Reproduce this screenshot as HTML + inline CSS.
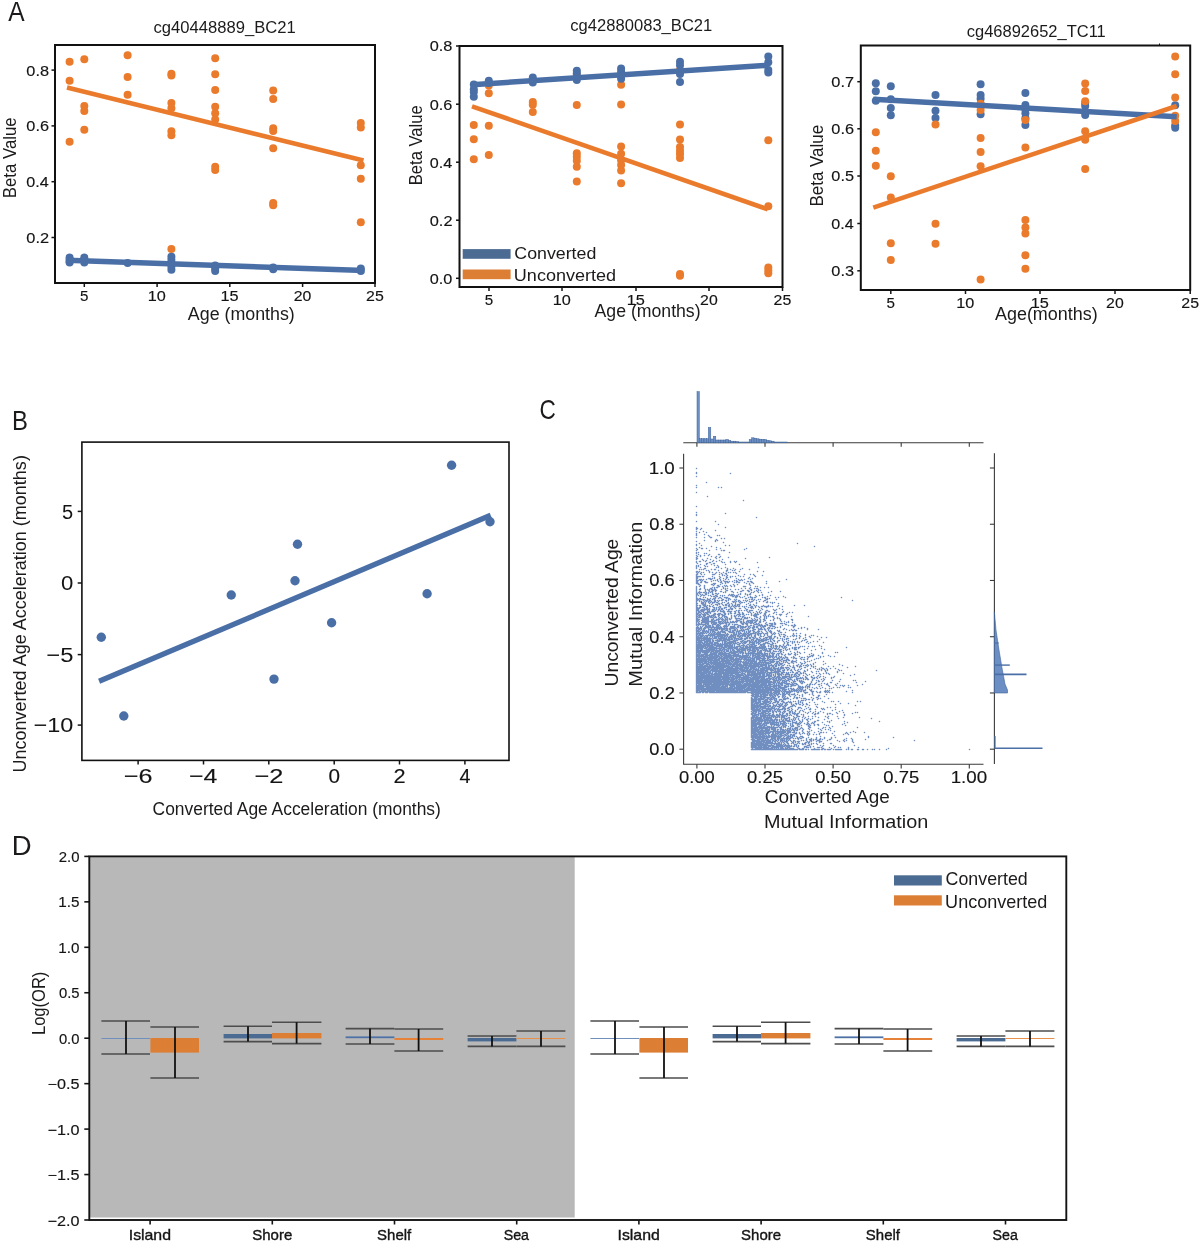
<!DOCTYPE html>
<html><head><meta charset="utf-8"><style>
html,body{margin:0;padding:0;background:#fff;}
svg{display:block;font-family:"Liberation Sans",sans-serif;will-change:transform;}
</style></head><body>
<svg width="1200" height="1243" viewBox="0 0 1200 1243">
<rect width="1200" height="1243" fill="#fff"/>
<text font-size="27.62" fill="#1c1a1a" transform="translate(8.2 21) scale(0.8874 1)">A</text>
<text font-size="28.34" fill="#1c1a1a" transform="translate(12.04 429.7) scale(0.8419 1)">B</text>
<text font-size="27.68" fill="#1c1a1a" transform="translate(539.55 418.53) scale(0.8157 1)">C</text>
<text font-size="28.2" fill="#1c1a1a" transform="translate(11.74 855.2) scale(0.9760 1)">D</text>
<circle cx="69.6" cy="61.7" r="4" fill="#eb7b2c" />
<circle cx="69.6" cy="80.7" r="4" fill="#eb7b2c" />
<circle cx="69.6" cy="141.7" r="4" fill="#eb7b2c" />
<circle cx="84.3" cy="59.3" r="4" fill="#eb7b2c" />
<circle cx="84.3" cy="106" r="4" fill="#eb7b2c" />
<circle cx="84.3" cy="111" r="4" fill="#eb7b2c" />
<circle cx="84.3" cy="129.7" r="4" fill="#eb7b2c" />
<circle cx="127.6" cy="55.3" r="4" fill="#eb7b2c" />
<circle cx="127.6" cy="77" r="4" fill="#eb7b2c" />
<circle cx="127.6" cy="94.7" r="4" fill="#eb7b2c" />
<circle cx="171.4" cy="73.7" r="4" fill="#eb7b2c" />
<circle cx="171.4" cy="75.5" r="4" fill="#eb7b2c" />
<circle cx="171.4" cy="103" r="4" fill="#eb7b2c" />
<circle cx="171.4" cy="108.3" r="4" fill="#eb7b2c" />
<circle cx="171.4" cy="131.3" r="4" fill="#eb7b2c" />
<circle cx="171.4" cy="135.3" r="4" fill="#eb7b2c" />
<circle cx="171.4" cy="248.9" r="4" fill="#eb7b2c" />
<circle cx="215.2" cy="58.3" r="4" fill="#eb7b2c" />
<circle cx="215.2" cy="74.3" r="4" fill="#eb7b2c" />
<circle cx="215.2" cy="90" r="4" fill="#eb7b2c" />
<circle cx="215.2" cy="106.7" r="4" fill="#eb7b2c" />
<circle cx="215.2" cy="113.3" r="4" fill="#eb7b2c" />
<circle cx="215.2" cy="119.5" r="4" fill="#eb7b2c" />
<circle cx="215.2" cy="166.7" r="4" fill="#eb7b2c" />
<circle cx="215.2" cy="170" r="4" fill="#eb7b2c" />
<circle cx="273.2" cy="90.4" r="4" fill="#eb7b2c" />
<circle cx="273.2" cy="98.9" r="4" fill="#eb7b2c" />
<circle cx="273.2" cy="128.2" r="4" fill="#eb7b2c" />
<circle cx="273.2" cy="130.9" r="4" fill="#eb7b2c" />
<circle cx="273.2" cy="148.3" r="4" fill="#eb7b2c" />
<circle cx="273.2" cy="203" r="4" fill="#eb7b2c" />
<circle cx="273.2" cy="205.3" r="4" fill="#eb7b2c" />
<circle cx="360.8" cy="123" r="4" fill="#eb7b2c" />
<circle cx="360.8" cy="127.4" r="4" fill="#eb7b2c" />
<circle cx="360.8" cy="165.3" r="4" fill="#eb7b2c" />
<circle cx="360.8" cy="178.7" r="4" fill="#eb7b2c" />
<circle cx="360.8" cy="222.3" r="4" fill="#eb7b2c" />
<line x1="67" y1="87.6" x2="363.5" y2="160.5" stroke="#eb7b2c" stroke-width="4.6" stroke-linecap="butt" />
<circle cx="69.6" cy="257.5" r="4" fill="#4a6fa6" />
<circle cx="69.6" cy="259.5" r="4" fill="#4a6fa6" />
<circle cx="69.6" cy="261.5" r="4" fill="#4a6fa6" />
<circle cx="69.6" cy="262.5" r="4" fill="#4a6fa6" />
<circle cx="84.3" cy="257.5" r="4" fill="#4a6fa6" />
<circle cx="84.3" cy="259.5" r="4" fill="#4a6fa6" />
<circle cx="84.3" cy="262.5" r="4" fill="#4a6fa6" />
<circle cx="127.6" cy="263" r="4" fill="#4a6fa6" />
<circle cx="171.4" cy="256.7" r="4" fill="#4a6fa6" />
<circle cx="171.4" cy="260" r="4" fill="#4a6fa6" />
<circle cx="171.4" cy="263.5" r="4" fill="#4a6fa6" />
<circle cx="171.4" cy="266.5" r="4" fill="#4a6fa6" />
<circle cx="171.4" cy="269.7" r="4" fill="#4a6fa6" />
<circle cx="215.2" cy="265.5" r="4" fill="#4a6fa6" />
<circle cx="215.2" cy="268.5" r="4" fill="#4a6fa6" />
<circle cx="215.2" cy="271" r="4" fill="#4a6fa6" />
<circle cx="273.2" cy="267.5" r="4" fill="#4a6fa6" />
<circle cx="273.2" cy="269.3" r="4" fill="#4a6fa6" />
<circle cx="360.8" cy="268.5" r="4" fill="#4a6fa6" />
<circle cx="360.8" cy="271" r="4" fill="#4a6fa6" />
<line x1="67" y1="260.3" x2="364.3" y2="270.5" stroke="#4a6fa6" stroke-width="5.5" stroke-linecap="butt" />
<rect x="55" y="45" width="320" height="238" fill="none" stroke="#111" stroke-width="2"/>
<line x1="51.5" y1="70.1" x2="55" y2="70.1" stroke="#141414" stroke-width="1.5" stroke-linecap="butt" />
<line x1="51.5" y1="125.9" x2="55" y2="125.9" stroke="#141414" stroke-width="1.5" stroke-linecap="butt" />
<line x1="51.5" y1="181.7" x2="55" y2="181.7" stroke="#141414" stroke-width="1.5" stroke-linecap="butt" />
<line x1="51.5" y1="237.5" x2="55" y2="237.5" stroke="#141414" stroke-width="1.5" stroke-linecap="butt" />
<line x1="84.3" y1="283" x2="84.3" y2="287" stroke="#141414" stroke-width="1.5" stroke-linecap="butt" />
<line x1="157.1" y1="283" x2="157.1" y2="287" stroke="#141414" stroke-width="1.5" stroke-linecap="butt" />
<line x1="229.8" y1="283" x2="229.8" y2="287" stroke="#141414" stroke-width="1.5" stroke-linecap="butt" />
<line x1="302.6" y1="283" x2="302.6" y2="287" stroke="#141414" stroke-width="1.5" stroke-linecap="butt" />
<line x1="375" y1="283" x2="375" y2="287" stroke="#141414" stroke-width="1.5" stroke-linecap="butt" />
<text font-size="15.47" fill="#141414" stroke="#141414" stroke-width="0.15" transform="translate(26.35 75.5) scale(1.0537 1)">0.8</text>
<text font-size="15.47" fill="#141414" stroke="#141414" stroke-width="0.15" transform="translate(26.35 131.3) scale(1.0541 1)">0.6</text>
<text font-size="15.47" fill="#141414" stroke="#141414" stroke-width="0.15" transform="translate(26.35 187.1) scale(1.0424 1)">0.4</text>
<text font-size="15.47" fill="#141414" stroke="#141414" stroke-width="0.15" transform="translate(26.34 242.9) scale(1.0593 1)">0.2</text>
<text font-size="15.05" fill="#141414" stroke="#141414" stroke-width="0.15" transform="translate(80.1 301.2) scale(1.0072 1)">5</text>
<text font-size="15.05" fill="#141414" stroke="#141414" stroke-width="0.15" transform="translate(147.75 301.2) scale(1.0809 1)">10</text>
<text font-size="15.05" fill="#141414" stroke="#141414" stroke-width="0.15" transform="translate(220.45 301.2) scale(1.0841 1)">15</text>
<text font-size="15.05" fill="#141414" stroke="#141414" stroke-width="0.15" transform="translate(293.69 301.2) scale(1.0536 1)">20</text>
<text font-size="15.05" fill="#141414" stroke="#141414" stroke-width="0.15" transform="translate(366.09 301.2) scale(1.0566 1)">25</text>
<text font-size="16.57" fill="#1c1a1a" transform="translate(153.49 33.4) scale(1.0037 1)">cg40448889_BC21</text>
<text font-size="18.02" fill="#1c1a1a" transform="translate(187.87 319.9) scale(0.9894 1)">Age (months)</text>
<text font-size="18.31" fill="#1c1a1a" transform="translate(16.2 198.28) rotate(-90) scale(0.9177 1)">Beta Value</text>
<circle cx="473.8" cy="125" r="4" fill="#eb7b2c" />
<circle cx="473.8" cy="139.2" r="4" fill="#eb7b2c" />
<circle cx="473.8" cy="159.2" r="4" fill="#eb7b2c" />
<circle cx="488.8" cy="85.5" r="4" fill="#eb7b2c" />
<circle cx="488.8" cy="93.3" r="4" fill="#eb7b2c" />
<circle cx="488.8" cy="125.8" r="4" fill="#eb7b2c" />
<circle cx="488.8" cy="155" r="4" fill="#eb7b2c" />
<circle cx="532.8" cy="102" r="4" fill="#eb7b2c" />
<circle cx="532.8" cy="104.7" r="4" fill="#eb7b2c" />
<circle cx="532.8" cy="112" r="4" fill="#eb7b2c" />
<circle cx="576.8" cy="75" r="4" fill="#eb7b2c" />
<circle cx="576.8" cy="105" r="4" fill="#eb7b2c" />
<circle cx="576.8" cy="153.3" r="4" fill="#eb7b2c" />
<circle cx="576.8" cy="156.7" r="4" fill="#eb7b2c" />
<circle cx="576.8" cy="160.8" r="4" fill="#eb7b2c" />
<circle cx="576.8" cy="166.7" r="4" fill="#eb7b2c" />
<circle cx="576.8" cy="181.5" r="4" fill="#eb7b2c" />
<circle cx="621.1" cy="84.8" r="4" fill="#eb7b2c" />
<circle cx="621.1" cy="104.4" r="4" fill="#eb7b2c" />
<circle cx="621.1" cy="146.4" r="4" fill="#eb7b2c" />
<circle cx="621.1" cy="153.7" r="4" fill="#eb7b2c" />
<circle cx="621.1" cy="160.3" r="4" fill="#eb7b2c" />
<circle cx="621.1" cy="165.1" r="4" fill="#eb7b2c" />
<circle cx="621.1" cy="170.6" r="4" fill="#eb7b2c" />
<circle cx="621.1" cy="183.3" r="4" fill="#eb7b2c" />
<circle cx="680" cy="70" r="4" fill="#eb7b2c" />
<circle cx="680" cy="124.4" r="4" fill="#eb7b2c" />
<circle cx="680" cy="139.4" r="4" fill="#eb7b2c" />
<circle cx="680" cy="146.9" r="4" fill="#eb7b2c" />
<circle cx="680" cy="150.8" r="4" fill="#eb7b2c" />
<circle cx="680" cy="154" r="4" fill="#eb7b2c" />
<circle cx="680" cy="158" r="4" fill="#eb7b2c" />
<circle cx="680" cy="274" r="4" fill="#eb7b2c" />
<circle cx="680" cy="275.7" r="4" fill="#eb7b2c" />
<circle cx="768.3" cy="140.2" r="4" fill="#eb7b2c" />
<circle cx="768.3" cy="206.2" r="4" fill="#eb7b2c" />
<circle cx="768.3" cy="267.5" r="4" fill="#eb7b2c" />
<circle cx="768.3" cy="270.4" r="4" fill="#eb7b2c" />
<circle cx="768.3" cy="273.3" r="4" fill="#eb7b2c" />
<circle cx="473.8" cy="84.5" r="4" fill="#4a6fa6" />
<circle cx="473.8" cy="89.2" r="4" fill="#4a6fa6" />
<circle cx="473.8" cy="92" r="4" fill="#4a6fa6" />
<circle cx="473.8" cy="96.7" r="4" fill="#4a6fa6" />
<circle cx="488.8" cy="80.8" r="4" fill="#4a6fa6" />
<circle cx="488.8" cy="83" r="4" fill="#4a6fa6" />
<circle cx="532.8" cy="77.5" r="4" fill="#4a6fa6" />
<circle cx="532.8" cy="80" r="4" fill="#4a6fa6" />
<circle cx="532.8" cy="82.5" r="4" fill="#4a6fa6" />
<circle cx="576.8" cy="70.8" r="4" fill="#4a6fa6" />
<circle cx="576.8" cy="73.3" r="4" fill="#4a6fa6" />
<circle cx="576.8" cy="80" r="4" fill="#4a6fa6" />
<circle cx="621.1" cy="68.5" r="4" fill="#4a6fa6" />
<circle cx="621.1" cy="71.7" r="4" fill="#4a6fa6" />
<circle cx="621.1" cy="75.6" r="4" fill="#4a6fa6" />
<circle cx="621.1" cy="78.8" r="4" fill="#4a6fa6" />
<circle cx="680" cy="61.7" r="4" fill="#4a6fa6" />
<circle cx="680" cy="65.3" r="4" fill="#4a6fa6" />
<circle cx="680" cy="74" r="4" fill="#4a6fa6" />
<circle cx="680" cy="82" r="4" fill="#4a6fa6" />
<circle cx="768.3" cy="56.6" r="4" fill="#4a6fa6" />
<circle cx="768.3" cy="62.2" r="4" fill="#4a6fa6" />
<circle cx="768.3" cy="70.1" r="4" fill="#4a6fa6" />
<circle cx="768.3" cy="72.5" r="4" fill="#4a6fa6" />
<line x1="472" y1="106.3" x2="767.8" y2="209.3" stroke="#eb7b2c" stroke-width="4.6" stroke-linecap="butt" />
<line x1="472" y1="84.7" x2="767.8" y2="65.3" stroke="#4a6fa6" stroke-width="5.5" stroke-linecap="butt" />
<rect x="459.5" y="46" width="323" height="241" fill="none" stroke="#111" stroke-width="2"/>
<line x1="456" y1="46" x2="459.5" y2="46" stroke="#141414" stroke-width="1.5" stroke-linecap="butt" />
<line x1="456" y1="104.2" x2="459.5" y2="104.2" stroke="#141414" stroke-width="1.5" stroke-linecap="butt" />
<line x1="456" y1="162.2" x2="459.5" y2="162.2" stroke="#141414" stroke-width="1.5" stroke-linecap="butt" />
<line x1="456" y1="220.2" x2="459.5" y2="220.2" stroke="#141414" stroke-width="1.5" stroke-linecap="butt" />
<line x1="456" y1="278.3" x2="459.5" y2="278.3" stroke="#141414" stroke-width="1.5" stroke-linecap="butt" />
<line x1="489" y1="287" x2="489" y2="291" stroke="#141414" stroke-width="1.5" stroke-linecap="butt" />
<line x1="562" y1="287" x2="562" y2="291" stroke="#141414" stroke-width="1.5" stroke-linecap="butt" />
<line x1="636" y1="287" x2="636" y2="291" stroke="#141414" stroke-width="1.5" stroke-linecap="butt" />
<line x1="709" y1="287" x2="709" y2="291" stroke="#141414" stroke-width="1.5" stroke-linecap="butt" />
<line x1="782.5" y1="287" x2="782.5" y2="291" stroke="#141414" stroke-width="1.5" stroke-linecap="butt" />
<text font-size="15.47" fill="#141414" stroke="#141414" stroke-width="0.15" transform="translate(429.75 51.4) scale(1.0537 1)">0.8</text>
<text font-size="15.47" fill="#141414" stroke="#141414" stroke-width="0.15" transform="translate(429.75 109.6) scale(1.0541 1)">0.6</text>
<text font-size="15.47" fill="#141414" stroke="#141414" stroke-width="0.15" transform="translate(429.75 167.6) scale(1.0424 1)">0.4</text>
<text font-size="15.47" fill="#141414" stroke="#141414" stroke-width="0.15" transform="translate(429.74 225.6) scale(1.0593 1)">0.2</text>
<text font-size="15.47" fill="#141414" stroke="#141414" stroke-width="0.15" transform="translate(429.75 283.7) scale(1.0502 1)">0.0</text>
<text font-size="15.05" fill="#141414" stroke="#141414" stroke-width="0.15" transform="translate(484.8 305) scale(1.0072 1)">5</text>
<text font-size="15.05" fill="#141414" stroke="#141414" stroke-width="0.15" transform="translate(552.65 305) scale(1.0809 1)">10</text>
<text font-size="15.05" fill="#141414" stroke="#141414" stroke-width="0.15" transform="translate(626.65 305) scale(1.0841 1)">15</text>
<text font-size="15.05" fill="#141414" stroke="#141414" stroke-width="0.15" transform="translate(700.09 305) scale(1.0536 1)">20</text>
<text font-size="15.05" fill="#141414" stroke="#141414" stroke-width="0.15" transform="translate(773.59 305) scale(1.0566 1)">25</text>
<text font-size="16.42" fill="#1c1a1a" transform="translate(570.29 31.2) scale(1.0105 1)">cg42880083_BC21</text>
<text font-size="17.73" fill="#1c1a1a" transform="translate(594.57 317.1) scale(0.9971 1)">Age (months)</text>
<text font-size="18.31" fill="#1c1a1a" transform="translate(421.5 185.26) rotate(-90) scale(0.9073 1)">Beta Value</text>
<rect x="462.7" y="249.1" width="47.9" height="9.7" fill="#4c6b92" />
<rect x="462.7" y="269.5" width="47.9" height="9.7" fill="#dc7e34" />
<text font-size="17.01" fill="#1c1a1a" transform="translate(514.3 258.8) scale(1.0457 1)">Converted</text>
<text font-size="17.01" fill="#1c1a1a" transform="translate(513.81 281.2) scale(1.0615 1)">Unconverted</text>
<circle cx="875.8" cy="83.3" r="4" fill="#4a6fa6" />
<circle cx="875.8" cy="91.2" r="4" fill="#4a6fa6" />
<circle cx="875.8" cy="100.8" r="4" fill="#4a6fa6" />
<circle cx="890.8" cy="86.3" r="4" fill="#4a6fa6" />
<circle cx="890.8" cy="99.2" r="4" fill="#4a6fa6" />
<circle cx="890.8" cy="108" r="4" fill="#4a6fa6" />
<circle cx="890.8" cy="115.3" r="4" fill="#4a6fa6" />
<circle cx="935.5" cy="95" r="4" fill="#4a6fa6" />
<circle cx="935.5" cy="110.8" r="4" fill="#4a6fa6" />
<circle cx="935.5" cy="118" r="4" fill="#4a6fa6" />
<circle cx="980.6" cy="84.2" r="4" fill="#4a6fa6" />
<circle cx="980.6" cy="95" r="4" fill="#4a6fa6" />
<circle cx="980.6" cy="98.7" r="4" fill="#4a6fa6" />
<circle cx="980.6" cy="104.2" r="4" fill="#4a6fa6" />
<circle cx="980.6" cy="114.2" r="4" fill="#4a6fa6" />
<circle cx="1025.4" cy="93" r="4" fill="#4a6fa6" />
<circle cx="1025.4" cy="105" r="4" fill="#4a6fa6" />
<circle cx="1025.4" cy="109.2" r="4" fill="#4a6fa6" />
<circle cx="1025.4" cy="113.3" r="4" fill="#4a6fa6" />
<circle cx="1025.4" cy="118.3" r="4" fill="#4a6fa6" />
<circle cx="1025.4" cy="125" r="4" fill="#4a6fa6" />
<circle cx="1085.2" cy="103" r="4" fill="#4a6fa6" />
<circle cx="1085.2" cy="106" r="4" fill="#4a6fa6" />
<circle cx="1085.2" cy="112" r="4" fill="#4a6fa6" />
<circle cx="1085.2" cy="115" r="4" fill="#4a6fa6" />
<circle cx="1175.2" cy="105.2" r="4" fill="#4a6fa6" />
<circle cx="1175.2" cy="125.5" r="4" fill="#4a6fa6" />
<circle cx="1175.2" cy="127.7" r="4" fill="#4a6fa6" />
<circle cx="875.8" cy="132.2" r="4" fill="#eb7b2c" />
<circle cx="875.8" cy="150.8" r="4" fill="#eb7b2c" />
<circle cx="875.8" cy="165.8" r="4" fill="#eb7b2c" />
<circle cx="890.8" cy="176.3" r="4" fill="#eb7b2c" />
<circle cx="890.8" cy="197.5" r="4" fill="#eb7b2c" />
<circle cx="890.8" cy="243.3" r="4" fill="#eb7b2c" />
<circle cx="890.8" cy="260" r="4" fill="#eb7b2c" />
<circle cx="935.5" cy="124.5" r="4" fill="#eb7b2c" />
<circle cx="935.5" cy="223.7" r="4" fill="#eb7b2c" />
<circle cx="935.5" cy="243.8" r="4" fill="#eb7b2c" />
<circle cx="980.6" cy="103.8" r="4" fill="#eb7b2c" />
<circle cx="980.6" cy="110" r="4" fill="#eb7b2c" />
<circle cx="980.6" cy="138" r="4" fill="#eb7b2c" />
<circle cx="980.6" cy="152" r="4" fill="#eb7b2c" />
<circle cx="980.6" cy="166.2" r="4" fill="#eb7b2c" />
<circle cx="980.6" cy="279.5" r="4" fill="#eb7b2c" />
<circle cx="1025.4" cy="120" r="4" fill="#eb7b2c" />
<circle cx="1025.4" cy="147.5" r="4" fill="#eb7b2c" />
<circle cx="1025.4" cy="220" r="4" fill="#eb7b2c" />
<circle cx="1025.4" cy="227.5" r="4" fill="#eb7b2c" />
<circle cx="1025.4" cy="233.5" r="4" fill="#eb7b2c" />
<circle cx="1025.4" cy="255.3" r="4" fill="#eb7b2c" />
<circle cx="1025.4" cy="268.7" r="4" fill="#eb7b2c" />
<circle cx="1085.2" cy="83.5" r="4" fill="#eb7b2c" />
<circle cx="1085.2" cy="91" r="4" fill="#eb7b2c" />
<circle cx="1085.2" cy="101.2" r="4" fill="#eb7b2c" />
<circle cx="1085.2" cy="131.2" r="4" fill="#eb7b2c" />
<circle cx="1085.2" cy="139.7" r="4" fill="#eb7b2c" />
<circle cx="1085.2" cy="169" r="4" fill="#eb7b2c" />
<circle cx="1175.2" cy="56.5" r="4" fill="#eb7b2c" />
<circle cx="1175.2" cy="74.2" r="4" fill="#eb7b2c" />
<circle cx="1175.2" cy="97.4" r="4" fill="#eb7b2c" />
<circle cx="1175.2" cy="115.7" r="4" fill="#eb7b2c" />
<circle cx="1175.2" cy="121" r="4" fill="#eb7b2c" />
<line x1="873.3" y1="99.2" x2="1176.7" y2="116.8" stroke="#4a6fa6" stroke-width="5.5" stroke-linecap="butt" />
<line x1="873.3" y1="207.6" x2="1176.7" y2="106" stroke="#eb7b2c" stroke-width="4.6" stroke-linecap="butt" />
<rect x="860.8" y="45.5" width="329.4" height="244.5" fill="none" stroke="#111" stroke-width="2"/>
<line x1="857.3" y1="81.7" x2="860.8" y2="81.7" stroke="#141414" stroke-width="1.5" stroke-linecap="butt" />
<line x1="857.3" y1="128.8" x2="860.8" y2="128.8" stroke="#141414" stroke-width="1.5" stroke-linecap="butt" />
<line x1="857.3" y1="176" x2="860.8" y2="176" stroke="#141414" stroke-width="1.5" stroke-linecap="butt" />
<line x1="857.3" y1="223.5" x2="860.8" y2="223.5" stroke="#141414" stroke-width="1.5" stroke-linecap="butt" />
<line x1="857.3" y1="270.8" x2="860.8" y2="270.8" stroke="#141414" stroke-width="1.5" stroke-linecap="butt" />
<line x1="890.8" y1="290" x2="890.8" y2="294" stroke="#141414" stroke-width="1.5" stroke-linecap="butt" />
<line x1="965.5" y1="290" x2="965.5" y2="294" stroke="#141414" stroke-width="1.5" stroke-linecap="butt" />
<line x1="1040" y1="290" x2="1040" y2="294" stroke="#141414" stroke-width="1.5" stroke-linecap="butt" />
<line x1="1115" y1="290" x2="1115" y2="294" stroke="#141414" stroke-width="1.5" stroke-linecap="butt" />
<line x1="1190.2" y1="290" x2="1190.2" y2="294" stroke="#141414" stroke-width="1.5" stroke-linecap="butt" />
<line x1="1159.5" y1="43.5" x2="1159.5" y2="45.5" stroke="#141414" stroke-width="1" stroke-linecap="butt" />
<text font-size="15.47" fill="#141414" stroke="#141414" stroke-width="0.15" transform="translate(831.34 87.1) scale(1.0593 1)">0.7</text>
<text font-size="15.47" fill="#141414" stroke="#141414" stroke-width="0.15" transform="translate(831.35 134.2) scale(1.0541 1)">0.6</text>
<text font-size="15.47" fill="#141414" stroke="#141414" stroke-width="0.15" transform="translate(831.35 181.4) scale(1.0525 1)">0.5</text>
<text font-size="15.47" fill="#141414" stroke="#141414" stroke-width="0.15" transform="translate(831.35 228.9) scale(1.0424 1)">0.4</text>
<text font-size="15.47" fill="#141414" stroke="#141414" stroke-width="0.15" transform="translate(831.35 276.2) scale(1.0541 1)">0.3</text>
<text font-size="15.05" fill="#141414" stroke="#141414" stroke-width="0.15" transform="translate(886.6 308.3) scale(1.0072 1)">5</text>
<text font-size="15.05" fill="#141414" stroke="#141414" stroke-width="0.15" transform="translate(956.15 308.3) scale(1.0809 1)">10</text>
<text font-size="15.05" fill="#141414" stroke="#141414" stroke-width="0.15" transform="translate(1030.65 308.3) scale(1.0841 1)">15</text>
<text font-size="15.05" fill="#141414" stroke="#141414" stroke-width="0.15" transform="translate(1106.09 308.3) scale(1.0536 1)">20</text>
<text font-size="15.05" fill="#141414" stroke="#141414" stroke-width="0.15" transform="translate(1181.29 308.3) scale(1.0566 1)">25</text>
<text font-size="16.57" fill="#1c1a1a" transform="translate(966.8 37.4) scale(0.9954 1)">cg46892652_TC11</text>
<text font-size="17.73" fill="#1c1a1a" transform="translate(994.96 319.5) scale(1.0132 1)">Age(months)</text>
<text font-size="18.31" fill="#1c1a1a" transform="translate(823.2 206.49) rotate(-90) scale(0.9257 1)">Beta Value</text>
<circle cx="101.3" cy="637.3" r="4.7" fill="#4a6fa6" />
<circle cx="123.8" cy="716" r="4.7" fill="#4a6fa6" />
<circle cx="231.25" cy="595" r="4.7" fill="#4a6fa6" />
<circle cx="274" cy="679.1" r="4.7" fill="#4a6fa6" />
<circle cx="295" cy="580.8" r="4.7" fill="#4a6fa6" />
<circle cx="297.5" cy="544.2" r="4.7" fill="#4a6fa6" />
<circle cx="331.6" cy="622.8" r="4.7" fill="#4a6fa6" />
<circle cx="427.1" cy="593.75" r="4.7" fill="#4a6fa6" />
<circle cx="451.6" cy="465.3" r="4.7" fill="#4a6fa6" />
<circle cx="490" cy="521.7" r="4.7" fill="#4a6fa6" />
<line x1="99.1" y1="681.3" x2="490.7" y2="515.3" stroke="#4a6fa6" stroke-width="5.3" stroke-linecap="butt" />
<rect x="81.9" y="442.1" width="427.1" height="318.3" fill="none" stroke="#111" stroke-width="1.6"/>
<line x1="77.7" y1="511.4" x2="81.9" y2="511.4" stroke="#141414" stroke-width="1.5" stroke-linecap="butt" />
<line x1="77.7" y1="583" x2="81.9" y2="583" stroke="#141414" stroke-width="1.5" stroke-linecap="butt" />
<line x1="77.7" y1="654.6" x2="81.9" y2="654.6" stroke="#141414" stroke-width="1.5" stroke-linecap="butt" />
<line x1="77.7" y1="725.1" x2="81.9" y2="725.1" stroke="#141414" stroke-width="1.5" stroke-linecap="butt" />
<line x1="138.1" y1="760.4" x2="138.1" y2="764.5" stroke="#141414" stroke-width="1.5" stroke-linecap="butt" />
<line x1="203.5" y1="760.4" x2="203.5" y2="764.5" stroke="#141414" stroke-width="1.5" stroke-linecap="butt" />
<line x1="268.8" y1="760.4" x2="268.8" y2="764.5" stroke="#141414" stroke-width="1.5" stroke-linecap="butt" />
<line x1="334.2" y1="760.4" x2="334.2" y2="764.5" stroke="#141414" stroke-width="1.5" stroke-linecap="butt" />
<line x1="399.5" y1="760.4" x2="399.5" y2="764.5" stroke="#141414" stroke-width="1.5" stroke-linecap="butt" />
<line x1="464.9" y1="760.4" x2="464.9" y2="764.5" stroke="#141414" stroke-width="1.5" stroke-linecap="butt" />
<text font-size="20.79" fill="#141414" transform="translate(62.1 518.6) scale(0.9640 1)">5</text>
<text font-size="20.79" fill="#141414" transform="translate(60.93 590.2) scale(1.0668 1)">0</text>
<text font-size="20.79" fill="#141414" transform="translate(46.22 661.8) scale(1.1468 1)">−5</text>
<text font-size="20.79" fill="#141414" transform="translate(33.44 732.3) scale(1.1310 1)">−10</text>
<text font-size="20.77" fill="#141414" stroke="#141414" stroke-width="0.15" transform="translate(123.69 783.4) scale(1.2116 1)">−6</text>
<text font-size="20.77" fill="#141414" stroke="#141414" stroke-width="0.15" transform="translate(189.1 783.4) scale(1.1949 1)">−4</text>
<text font-size="20.77" fill="#141414" stroke="#141414" stroke-width="0.15" transform="translate(254.38 783.4) scale(1.2190 1)">−2</text>
<text font-size="20.77" fill="#141414" stroke="#141414" stroke-width="0.15" transform="translate(328.43 783.4) scale(0.9990 1)">0</text>
<text font-size="20.77" fill="#141414" stroke="#141414" stroke-width="0.15" transform="translate(393.45 783.4) scale(1.0482 1)">2</text>
<text font-size="20.77" fill="#141414" stroke="#141414" stroke-width="0.15" transform="translate(459.49 783.4) scale(0.9477 1)">4</text>
<text font-size="18.31" fill="#1c1a1a" transform="translate(152.62 814.9) scale(0.9505 1)">Converted Age Acceleration (months)</text>
<text font-size="18.31" fill="#1c1a1a" transform="translate(26.2 772.49) rotate(-90) scale(0.9842 1)">Unconverted Age Acceleration (months)</text>
<path d="M696.5 468.5h0m0 4h0m0 1h0m0 0h0m34 0h0m-34 3h0m10 6h0m-10 3h0m0 2h0m22 0h0m3 0h0m-25 5h0m0 0h0m11 4h0m36 4h0m-47 6h0m0 0h0m0 6h0m29 1h0m-29 1h0m0 1h0m60 2h0m-60 4h0m19 0h0m3 3h0m-22 3h0m29 0h0m-29 1h0m0 0h0m1 0h0m4 0h0m-5 1h0m4 0h0m15 1h0m-19 1h0m7 0h0m-4 1h0m7 0h0m-10 1h0m0 1h0m8 0h0m-8 1h0m12 0h0m9 0h0m2 0h0m-10 1h0m-13 1h0m8 0h0m6 0h0m1 0h0m10 1h0m3 0h0m-8 1h0m-12 1h0m11 0h0m2 0h0m-21 1h0m19 0h0m8 1h0m-24 1h0m98 0h0m-101 1h0m0 1h0m0 0h0m5 0h0m0 0h0m24 0h0m4 0h0m-18 1h0m103 0h0m-115 1h0m17 0h0m-20 1h0m0 0h0m5 0h0m1 0h0m4 0h0m14 0h0m0 0h0m26 0h0m-49 1h0m19 0h0m28 0h0m-48 1h0m0 0h0m13 0h0m12 0h0m2 0h0m1 0h0m-28 2h0m2 0h0m31 0h0m-33 1h0m0 0h0m0 0h0m8 0h0m2 0h0m-8 1h0m11 0h0m9 0h0m1 0h0m-23 1h0m4 0h0m4 0h0m4 0h0m-11 1h0m3 0h0m11 0h0m5 0h0m4 0h0m-24 1h0m19 0h0m4 0h0m9 0h0m41 0h0m-73 1h0m1 0h0m10 0h0m9 0h0m29 0h0m-49 1h0m0 0h0m0 0h0m6 0h0m0 0h0m8 0h0m0 0h0m12 0h0m-19 1h0m3 0h0m7 0h0m6 0h0m-23 1h0m3 0h0m1 0h0m5 0h0m7 0h0m4 0h0m5 0h0m9 0h0m4 0h0m2 0h0m-40 1h0m13 0h0m1 0h0m12 0h0m2 0h0m6 0h0m5 0h0m22 0h0m-60 1h0m9 0h0m1 0h0m6 0h0m1 0h0m-14 1h0m6 0h0m5 0h0m14 0h0m14 0h0m-43 1h0m0 0h0m2 0h0m6 0h0m0 0h0m10 0h0m3 0h0m-21 1h0m2 0h0m7 0h0m2 0h0m11 0h0m-22 1h0m4 0h0m16 0h0m2 0h0m7 0h0m33 0h0m-62 1h0m0 0h0m8 0h0m1 0h0m16 0h0m6 0h0m6 0h0m9 0h0m-43 1h0m2 0h0m0 0h0m2 0h0m8 0h0m3 0h0m1 0h0m0 0h0m12 0h0m3 0h0m5 0h0m5 0h0m9 0h0m-43 1h0m2 0h0m10 0h0m8 0h0m1 0h0m5 0h0m2 0h0m-38 1h0m0 0h0m1 0h0m2 0h0m0 0h0m0 0h0m10 0h0m17 0h0m13 0h0m18 0h0m6 0h0m-67 1h0m0 0h0m0 0h0m2 0h0m0 0h0m3 0h0m2 0h0m6 0h0m3 0h0m0 0h0m4 0h0m3 0h0m4 0h0m5 0h0m2 0h0m3 0h0m2 0h0m-38 1h0m3 0h0m15 0h0m0 0h0m6 0h0m4 0h0m1 0h0m10 0h0m-40 1h0m0 0h0m0 0h0m0 0h0m1 0h0m4 0h0m3 0h0m8 0h0m1 0h0m1 0h0m5 0h0m3 0h0m4 0h0m18 0h0m6 0h0m3 0h0m-57 1h0m26 0h0m2 0h0m3 0h0m11 0h0m16 0h0m8 0h0m-66 1h0m1 0h0m1 0h0m1 0h0m1 0h0m2 0h0m1 0h0m9 0h0m7 0h0m0 0h0m7 0h0m4 0h0m2 0h0m3 0h0m5 0h0m3 0h0m12 0h0m-59 1h0m0 0h0m1 0h0m17 0h0m6 0h0m6 0h0m1 0h0m3 0h0m19 0h0m-53 1h0m0 0h0m0 0h0m1 0h0m11 0h0m0 0h0m1 0h0m0 0h0m1 0h0m2 0h0m2 0h0m5 0h0m4 0h0m3 0h0m10 0h0m12 0h0m4 0h0m-56 1h0m0 0h0m0 0h0m0 0h0m0 0h0m3 0h0m0 0h0m1 0h0m1 0h0m2 0h0m0 0h0m3 0h0m4 0h0m1 0h0m6 0h0m3 0h0m5 0h0m0 0h0m3 0h0m10 0h0m3 0h0m3 0h0m6 0h0m0 0h0m36 0h0m-90 1h0m0 0h0m1 0h0m0 0h0m1 0h0m2 0h0m2 0h0m11 0h0m0 0h0m2 0h0m2 0h0m3 0h0m3 0h0m11 0h0m2 0h0m3 0h0m1 0h0m2 0h0m-46 1h0m0 0h0m1 0h0m0 0h0m4 0h0m3 0h0m1 0h0m6 0h0m7 0h0m3 0h0m3 0h0m1 0h0m1 0h0m1 0h0m2 0h0m3 0h0m4 0h0m0 0h0m1 0h0m10 0h0m1 0h0m0 0h0m2 0h0m1 0h0m0 0h0m15 0h0m13 0h0m-83 1h0m1 0h0m3 0h0m1 0h0m4 0h0m1 0h0m1 0h0m0 0h0m13 0h0m1 0h0m4 0h0m2 0h0m1 0h0m6 0h0m2 0h0m2 0h0m0 0h0m1 0h0m5 0h0m7 0h0m1 0h0m-56 1h0m0 0h0m1 0h0m1 0h0m0 0h0m15 0h0m1 0h0m1 0h0m7 0h0m3 0h0m21 0h0m3 0h0m4 0h0m13 0h0m-68 1h0m0 0h0m1 0h0m12 0h0m1 0h0m2 0h0m6 0h0m13 0h0m4 0h0m12 0h0m-49 1h0m4 0h0m9 0h0m4 0h0m1 0h0m6 0h0m0 0h0m2 0h0m4 0h0m4 0h0m0 0h0m16 0h0m-54 1h0m3 0h0m5 0h0m14 0h0m0 0h0m1 0h0m3 0h0m3 0h0m0 0h0m2 0h0m4 0h0m3 0h0m9 0h0m1 0h0m0 0h0m1 0h0m10 0h0m2 0h0m-61 1h0m0 0h0m0 0h0m0 0h0m0 0h0m8 0h0m8 0h0m2 0h0m2 0h0m1 0h0m0 0h0m6 0h0m27 0h0m10 0h0m4 0h0m4 0h0m-72 1h0m0 0h0m0 0h0m0 0h0m0 0h0m4 0h0m4 0h0m6 0h0m1 0h0m3 0h0m9 0h0m2 0h0m2 0h0m14 0h0m4 0h0m4 0h0m5 0h0m2 0h0m1 0h0m-61 1h0m0 0h0m3 0h0m1 0h0m5 0h0m2 0h0m0 0h0m2 0h0m2 0h0m1 0h0m0 0h0m2 0h0m1 0h0m0 0h0m6 0h0m4 0h0m5 0h0m0 0h0m5 0h0m3 0h0m12 0h0m1 0h0m7 0h0m-62 1h0m0 0h0m0 0h0m9 0h0m3 0h0m1 0h0m3 0h0m1 0h0m2 0h0m1 0h0m10 0h0m1 0h0m15 0h0m0 0h0m1 0h0m4 0h0m1 0h0m3 0h0m5 0h0m2 0h0m2 0h0m-64 1h0m3 0h0m6 0h0m4 0h0m2 0h0m0 0h0m1 0h0m3 0h0m5 0h0m1 0h0m0 0h0m4 0h0m6 0h0m1 0h0m8 0h0m1 0h0m7 0h0m1 0h0m5 0h0m3 0h0m14 0h0m9 0h0m-84 1h0m0 0h0m0 0h0m0 0h0m2 0h0m1 0h0m1 0h0m1 0h0m0 0h0m2 0h0m1 0h0m2 0h0m2 0h0m0 0h0m2 0h0m2 0h0m11 0h0m2 0h0m8 0h0m4 0h0m14 0h0m2 0h0m5 0h0m3 0h0m7 0h0m-72 1h0m0 0h0m0 0h0m0 0h0m0 0h0m0 0h0m1 0h0m2 0h0m6 0h0m1 0h0m0 0h0m2 0h0m4 0h0m3 0h0m1 0h0m2 0h0m22 0h0m5 0h0m5 0h0m-54 1h0m0 0h0m0 0h0m0 0h0m0 0h0m0 0h0m0 0h0m1 0h0m3 0h0m2 0h0m3 0h0m1 0h0m6 0h0m1 0h0m4 0h0m12 0h0m2 0h0m1 0h0m1 0h0m5 0h0m2 0h0m5 0h0m2 0h0m2 0h0m1 0h0m0 0h0m12 0h0m-66 1h0m0 0h0m0 0h0m2 0h0m3 0h0m2 0h0m0 0h0m1 0h0m4 0h0m2 0h0m5 0h0m1 0h0m4 0h0m2 0h0m0 0h0m2 0h0m4 0h0m2 0h0m1 0h0m1 0h0m2 0h0m2 0h0m1 0h0m10 0h0m8 0h0m4 0h0m3 0h0m8 0h0m-74 1h0m0 0h0m4 0h0m11 0h0m2 0h0m1 0h0m2 0h0m0 0h0m1 0h0m5 0h0m0 0h0m0 0h0m10 0h0m0 0h0m1 0h0m2 0h0m1 0h0m1 0h0m0 0h0m2 0h0m5 0h0m6 0h0m6 0h0m11 0h0m16 0h0m-87 1h0m0 0h0m0 0h0m7 0h0m2 0h0m0 0h0m10 0h0m4 0h0m0 0h0m0 0h0m1 0h0m4 0h0m1 0h0m1 0h0m1 0h0m8 0h0m1 0h0m4 0h0m2 0h0m0 0h0m6 0h0m0 0h0m2 0h0m1 0h0m1 0h0m2 0h0m0 0h0m0 0h0m1 0h0m7 0h0m2 0h0m1 0h0m10 0h0m3 0h0m7 0h0m56 0h0m-145 1h0m0 0h0m1 0h0m2 0h0m1 0h0m0 0h0m7 0h0m3 0h0m3 0h0m1 0h0m1 0h0m3 0h0m3 0h0m5 0h0m2 0h0m1 0h0m0 0h0m16 0h0m1 0h0m6 0h0m13 0h0m2 0h0m2 0h0m-73 1h0m0 0h0m0 0h0m1 0h0m1 0h0m2 0h0m1 0h0m0 0h0m1 0h0m0 0h0m0 0h0m1 0h0m1 0h0m3 0h0m1 0h0m1 0h0m3 0h0m0 0h0m2 0h0m8 0h0m1 0h0m5 0h0m2 0h0m0 0h0m0 0h0m4 0h0m2 0h0m13 0h0m2 0h0m1 0h0m2 0h0m0 0h0m4 0h0m2 0h0m6 0h0m1 0h0m9 0h0m-80 1h0m0 0h0m0 0h0m1 0h0m2 0h0m4 0h0m0 0h0m2 0h0m1 0h0m1 0h0m0 0h0m2 0h0m1 0h0m0 0h0m4 0h0m1 0h0m2 0h0m2 0h0m2 0h0m1 0h0m3 0h0m1 0h0m2 0h0m7 0h0m3 0h0m0 0h0m1 0h0m4 0h0m2 0h0m2 0h0m6 0h0m3 0h0m0 0h0m8 0h0m1 0h0m87 0h0m-156 1h0m0 0h0m0 0h0m3 0h0m2 0h0m3 0h0m2 0h0m2 0h0m0 0h0m0 0h0m1 0h0m2 0h0m3 0h0m1 0h0m3 0h0m8 0h0m6 0h0m1 0h0m1 0h0m0 0h0m2 0h0m2 0h0m2 0h0m6 0h0m0 0h0m3 0h0m2 0h0m1 0h0m7 0h0m4 0h0m4 0h0m-71 1h0m0 0h0m5 0h0m1 0h0m1 0h0m2 0h0m3 0h0m2 0h0m2 0h0m0 0h0m1 0h0m1 0h0m2 0h0m1 0h0m0 0h0m5 0h0m2 0h0m0 0h0m4 0h0m0 0h0m5 0h0m2 0h0m4 0h0m2 0h0m1 0h0m2 0h0m6 0h0m6 0h0m10 0h0m1 0h0m3 0h0m2 0h0m2 0h0m-78 1h0m0 0h0m0 0h0m0 0h0m0 0h0m0 0h0m0 0h0m1 0h0m0 0h0m0 0h0m4 0h0m1 0h0m1 0h0m2 0h0m4 0h0m3 0h0m6 0h0m1 0h0m2 0h0m6 0h0m1 0h0m3 0h0m4 0h0m5 0h0m0 0h0m8 0h0m8 0h0m16 0h0m6 0h0m-82 1h0m0 0h0m0 0h0m6 0h0m0 0h0m1 0h0m0 0h0m1 0h0m1 0h0m6 0h0m4 0h0m1 0h0m0 0h0m1 0h0m2 0h0m3 0h0m0 0h0m3 0h0m1 0h0m3 0h0m3 0h0m3 0h0m2 0h0m1 0h0m1 0h0m7 0h0m0 0h0m4 0h0m3 0h0m-57 1h0m0 0h0m0 0h0m0 0h0m1 0h0m2 0h0m1 0h0m3 0h0m1 0h0m0 0h0m1 0h0m2 0h0m2 0h0m4 0h0m4 0h0m0 0h0m6 0h0m2 0h0m1 0h0m0 0h0m2 0h0m1 0h0m3 0h0m2 0h0m1 0h0m2 0h0m0 0h0m2 0h0m10 0h0m1 0h0m4 0h0m2 0h0m7 0h0m5 0h0m10 0h0m16 0h0m10 0h0m-108 1h0m0 0h0m0 0h0m0 0h0m0 0h0m4 0h0m0 0h0m4 0h0m1 0h0m1 0h0m3 0h0m1 0h0m0 0h0m2 0h0m7 0h0m1 0h0m8 0h0m0 0h0m1 0h0m2 0h0m2 0h0m2 0h0m1 0h0m0 0h0m0 0h0m2 0h0m1 0h0m3 0h0m0 0h0m2 0h0m2 0h0m5 0h0m1 0h0m0 0h0m3 0h0m3 0h0m0 0h0m3 0h0m1 0h0m2 0h0m1 0h0m1 0h0m1 0h0m1 0h0m2 0h0m2 0h0m5 0h0m5 0h0m-86 1h0m0 0h0m0 0h0m0 0h0m1 0h0m2 0h0m0 0h0m1 0h0m2 0h0m0 0h0m0 0h0m1 0h0m3 0h0m1 0h0m6 0h0m0 0h0m1 0h0m2 0h0m2 0h0m2 0h0m0 0h0m4 0h0m1 0h0m1 0h0m4 0h0m0 0h0m4 0h0m10 0h0m4 0h0m2 0h0m1 0h0m1 0h0m3 0h0m4 0h0m7 0h0m-70 1h0m0 0h0m0 0h0m1 0h0m1 0h0m1 0h0m5 0h0m2 0h0m1 0h0m2 0h0m0 0h0m5 0h0m0 0h0m2 0h0m0 0h0m3 0h0m2 0h0m1 0h0m0 0h0m2 0h0m0 0h0m6 0h0m1 0h0m1 0h0m3 0h0m4 0h0m1 0h0m0 0h0m5 0h0m6 0h0m2 0h0m8 0h0m18 0h0m-83 1h0m0 0h0m1 0h0m1 0h0m3 0h0m1 0h0m1 0h0m0 0h0m1 0h0m1 0h0m0 0h0m1 0h0m1 0h0m1 0h0m0 0h0m1 0h0m3 0h0m1 0h0m1 0h0m0 0h0m2 0h0m2 0h0m1 0h0m2 0h0m1 0h0m0 0h0m4 0h0m0 0h0m2 0h0m0 0h0m1 0h0m0 0h0m2 0h0m1 0h0m14 0h0m0 0h0m1 0h0m11 0h0m0 0h0m0 0h0m4 0h0m11 0h0m3 0h0m6 0h0m-86 1h0m1 0h0m0 0h0m1 0h0m2 0h0m1 0h0m1 0h0m1 0h0m1 0h0m3 0h0m0 0h0m2 0h0m0 0h0m3 0h0m0 0h0m0 0h0m1 0h0m2 0h0m3 0h0m0 0h0m0 0h0m2 0h0m0 0h0m3 0h0m0 0h0m0 0h0m5 0h0m8 0h0m0 0h0m2 0h0m1 0h0m2 0h0m3 0h0m2 0h0m3 0h0m0 0h0m1 0h0m1 0h0m1 0h0m8 0h0m6 0h0m1 0h0m7 0h0m1 0h0m-79 1h0m0 0h0m0 0h0m0 0h0m0 0h0m2 0h0m1 0h0m0 0h0m2 0h0m1 0h0m1 0h0m0 0h0m4 0h0m1 0h0m0 0h0m1 0h0m2 0h0m0 0h0m0 0h0m1 0h0m0 0h0m1 0h0m1 0h0m0 0h0m3 0h0m3 0h0m1 0h0m1 0h0m1 0h0m1 0h0m3 0h0m1 0h0m1 0h0m1 0h0m1 0h0m3 0h0m0 0h0m0 0h0m1 0h0m3 0h0m9 0h0m2 0h0m7 0h0m3 0h0m0 0h0m6 0h0m3 0h0m1 0h0m0 0h0m14 0h0m-87 1h0m0 0h0m0 0h0m2 0h0m0 0h0m1 0h0m1 0h0m3 0h0m2 0h0m1 0h0m1 0h0m1 0h0m1 0h0m1 0h0m0 0h0m13 0h0m1 0h0m0 0h0m6 0h0m5 0h0m3 0h0m1 0h0m3 0h0m6 0h0m2 0h0m3 0h0m0 0h0m0 0h0m4 0h0m2 0h0m2 0h0m4 0h0m1 0h0m0 0h0m0 0h0m8 0h0m2 0h0m6 0h0m7 0h0m3 0h0m-96 1h0m0 0h0m1 0h0m1 0h0m0 0h0m0 0h0m0 0h0m3 0h0m3 0h0m2 0h0m0 0h0m1 0h0m3 0h0m4 0h0m1 0h0m3 0h0m1 0h0m1 0h0m0 0h0m0 0h0m4 0h0m1 0h0m0 0h0m3 0h0m2 0h0m0 0h0m1 0h0m3 0h0m0 0h0m0 0h0m1 0h0m4 0h0m3 0h0m1 0h0m8 0h0m0 0h0m4 0h0m2 0h0m3 0h0m4 0h0m1 0h0m8 0h0m14 0h0m-91 1h0m0 0h0m1 0h0m2 0h0m1 0h0m0 0h0m2 0h0m1 0h0m1 0h0m0 0h0m1 0h0m2 0h0m1 0h0m5 0h0m1 0h0m1 0h0m0 0h0m2 0h0m0 0h0m1 0h0m1 0h0m2 0h0m1 0h0m2 0h0m1 0h0m3 0h0m9 0h0m1 0h0m1 0h0m0 0h0m1 0h0m2 0h0m1 0h0m3 0h0m0 0h0m2 0h0m3 0h0m0 0h0m3 0h0m1 0h0m1 0h0m0 0h0m1 0h0m1 0h0m6 0h0m0 0h0m1 0h0m4 0h0m7 0h0m3 0h0m1 0h0m1 0h0m5 0h0m-90 1h0m0 0h0m0 0h0m0 0h0m0 0h0m0 0h0m2 0h0m0 0h0m1 0h0m1 0h0m0 0h0m3 0h0m1 0h0m1 0h0m0 0h0m4 0h0m0 0h0m2 0h0m1 0h0m0 0h0m0 0h0m0 0h0m1 0h0m0 0h0m1 0h0m4 0h0m0 0h0m1 0h0m3 0h0m0 0h0m1 0h0m0 0h0m0 0h0m0 0h0m0 0h0m1 0h0m0 0h0m7 0h0m3 0h0m2 0h0m3 0h0m5 0h0m0 0h0m7 0h0m2 0h0m1 0h0m1 0h0m0 0h0m1 0h0m7 0h0m2 0h0m3 0h0m12 0h0m-84 1h0m0 0h0m0 0h0m0 0h0m0 0h0m1 0h0m0 0h0m2 0h0m2 0h0m2 0h0m1 0h0m0 0h0m3 0h0m1 0h0m1 0h0m1 0h0m1 0h0m0 0h0m2 0h0m0 0h0m2 0h0m3 0h0m4 0h0m2 0h0m1 0h0m0 0h0m1 0h0m5 0h0m0 0h0m0 0h0m0 0h0m3 0h0m1 0h0m3 0h0m0 0h0m0 0h0m2 0h0m2 0h0m0 0h0m1 0h0m0 0h0m11 0h0m0 0h0m1 0h0m1 0h0m4 0h0m4 0h0m2 0h0m2 0h0m0 0h0m2 0h0m2 0h0m1 0h0m13 0h0m5 0h0m17 0h0m-112 1h0m0 0h0m0 0h0m0 0h0m0 0h0m2 0h0m1 0h0m1 0h0m2 0h0m0 0h0m0 0h0m2 0h0m1 0h0m1 0h0m1 0h0m0 0h0m1 0h0m0 0h0m0 0h0m2 0h0m1 0h0m1 0h0m2 0h0m1 0h0m1 0h0m3 0h0m2 0h0m0 0h0m3 0h0m2 0h0m1 0h0m0 0h0m0 0h0m0 0h0m4 0h0m4 0h0m7 0h0m2 0h0m1 0h0m2 0h0m2 0h0m7 0h0m1 0h0m0 0h0m0 0h0m3 0h0m0 0h0m4 0h0m2 0h0m7 0h0m4 0h0m-81 1h0m0 0h0m0 0h0m0 0h0m0 0h0m0 0h0m1 0h0m0 0h0m5 0h0m1 0h0m1 0h0m1 0h0m1 0h0m1 0h0m1 0h0m0 0h0m0 0h0m5 0h0m5 0h0m2 0h0m2 0h0m3 0h0m2 0h0m2 0h0m0 0h0m2 0h0m4 0h0m1 0h0m1 0h0m1 0h0m0 0h0m1 0h0m2 0h0m0 0h0m3 0h0m1 0h0m1 0h0m1 0h0m4 0h0m3 0h0m0 0h0m5 0h0m0 0h0m5 0h0m2 0h0m8 0h0m3 0h0m2 0h0m-83 1h0m0 0h0m0 0h0m0 0h0m1 0h0m1 0h0m0 0h0m1 0h0m0 0h0m3 0h0m1 0h0m0 0h0m1 0h0m0 0h0m1 0h0m1 0h0m0 0h0m1 0h0m0 0h0m1 0h0m3 0h0m0 0h0m0 0h0m0 0h0m1 0h0m1 0h0m0 0h0m0 0h0m0 0h0m3 0h0m0 0h0m1 0h0m0 0h0m0 0h0m1 0h0m1 0h0m2 0h0m0 0h0m1 0h0m1 0h0m2 0h0m1 0h0m0 0h0m1 0h0m2 0h0m1 0h0m6 0h0m4 0h0m1 0h0m2 0h0m9 0h0m3 0h0m2 0h0m3 0h0m3 0h0m1 0h0m9 0h0m7 0h0m0 0h0m11 0h0m1 0h0m-96 1h0m0 0h0m1 0h0m0 0h0m1 0h0m3 0h0m1 0h0m0 0h0m0 0h0m1 0h0m1 0h0m0 0h0m1 0h0m0 0h0m1 0h0m1 0h0m0 0h0m1 0h0m0 0h0m0 0h0m3 0h0m1 0h0m2 0h0m1 0h0m1 0h0m0 0h0m0 0h0m2 0h0m4 0h0m0 0h0m2 0h0m1 0h0m2 0h0m9 0h0m1 0h0m1 0h0m1 0h0m0 0h0m4 0h0m4 0h0m1 0h0m1 0h0m1 0h0m1 0h0m0 0h0m1 0h0m1 0h0m1 0h0m2 0h0m0 0h0m0 0h0m1 0h0m3 0h0m4 0h0m1 0h0m0 0h0m5 0h0m3 0h0m7 0h0m12 0h0m-96 1h0m0 0h0m0 0h0m1 0h0m2 0h0m0 0h0m0 0h0m3 0h0m1 0h0m1 0h0m1 0h0m1 0h0m0 0h0m1 0h0m1 0h0m1 0h0m1 0h0m1 0h0m0 0h0m1 0h0m1 0h0m1 0h0m4 0h0m1 0h0m1 0h0m1 0h0m0 0h0m2 0h0m0 0h0m0 0h0m2 0h0m2 0h0m0 0h0m3 0h0m2 0h0m0 0h0m1 0h0m2 0h0m1 0h0m1 0h0m3 0h0m0 0h0m0 0h0m1 0h0m2 0h0m3 0h0m0 0h0m1 0h0m1 0h0m2 0h0m1 0h0m1 0h0m3 0h0m0 0h0m1 0h0m3 0h0m1 0h0m3 0h0m18 0h0m0 0h0m3 0h0m4 0h0m-92 1h0m0 0h0m0 0h0m0 0h0m0 0h0m0 0h0m2 0h0m0 0h0m0 0h0m3 0h0m0 0h0m1 0h0m1 0h0m0 0h0m1 0h0m0 0h0m1 0h0m0 0h0m0 0h0m1 0h0m0 0h0m1 0h0m0 0h0m1 0h0m0 0h0m0 0h0m3 0h0m1 0h0m1 0h0m1 0h0m0 0h0m1 0h0m1 0h0m2 0h0m1 0h0m1 0h0m0 0h0m2 0h0m2 0h0m1 0h0m0 0h0m1 0h0m1 0h0m0 0h0m1 0h0m2 0h0m1 0h0m0 0h0m1 0h0m0 0h0m1 0h0m1 0h0m2 0h0m0 0h0m4 0h0m1 0h0m2 0h0m1 0h0m2 0h0m2 0h0m1 0h0m1 0h0m1 0h0m0 0h0m1 0h0m2 0h0m0 0h0m1 0h0m0 0h0m4 0h0m1 0h0m0 0h0m6 0h0m8 0h0m12 0h0m2 0h0m4 0h0m-96 1h0m0 0h0m2 0h0m1 0h0m2 0h0m4 0h0m1 0h0m0 0h0m1 0h0m1 0h0m0 0h0m3 0h0m2 0h0m0 0h0m1 0h0m1 0h0m0 0h0m0 0h0m1 0h0m3 0h0m0 0h0m1 0h0m0 0h0m1 0h0m0 0h0m0 0h0m1 0h0m0 0h0m1 0h0m2 0h0m1 0h0m3 0h0m12 0h0m1 0h0m1 0h0m2 0h0m1 0h0m1 0h0m3 0h0m1 0h0m0 0h0m2 0h0m0 0h0m3 0h0m2 0h0m7 0h0m4 0h0m1 0h0m1 0h0m0 0h0m0 0h0m1 0h0m2 0h0m1 0h0m5 0h0m1 0h0m1 0h0m2 0h0m-88 1h0m0 0h0m0 0h0m0 0h0m1 0h0m0 0h0m1 0h0m0 0h0m1 0h0m1 0h0m1 0h0m0 0h0m1 0h0m1 0h0m1 0h0m0 0h0m1 0h0m2 0h0m0 0h0m1 0h0m4 0h0m0 0h0m0 0h0m1 0h0m1 0h0m1 0h0m0 0h0m0 0h0m2 0h0m0 0h0m1 0h0m2 0h0m6 0h0m0 0h0m0 0h0m0 0h0m2 0h0m0 0h0m1 0h0m3 0h0m0 0h0m2 0h0m1 0h0m1 0h0m1 0h0m5 0h0m0 0h0m0 0h0m1 0h0m0 0h0m3 0h0m1 0h0m0 0h0m7 0h0m1 0h0m0 0h0m1 0h0m1 0h0m2 0h0m0 0h0m2 0h0m5 0h0m1 0h0m0 0h0m0 0h0m0 0h0m4 0h0m0 0h0m1 0h0m2 0h0m1 0h0m10 0h0m1 0h0m0 0h0m8 0h0m-98 1h0m0 0h0m0 0h0m0 0h0m2 0h0m5 0h0m2 0h0m1 0h0m0 0h0m2 0h0m1 0h0m0 0h0m1 0h0m2 0h0m4 0h0m1 0h0m1 0h0m1 0h0m0 0h0m5 0h0m1 0h0m1 0h0m2 0h0m6 0h0m4 0h0m1 0h0m1 0h0m7 0h0m3 0h0m1 0h0m2 0h0m5 0h0m1 0h0m1 0h0m1 0h0m1 0h0m2 0h0m1 0h0m2 0h0m2 0h0m1 0h0m1 0h0m1 0h0m10 0h0m6 0h0m3 0h0m1 0h0m0 0h0m2 0h0m1 0h0m-98 1h0m3 0h0m2 0h0m0 0h0m3 0h0m1 0h0m0 0h0m0 0h0m1 0h0m0 0h0m1 0h0m0 0h0m1 0h0m1 0h0m2 0h0m0 0h0m0 0h0m1 0h0m3 0h0m0 0h0m1 0h0m0 0h0m1 0h0m2 0h0m3 0h0m0 0h0m1 0h0m0 0h0m0 0h0m1 0h0m0 0h0m1 0h0m1 0h0m0 0h0m3 0h0m1 0h0m1 0h0m1 0h0m1 0h0m0 0h0m3 0h0m1 0h0m0 0h0m2 0h0m1 0h0m1 0h0m0 0h0m0 0h0m1 0h0m2 0h0m1 0h0m2 0h0m0 0h0m1 0h0m4 0h0m0 0h0m0 0h0m1 0h0m2 0h0m0 0h0m1 0h0m3 0h0m2 0h0m1 0h0m1 0h0m0 0h0m1 0h0m5 0h0m2 0h0m0 0h0m1 0h0m1 0h0m6 0h0m13 0h0m1 0h0m-98 1h0m0 0h0m0 0h0m0 0h0m0 0h0m1 0h0m0 0h0m1 0h0m0 0h0m2 0h0m1 0h0m0 0h0m3 0h0m1 0h0m0 0h0m1 0h0m1 0h0m1 0h0m0 0h0m1 0h0m1 0h0m0 0h0m1 0h0m1 0h0m1 0h0m1 0h0m1 0h0m1 0h0m1 0h0m1 0h0m0 0h0m1 0h0m0 0h0m1 0h0m1 0h0m0 0h0m3 0h0m2 0h0m0 0h0m0 0h0m4 0h0m0 0h0m1 0h0m1 0h0m1 0h0m1 0h0m1 0h0m2 0h0m1 0h0m0 0h0m0 0h0m2 0h0m1 0h0m1 0h0m1 0h0m1 0h0m0 0h0m1 0h0m3 0h0m2 0h0m2 0h0m1 0h0m0 0h0m1 0h0m2 0h0m1 0h0m0 0h0m4 0h0m2 0h0m5 0h0m1 0h0m6 0h0m2 0h0m3 0h0m13 0h0m8 0h0m3 0h0m-108 1h0m0 0h0m0 0h0m0 0h0m1 0h0m0 0h0m0 0h0m1 0h0m1 0h0m1 0h0m0 0h0m1 0h0m2 0h0m1 0h0m1 0h0m3 0h0m3 0h0m3 0h0m2 0h0m0 0h0m1 0h0m1 0h0m0 0h0m1 0h0m0 0h0m1 0h0m0 0h0m0 0h0m1 0h0m0 0h0m0 0h0m1 0h0m1 0h0m0 0h0m1 0h0m1 0h0m0 0h0m1 0h0m1 0h0m0 0h0m2 0h0m0 0h0m1 0h0m1 0h0m0 0h0m1 0h0m0 0h0m1 0h0m1 0h0m0 0h0m2 0h0m0 0h0m0 0h0m4 0h0m0 0h0m0 0h0m2 0h0m5 0h0m0 0h0m0 0h0m2 0h0m3 0h0m1 0h0m5 0h0m0 0h0m2 0h0m1 0h0m0 0h0m3 0h0m0 0h0m3 0h0m0 0h0m0 0h0m2 0h0m2 0h0m0 0h0m1 0h0m2 0h0m0 0h0m10 0h0m14 0h0m3 0h0m6 0h0m-111 1h0m0 0h0m2 0h0m0 0h0m1 0h0m0 0h0m2 0h0m0 0h0m2 0h0m1 0h0m0 0h0m4 0h0m0 0h0m0 0h0m1 0h0m1 0h0m0 0h0m1 0h0m0 0h0m1 0h0m1 0h0m0 0h0m1 0h0m0 0h0m1 0h0m0 0h0m1 0h0m0 0h0m1 0h0m2 0h0m2 0h0m1 0h0m1 0h0m1 0h0m2 0h0m1 0h0m2 0h0m1 0h0m4 0h0m0 0h0m1 0h0m2 0h0m0 0h0m4 0h0m0 0h0m2 0h0m2 0h0m0 0h0m1 0h0m0 0h0m1 0h0m1 0h0m5 0h0m1 0h0m1 0h0m0 0h0m3 0h0m1 0h0m1 0h0m1 0h0m1 0h0m2 0h0m1 0h0m3 0h0m15 0h0m3 0h0m5 0h0m3 0h0m13 0h0m0 0h0m11 0h0m-122 1h0m0 0h0m0 0h0m0 0h0m0 0h0m0 0h0m1 0h0m1 0h0m2 0h0m0 0h0m0 0h0m2 0h0m1 0h0m0 0h0m1 0h0m0 0h0m2 0h0m2 0h0m2 0h0m1 0h0m0 0h0m1 0h0m1 0h0m2 0h0m1 0h0m1 0h0m0 0h0m4 0h0m0 0h0m1 0h0m3 0h0m1 0h0m1 0h0m3 0h0m0 0h0m2 0h0m0 0h0m1 0h0m1 0h0m0 0h0m0 0h0m1 0h0m2 0h0m2 0h0m1 0h0m1 0h0m1 0h0m1 0h0m1 0h0m0 0h0m4 0h0m2 0h0m2 0h0m0 0h0m1 0h0m0 0h0m5 0h0m7 0h0m3 0h0m2 0h0m0 0h0m7 0h0m2 0h0m10 0h0m3 0h0m0 0h0m1 0h0m2 0h0m0 0h0m1 0h0m-100 1h0m0 0h0m0 0h0m0 0h0m0 0h0m1 0h0m1 0h0m0 0h0m1 0h0m3 0h0m1 0h0m1 0h0m1 0h0m1 0h0m0 0h0m1 0h0m1 0h0m0 0h0m2 0h0m2 0h0m1 0h0m0 0h0m1 0h0m0 0h0m4 0h0m0 0h0m2 0h0m1 0h0m1 0h0m0 0h0m1 0h0m0 0h0m1 0h0m4 0h0m1 0h0m0 0h0m1 0h0m0 0h0m2 0h0m0 0h0m1 0h0m0 0h0m3 0h0m1 0h0m0 0h0m1 0h0m1 0h0m0 0h0m3 0h0m2 0h0m2 0h0m2 0h0m1 0h0m0 0h0m1 0h0m3 0h0m1 0h0m3 0h0m0 0h0m1 0h0m1 0h0m0 0h0m0 0h0m2 0h0m0 0h0m0 0h0m5 0h0m3 0h0m0 0h0m1 0h0m1 0h0m7 0h0m1 0h0m-83 1h0m0 0h0m0 0h0m0 0h0m0 0h0m2 0h0m0 0h0m0 0h0m2 0h0m1 0h0m0 0h0m1 0h0m0 0h0m0 0h0m1 0h0m2 0h0m0 0h0m0 0h0m2 0h0m1 0h0m2 0h0m2 0h0m2 0h0m1 0h0m2 0h0m1 0h0m0 0h0m1 0h0m0 0h0m1 0h0m0 0h0m2 0h0m1 0h0m0 0h0m1 0h0m0 0h0m1 0h0m0 0h0m0 0h0m0 0h0m4 0h0m0 0h0m1 0h0m1 0h0m1 0h0m0 0h0m1 0h0m0 0h0m1 0h0m2 0h0m2 0h0m0 0h0m2 0h0m0 0h0m4 0h0m2 0h0m2 0h0m1 0h0m0 0h0m4 0h0m2 0h0m1 0h0m2 0h0m4 0h0m5 0h0m3 0h0m1 0h0m3 0h0m6 0h0m0 0h0m1 0h0m4 0h0m0 0h0m-89 1h0m0 0h0m0 0h0m0 0h0m1 0h0m0 0h0m1 0h0m1 0h0m0 0h0m0 0h0m0 0h0m1 0h0m1 0h0m0 0h0m0 0h0m0 0h0m1 0h0m1 0h0m1 0h0m0 0h0m2 0h0m3 0h0m2 0h0m2 0h0m0 0h0m1 0h0m2 0h0m0 0h0m0 0h0m1 0h0m1 0h0m0 0h0m1 0h0m1 0h0m5 0h0m0 0h0m2 0h0m6 0h0m0 0h0m1 0h0m2 0h0m2 0h0m0 0h0m0 0h0m0 0h0m0 0h0m1 0h0m1 0h0m1 0h0m2 0h0m1 0h0m1 0h0m0 0h0m2 0h0m0 0h0m1 0h0m0 0h0m2 0h0m1 0h0m1 0h0m1 0h0m1 0h0m1 0h0m2 0h0m1 0h0m1 0h0m0 0h0m0 0h0m1 0h0m1 0h0m2 0h0m2 0h0m0 0h0m1 0h0m1 0h0m4 0h0m2 0h0m0 0h0m2 0h0m3 0h0m15 0h0m3 0h0m4 0h0m-104 1h0m0 0h0m0 0h0m0 0h0m0 0h0m1 0h0m0 0h0m0 0h0m2 0h0m1 0h0m0 0h0m0 0h0m2 0h0m6 0h0m2 0h0m0 0h0m1 0h0m0 0h0m1 0h0m1 0h0m0 0h0m1 0h0m1 0h0m0 0h0m1 0h0m1 0h0m0 0h0m1 0h0m0 0h0m0 0h0m1 0h0m1 0h0m1 0h0m0 0h0m1 0h0m0 0h0m1 0h0m0 0h0m1 0h0m0 0h0m2 0h0m1 0h0m0 0h0m0 0h0m1 0h0m3 0h0m0 0h0m2 0h0m1 0h0m0 0h0m1 0h0m1 0h0m2 0h0m0 0h0m1 0h0m3 0h0m0 0h0m1 0h0m1 0h0m0 0h0m0 0h0m1 0h0m1 0h0m2 0h0m1 0h0m0 0h0m1 0h0m0 0h0m0 0h0m1 0h0m4 0h0m0 0h0m2 0h0m1 0h0m0 0h0m0 0h0m2 0h0m0 0h0m4 0h0m3 0h0m5 0h0m2 0h0m5 0h0m2 0h0m2 0h0m1 0h0m9 0h0m12 0h0m0 0h0m-109 1h0m0 0h0m0 0h0m0 0h0m0 0h0m2 0h0m0 0h0m1 0h0m0 0h0m1 0h0m1 0h0m0 0h0m0 0h0m1 0h0m1 0h0m2 0h0m1 0h0m1 0h0m1 0h0m1 0h0m1 0h0m1 0h0m0 0h0m0 0h0m1 0h0m1 0h0m0 0h0m1 0h0m3 0h0m0 0h0m1 0h0m0 0h0m0 0h0m1 0h0m1 0h0m1 0h0m1 0h0m0 0h0m0 0h0m1 0h0m0 0h0m0 0h0m1 0h0m1 0h0m0 0h0m1 0h0m1 0h0m0 0h0m3 0h0m0 0h0m1 0h0m0 0h0m0 0h0m1 0h0m0 0h0m0 0h0m1 0h0m1 0h0m1 0h0m0 0h0m2 0h0m1 0h0m2 0h0m0 0h0m0 0h0m1 0h0m0 0h0m1 0h0m0 0h0m1 0h0m1 0h0m1 0h0m0 0h0m2 0h0m0 0h0m0 0h0m1 0h0m1 0h0m2 0h0m0 0h0m0 0h0m3 0h0m0 0h0m1 0h0m3 0h0m0 0h0m2 0h0m0 0h0m0 0h0m4 0h0m3 0h0m0 0h0m4 0h0m8 0h0m6 0h0m7 0h0m2 0h0m2 0h0m3 0h0m6 0h0m6 0h0m0 0h0m2 0h0m-117 1h0m1 0h0m1 0h0m0 0h0m0 0h0m2 0h0m0 0h0m0 0h0m1 0h0m1 0h0m0 0h0m2 0h0m2 0h0m1 0h0m0 0h0m3 0h0m0 0h0m2 0h0m0 0h0m2 0h0m0 0h0m1 0h0m0 0h0m1 0h0m1 0h0m0 0h0m1 0h0m1 0h0m1 0h0m1 0h0m0 0h0m1 0h0m2 0h0m1 0h0m2 0h0m2 0h0m0 0h0m1 0h0m1 0h0m0 0h0m1 0h0m1 0h0m0 0h0m2 0h0m0 0h0m2 0h0m1 0h0m1 0h0m1 0h0m2 0h0m0 0h0m2 0h0m1 0h0m2 0h0m1 0h0m3 0h0m3 0h0m1 0h0m5 0h0m1 0h0m2 0h0m5 0h0m1 0h0m1 0h0m0 0h0m1 0h0m3 0h0m0 0h0m0 0h0m1 0h0m5 0h0m3 0h0m1 0h0m3 0h0m3 0h0m3 0h0m3 0h0m4 0h0m9 0h0m8 0h0m-121 1h0m0 0h0m0 0h0m0 0h0m0 0h0m1 0h0m1 0h0m0 0h0m0 0h0m1 0h0m1 0h0m0 0h0m1 0h0m0 0h0m0 0h0m0 0h0m2 0h0m0 0h0m1 0h0m0 0h0m0 0h0m1 0h0m1 0h0m0 0h0m1 0h0m2 0h0m3 0h0m0 0h0m2 0h0m0 0h0m0 0h0m1 0h0m1 0h0m0 0h0m2 0h0m2 0h0m1 0h0m1 0h0m0 0h0m0 0h0m1 0h0m1 0h0m2 0h0m2 0h0m0 0h0m1 0h0m1 0h0m1 0h0m2 0h0m1 0h0m1 0h0m0 0h0m4 0h0m2 0h0m5 0h0m1 0h0m0 0h0m0 0h0m2 0h0m1 0h0m2 0h0m1 0h0m0 0h0m2 0h0m4 0h0m6 0h0m1 0h0m1 0h0m0 0h0m2 0h0m0 0h0m1 0h0m1 0h0m0 0h0m3 0h0m3 0h0m7 0h0m15 0h0m6 0h0m5 0h0m11 0h0m5 0h0m-130 1h0m0 0h0m1 0h0m0 0h0m0 0h0m0 0h0m1 0h0m0 0h0m1 0h0m1 0h0m0 0h0m1 0h0m0 0h0m0 0h0m0 0h0m1 0h0m0 0h0m0 0h0m1 0h0m1 0h0m1 0h0m0 0h0m0 0h0m1 0h0m0 0h0m1 0h0m1 0h0m0 0h0m0 0h0m0 0h0m1 0h0m0 0h0m0 0h0m1 0h0m0 0h0m0 0h0m1 0h0m2 0h0m1 0h0m0 0h0m1 0h0m0 0h0m1 0h0m2 0h0m0 0h0m1 0h0m1 0h0m1 0h0m0 0h0m1 0h0m1 0h0m1 0h0m1 0h0m1 0h0m2 0h0m1 0h0m2 0h0m1 0h0m2 0h0m1 0h0m1 0h0m1 0h0m1 0h0m2 0h0m0 0h0m0 0h0m1 0h0m0 0h0m1 0h0m2 0h0m1 0h0m1 0h0m1 0h0m0 0h0m2 0h0m0 0h0m0 0h0m1 0h0m3 0h0m1 0h0m0 0h0m0 0h0m2 0h0m0 0h0m1 0h0m3 0h0m0 0h0m0 0h0m3 0h0m1 0h0m2 0h0m3 0h0m0 0h0m1 0h0m1 0h0m0 0h0m2 0h0m0 0h0m4 0h0m3 0h0m2 0h0m4 0h0m1 0h0m1 0h0m8 0h0m3 0h0m4 0h0m-107 1h0m0 0h0m0 0h0m0 0h0m0 0h0m0 0h0m0 0h0m1 0h0m0 0h0m0 0h0m0 0h0m0 0h0m1 0h0m0 0h0m1 0h0m0 0h0m0 0h0m2 0h0m2 0h0m0 0h0m1 0h0m0 0h0m1 0h0m0 0h0m1 0h0m0 0h0m1 0h0m1 0h0m1 0h0m0 0h0m0 0h0m1 0h0m2 0h0m5 0h0m2 0h0m1 0h0m1 0h0m2 0h0m1 0h0m1 0h0m0 0h0m0 0h0m1 0h0m0 0h0m1 0h0m1 0h0m1 0h0m1 0h0m1 0h0m1 0h0m2 0h0m0 0h0m2 0h0m2 0h0m1 0h0m0 0h0m0 0h0m1 0h0m1 0h0m3 0h0m1 0h0m0 0h0m0 0h0m0 0h0m6 0h0m0 0h0m1 0h0m1 0h0m3 0h0m1 0h0m1 0h0m0 0h0m1 0h0m0 0h0m2 0h0m1 0h0m1 0h0m2 0h0m0 0h0m0 0h0m0 0h0m1 0h0m0 0h0m1 0h0m0 0h0m1 0h0m2 0h0m2 0h0m0 0h0m10 0h0m0 0h0m2 0h0m2 0h0m7 0h0m2 0h0m10 0h0m1 0h0m13 0h0m-123 1h0m0 0h0m0 0h0m0 0h0m0 0h0m1 0h0m0 0h0m1 0h0m0 0h0m0 0h0m0 0h0m1 0h0m0 0h0m1 0h0m0 0h0m1 0h0m0 0h0m1 0h0m0 0h0m1 0h0m0 0h0m1 0h0m2 0h0m0 0h0m1 0h0m0 0h0m1 0h0m1 0h0m0 0h0m0 0h0m1 0h0m2 0h0m0 0h0m1 0h0m2 0h0m0 0h0m0 0h0m1 0h0m0 0h0m1 0h0m0 0h0m1 0h0m0 0h0m1 0h0m0 0h0m1 0h0m0 0h0m1 0h0m0 0h0m0 0h0m0 0h0m1 0h0m1 0h0m0 0h0m1 0h0m0 0h0m0 0h0m0 0h0m1 0h0m0 0h0m2 0h0m1 0h0m1 0h0m4 0h0m0 0h0m0 0h0m0 0h0m1 0h0m1 0h0m0 0h0m1 0h0m1 0h0m0 0h0m5 0h0m0 0h0m1 0h0m0 0h0m0 0h0m4 0h0m1 0h0m1 0h0m0 0h0m2 0h0m2 0h0m2 0h0m1 0h0m2 0h0m1 0h0m1 0h0m0 0h0m1 0h0m0 0h0m1 0h0m0 0h0m1 0h0m1 0h0m1 0h0m0 0h0m1 0h0m4 0h0m3 0h0m0 0h0m0 0h0m1 0h0m4 0h0m1 0h0m3 0h0m0 0h0m0 0h0m6 0h0m14 0h0m2 0h0m-108 1h0m0 0h0m0 0h0m0 0h0m0 0h0m0 0h0m0 0h0m0 0h0m0 0h0m0 0h0m2 0h0m1 0h0m0 0h0m0 0h0m0 0h0m1 0h0m0 0h0m1 0h0m0 0h0m3 0h0m1 0h0m0 0h0m0 0h0m1 0h0m1 0h0m1 0h0m1 0h0m1 0h0m0 0h0m0 0h0m0 0h0m0 0h0m2 0h0m1 0h0m4 0h0m1 0h0m0 0h0m1 0h0m0 0h0m3 0h0m2 0h0m0 0h0m1 0h0m1 0h0m3 0h0m1 0h0m0 0h0m0 0h0m1 0h0m0 0h0m1 0h0m1 0h0m0 0h0m0 0h0m0 0h0m1 0h0m1 0h0m0 0h0m5 0h0m1 0h0m0 0h0m1 0h0m0 0h0m2 0h0m0 0h0m1 0h0m1 0h0m1 0h0m2 0h0m1 0h0m2 0h0m0 0h0m0 0h0m0 0h0m0 0h0m2 0h0m0 0h0m0 0h0m1 0h0m0 0h0m0 0h0m1 0h0m0 0h0m2 0h0m0 0h0m0 0h0m1 0h0m2 0h0m1 0h0m0 0h0m1 0h0m0 0h0m5 0h0m2 0h0m1 0h0m3 0h0m0 0h0m3 0h0m6 0h0m3 0h0m4 0h0m2 0h0m2 0h0m3 0h0m4 0h0m6 0h0m6 0h0m4 0h0m-121 1h0m0 0h0m0 0h0m0 0h0m0 0h0m0 0h0m0 0h0m0 0h0m0 0h0m0 0h0m0 0h0m1 0h0m1 0h0m1 0h0m0 0h0m1 0h0m1 0h0m0 0h0m0 0h0m0 0h0m1 0h0m0 0h0m2 0h0m0 0h0m1 0h0m1 0h0m0 0h0m0 0h0m1 0h0m0 0h0m0 0h0m2 0h0m0 0h0m1 0h0m0 0h0m0 0h0m1 0h0m0 0h0m1 0h0m2 0h0m0 0h0m0 0h0m0 0h0m1 0h0m0 0h0m0 0h0m0 0h0m1 0h0m1 0h0m0 0h0m0 0h0m5 0h0m0 0h0m2 0h0m1 0h0m0 0h0m0 0h0m2 0h0m1 0h0m0 0h0m0 0h0m1 0h0m1 0h0m0 0h0m1 0h0m0 0h0m1 0h0m0 0h0m0 0h0m1 0h0m2 0h0m2 0h0m1 0h0m3 0h0m2 0h0m1 0h0m0 0h0m0 0h0m1 0h0m1 0h0m3 0h0m0 0h0m1 0h0m1 0h0m1 0h0m0 0h0m1 0h0m1 0h0m0 0h0m2 0h0m0 0h0m1 0h0m0 0h0m1 0h0m2 0h0m0 0h0m5 0h0m0 0h0m0 0h0m1 0h0m1 0h0m5 0h0m5 0h0m7 0h0m3 0h0m1 0h0m4 0h0m2 0h0m3 0h0m2 0h0m7 0h0m4 0h0m13 0h0m-127 1h0m0 0h0m0 0h0m0 0h0m2 0h0m0 0h0m0 0h0m1 0h0m0 0h0m0 0h0m1 0h0m2 0h0m0 0h0m0 0h0m1 0h0m1 0h0m0 0h0m2 0h0m0 0h0m0 0h0m1 0h0m0 0h0m1 0h0m1 0h0m0 0h0m1 0h0m1 0h0m0 0h0m0 0h0m0 0h0m1 0h0m2 0h0m0 0h0m1 0h0m0 0h0m1 0h0m0 0h0m1 0h0m1 0h0m2 0h0m2 0h0m0 0h0m2 0h0m1 0h0m0 0h0m1 0h0m1 0h0m0 0h0m1 0h0m1 0h0m0 0h0m1 0h0m0 0h0m1 0h0m0 0h0m2 0h0m0 0h0m1 0h0m0 0h0m1 0h0m0 0h0m0 0h0m1 0h0m3 0h0m0 0h0m1 0h0m2 0h0m2 0h0m1 0h0m4 0h0m0 0h0m3 0h0m1 0h0m1 0h0m0 0h0m2 0h0m2 0h0m1 0h0m4 0h0m0 0h0m1 0h0m1 0h0m2 0h0m1 0h0m1 0h0m3 0h0m0 0h0m0 0h0m1 0h0m2 0h0m9 0h0m3 0h0m5 0h0m16 0h0m-112 1h0m0 0h0m0 0h0m0 0h0m0 0h0m0 0h0m0 0h0m1 0h0m0 0h0m1 0h0m1 0h0m1 0h0m1 0h0m2 0h0m1 0h0m0 0h0m0 0h0m0 0h0m0 0h0m1 0h0m1 0h0m1 0h0m1 0h0m0 0h0m0 0h0m0 0h0m1 0h0m0 0h0m2 0h0m0 0h0m1 0h0m1 0h0m0 0h0m1 0h0m0 0h0m0 0h0m1 0h0m2 0h0m0 0h0m1 0h0m1 0h0m1 0h0m0 0h0m0 0h0m0 0h0m0 0h0m0 0h0m1 0h0m0 0h0m1 0h0m1 0h0m0 0h0m1 0h0m0 0h0m0 0h0m1 0h0m0 0h0m1 0h0m1 0h0m0 0h0m0 0h0m0 0h0m2 0h0m0 0h0m1 0h0m2 0h0m0 0h0m0 0h0m2 0h0m3 0h0m0 0h0m1 0h0m1 0h0m4 0h0m0 0h0m0 0h0m0 0h0m4 0h0m1 0h0m0 0h0m2 0h0m0 0h0m0 0h0m1 0h0m1 0h0m0 0h0m1 0h0m0 0h0m0 0h0m1 0h0m4 0h0m0 0h0m2 0h0m1 0h0m1 0h0m1 0h0m1 0h0m0 0h0m6 0h0m1 0h0m0 0h0m1 0h0m11 0h0m4 0h0m1 0h0m7 0h0m3 0h0m-102 1h0m0 0h0m0 0h0m0 0h0m1 0h0m0 0h0m1 0h0m1 0h0m1 0h0m0 0h0m0 0h0m1 0h0m0 0h0m0 0h0m1 0h0m0 0h0m1 0h0m0 0h0m0 0h0m0 0h0m1 0h0m0 0h0m1 0h0m0 0h0m1 0h0m1 0h0m1 0h0m0 0h0m1 0h0m1 0h0m0 0h0m0 0h0m0 0h0m1 0h0m1 0h0m2 0h0m1 0h0m1 0h0m0 0h0m0 0h0m0 0h0m1 0h0m0 0h0m0 0h0m1 0h0m0 0h0m0 0h0m1 0h0m0 0h0m1 0h0m1 0h0m0 0h0m0 0h0m1 0h0m2 0h0m0 0h0m1 0h0m0 0h0m1 0h0m0 0h0m1 0h0m1 0h0m1 0h0m1 0h0m0 0h0m0 0h0m1 0h0m1 0h0m0 0h0m0 0h0m2 0h0m0 0h0m5 0h0m2 0h0m0 0h0m0 0h0m1 0h0m0 0h0m1 0h0m0 0h0m1 0h0m2 0h0m0 0h0m3 0h0m2 0h0m0 0h0m1 0h0m2 0h0m0 0h0m0 0h0m0 0h0m0 0h0m1 0h0m1 0h0m0 0h0m0 0h0m4 0h0m1 0h0m2 0h0m0 0h0m1 0h0m0 0h0m0 0h0m4 0h0m3 0h0m0 0h0m2 0h0m2 0h0m1 0h0m3 0h0m1 0h0m3 0h0m3 0h0m0 0h0m2 0h0m2 0h0m5 0h0m24 0h0m-123 1h0m0 0h0m0 0h0m0 0h0m0 0h0m0 0h0m1 0h0m1 0h0m1 0h0m0 0h0m1 0h0m0 0h0m1 0h0m0 0h0m1 0h0m1 0h0m1 0h0m1 0h0m0 0h0m0 0h0m2 0h0m1 0h0m1 0h0m0 0h0m1 0h0m0 0h0m1 0h0m0 0h0m0 0h0m0 0h0m0 0h0m0 0h0m1 0h0m0 0h0m0 0h0m1 0h0m3 0h0m1 0h0m1 0h0m0 0h0m1 0h0m1 0h0m0 0h0m0 0h0m1 0h0m1 0h0m0 0h0m2 0h0m1 0h0m0 0h0m0 0h0m0 0h0m1 0h0m0 0h0m0 0h0m1 0h0m1 0h0m1 0h0m0 0h0m1 0h0m1 0h0m1 0h0m0 0h0m2 0h0m0 0h0m0 0h0m2 0h0m0 0h0m1 0h0m1 0h0m0 0h0m0 0h0m0 0h0m1 0h0m0 0h0m1 0h0m0 0h0m3 0h0m2 0h0m1 0h0m1 0h0m2 0h0m0 0h0m1 0h0m1 0h0m1 0h0m0 0h0m0 0h0m1 0h0m1 0h0m1 0h0m4 0h0m0 0h0m0 0h0m2 0h0m0 0h0m1 0h0m1 0h0m0 0h0m1 0h0m1 0h0m0 0h0m3 0h0m2 0h0m1 0h0m2 0h0m2 0h0m1 0h0m1 0h0m2 0h0m2 0h0m0 0h0m1 0h0m2 0h0m0 0h0m1 0h0m0 0h0m15 0h0m2 0h0m2 0h0m4 0h0m4 0h0m2 0h0m7 0h0m-125 1h0m0 0h0m0 0h0m0 0h0m0 0h0m0 0h0m0 0h0m0 0h0m0 0h0m1 0h0m0 0h0m0 0h0m1 0h0m0 0h0m0 0h0m1 0h0m1 0h0m0 0h0m1 0h0m0 0h0m0 0h0m0 0h0m0 0h0m1 0h0m1 0h0m2 0h0m0 0h0m0 0h0m0 0h0m0 0h0m1 0h0m1 0h0m2 0h0m0 0h0m0 0h0m1 0h0m1 0h0m1 0h0m1 0h0m0 0h0m0 0h0m1 0h0m0 0h0m1 0h0m1 0h0m3 0h0m2 0h0m0 0h0m1 0h0m1 0h0m1 0h0m0 0h0m1 0h0m0 0h0m1 0h0m2 0h0m1 0h0m0 0h0m0 0h0m1 0h0m0 0h0m1 0h0m1 0h0m0 0h0m1 0h0m0 0h0m0 0h0m1 0h0m0 0h0m1 0h0m0 0h0m0 0h0m1 0h0m0 0h0m1 0h0m0 0h0m0 0h0m3 0h0m1 0h0m1 0h0m0 0h0m1 0h0m2 0h0m1 0h0m0 0h0m1 0h0m1 0h0m1 0h0m0 0h0m0 0h0m1 0h0m1 0h0m1 0h0m1 0h0m1 0h0m1 0h0m1 0h0m0 0h0m1 0h0m0 0h0m1 0h0m1 0h0m0 0h0m1 0h0m1 0h0m1 0h0m1 0h0m0 0h0m0 0h0m1 0h0m0 0h0m1 0h0m6 0h0m2 0h0m0 0h0m3 0h0m0 0h0m3 0h0m3 0h0m2 0h0m2 0h0m6 0h0m2 0h0m1 0h0m1 0h0m2 0h0m0 0h0m1 0h0m47 0h0m-150 1h0m0 0h0m0 0h0m0 0h0m0 0h0m0 0h0m1 0h0m1 0h0m0 0h0m1 0h0m0 0h0m0 0h0m1 0h0m0 0h0m1 0h0m1 0h0m0 0h0m0 0h0m2 0h0m0 0h0m1 0h0m0 0h0m0 0h0m0 0h0m1 0h0m0 0h0m2 0h0m1 0h0m1 0h0m1 0h0m0 0h0m1 0h0m0 0h0m0 0h0m1 0h0m0 0h0m0 0h0m0 0h0m1 0h0m0 0h0m0 0h0m1 0h0m0 0h0m1 0h0m1 0h0m0 0h0m1 0h0m1 0h0m0 0h0m1 0h0m0 0h0m1 0h0m2 0h0m0 0h0m0 0h0m1 0h0m0 0h0m3 0h0m0 0h0m1 0h0m0 0h0m1 0h0m0 0h0m1 0h0m0 0h0m0 0h0m0 0h0m0 0h0m1 0h0m0 0h0m1 0h0m2 0h0m0 0h0m1 0h0m1 0h0m1 0h0m0 0h0m2 0h0m0 0h0m2 0h0m0 0h0m0 0h0m1 0h0m1 0h0m1 0h0m0 0h0m1 0h0m1 0h0m1 0h0m0 0h0m2 0h0m1 0h0m0 0h0m2 0h0m0 0h0m1 0h0m1 0h0m1 0h0m0 0h0m1 0h0m1 0h0m2 0h0m1 0h0m0 0h0m1 0h0m1 0h0m1 0h0m1 0h0m0 0h0m2 0h0m2 0h0m0 0h0m1 0h0m1 0h0m2 0h0m0 0h0m2 0h0m1 0h0m1 0h0m2 0h0m5 0h0m2 0h0m4 0h0m3 0h0m2 0h0m1 0h0m3 0h0m9 0h0m14 0h0m-125 1h0m0 0h0m0 0h0m0 0h0m0 0h0m1 0h0m1 0h0m0 0h0m2 0h0m0 0h0m0 0h0m0 0h0m1 0h0m0 0h0m1 0h0m0 0h0m0 0h0m0 0h0m0 0h0m4 0h0m1 0h0m1 0h0m0 0h0m0 0h0m0 0h0m1 0h0m0 0h0m1 0h0m1 0h0m1 0h0m1 0h0m0 0h0m0 0h0m0 0h0m0 0h0m1 0h0m0 0h0m2 0h0m3 0h0m0 0h0m0 0h0m1 0h0m2 0h0m1 0h0m0 0h0m1 0h0m1 0h0m1 0h0m0 0h0m2 0h0m2 0h0m2 0h0m0 0h0m1 0h0m0 0h0m3 0h0m0 0h0m1 0h0m1 0h0m0 0h0m1 0h0m0 0h0m1 0h0m0 0h0m1 0h0m1 0h0m1 0h0m1 0h0m0 0h0m1 0h0m0 0h0m0 0h0m2 0h0m0 0h0m0 0h0m1 0h0m1 0h0m0 0h0m0 0h0m1 0h0m2 0h0m0 0h0m0 0h0m1 0h0m0 0h0m1 0h0m0 0h0m0 0h0m0 0h0m0 0h0m2 0h0m1 0h0m0 0h0m0 0h0m1 0h0m0 0h0m0 0h0m4 0h0m2 0h0m1 0h0m1 0h0m3 0h0m1 0h0m1 0h0m0 0h0m4 0h0m2 0h0m2 0h0m0 0h0m1 0h0m0 0h0m1 0h0m4 0h0m2 0h0m0 0h0m2 0h0m5 0h0m1 0h0m1 0h0m0 0h0m8 0h0m11 0h0m9 0h0m-128 1h0m0 0h0m0 0h0m0 0h0m0 0h0m0 0h0m0 0h0m0 0h0m0 0h0m1 0h0m0 0h0m0 0h0m0 0h0m1 0h0m1 0h0m0 0h0m1 0h0m0 0h0m1 0h0m0 0h0m1 0h0m1 0h0m0 0h0m0 0h0m1 0h0m0 0h0m1 0h0m1 0h0m1 0h0m0 0h0m0 0h0m1 0h0m0 0h0m0 0h0m0 0h0m1 0h0m0 0h0m0 0h0m0 0h0m0 0h0m0 0h0m1 0h0m1 0h0m0 0h0m1 0h0m0 0h0m0 0h0m1 0h0m1 0h0m0 0h0m0 0h0m1 0h0m0 0h0m0 0h0m0 0h0m1 0h0m0 0h0m1 0h0m1 0h0m1 0h0m0 0h0m1 0h0m0 0h0m0 0h0m0 0h0m1 0h0m0 0h0m0 0h0m1 0h0m2 0h0m0 0h0m0 0h0m0 0h0m2 0h0m0 0h0m1 0h0m1 0h0m2 0h0m0 0h0m2 0h0m1 0h0m0 0h0m0 0h0m1 0h0m0 0h0m0 0h0m3 0h0m0 0h0m1 0h0m1 0h0m0 0h0m2 0h0m1 0h0m1 0h0m1 0h0m0 0h0m1 0h0m0 0h0m2 0h0m0 0h0m0 0h0m2 0h0m0 0h0m0 0h0m1 0h0m1 0h0m1 0h0m1 0h0m0 0h0m0 0h0m0 0h0m0 0h0m1 0h0m0 0h0m0 0h0m1 0h0m2 0h0m1 0h0m0 0h0m0 0h0m2 0h0m1 0h0m2 0h0m1 0h0m0 0h0m1 0h0m0 0h0m0 0h0m1 0h0m1 0h0m0 0h0m2 0h0m0 0h0m1 0h0m3 0h0m0 0h0m0 0h0m6 0h0m1 0h0m3 0h0m0 0h0m3 0h0m25 0h0m-115 1h0m0 0h0m0 0h0m0 0h0m0 0h0m0 0h0m0 0h0m0 0h0m0 0h0m0 0h0m0 0h0m0 0h0m0 0h0m0 0h0m0 0h0m0 0h0m0 0h0m1 0h0m0 0h0m1 0h0m0 0h0m1 0h0m1 0h0m0 0h0m1 0h0m1 0h0m0 0h0m1 0h0m1 0h0m1 0h0m1 0h0m0 0h0m1 0h0m1 0h0m0 0h0m0 0h0m0 0h0m0 0h0m0 0h0m1 0h0m2 0h0m0 0h0m1 0h0m0 0h0m0 0h0m1 0h0m0 0h0m0 0h0m2 0h0m1 0h0m0 0h0m0 0h0m0 0h0m1 0h0m0 0h0m1 0h0m0 0h0m1 0h0m2 0h0m0 0h0m2 0h0m0 0h0m0 0h0m1 0h0m2 0h0m0 0h0m1 0h0m0 0h0m0 0h0m0 0h0m0 0h0m1 0h0m2 0h0m1 0h0m0 0h0m2 0h0m0 0h0m0 0h0m1 0h0m0 0h0m1 0h0m1 0h0m1 0h0m1 0h0m0 0h0m1 0h0m0 0h0m1 0h0m0 0h0m1 0h0m0 0h0m1 0h0m0 0h0m3 0h0m3 0h0m1 0h0m0 0h0m3 0h0m0 0h0m1 0h0m1 0h0m1 0h0m2 0h0m0 0h0m0 0h0m2 0h0m0 0h0m1 0h0m1 0h0m0 0h0m4 0h0m2 0h0m1 0h0m1 0h0m0 0h0m1 0h0m0 0h0m3 0h0m1 0h0m1 0h0m1 0h0m2 0h0m2 0h0m1 0h0m0 0h0m9 0h0m0 0h0m7 0h0m-101 1h0m0 0h0m0 0h0m0 0h0m0 0h0m0 0h0m0 0h0m1 0h0m0 0h0m0 0h0m1 0h0m0 0h0m0 0h0m1 0h0m1 0h0m2 0h0m1 0h0m0 0h0m0 0h0m0 0h0m0 0h0m0 0h0m0 0h0m0 0h0m0 0h0m1 0h0m0 0h0m1 0h0m0 0h0m1 0h0m0 0h0m0 0h0m1 0h0m0 0h0m1 0h0m0 0h0m2 0h0m1 0h0m2 0h0m0 0h0m1 0h0m0 0h0m1 0h0m0 0h0m0 0h0m0 0h0m1 0h0m1 0h0m0 0h0m2 0h0m1 0h0m0 0h0m1 0h0m0 0h0m0 0h0m1 0h0m2 0h0m1 0h0m0 0h0m0 0h0m4 0h0m1 0h0m1 0h0m0 0h0m1 0h0m0 0h0m1 0h0m1 0h0m1 0h0m1 0h0m0 0h0m0 0h0m1 0h0m2 0h0m0 0h0m1 0h0m0 0h0m1 0h0m1 0h0m1 0h0m0 0h0m2 0h0m3 0h0m0 0h0m0 0h0m0 0h0m2 0h0m1 0h0m0 0h0m0 0h0m1 0h0m0 0h0m1 0h0m1 0h0m3 0h0m0 0h0m1 0h0m0 0h0m1 0h0m0 0h0m1 0h0m0 0h0m0 0h0m1 0h0m3 0h0m6 0h0m2 0h0m8 0h0m3 0h0m11 0h0m3 0h0m2 0h0m5 0h0m18 0h0m13 0h0m2 0h0m-141 1h0m0 0h0m0 0h0m0 0h0m0 0h0m0 0h0m2 0h0m0 0h0m0 0h0m0 0h0m0 0h0m1 0h0m0 0h0m1 0h0m0 0h0m0 0h0m0 0h0m4 0h0m0 0h0m1 0h0m1 0h0m0 0h0m0 0h0m0 0h0m0 0h0m1 0h0m0 0h0m0 0h0m0 0h0m0 0h0m3 0h0m0 0h0m1 0h0m0 0h0m0 0h0m1 0h0m0 0h0m0 0h0m0 0h0m0 0h0m0 0h0m0 0h0m1 0h0m0 0h0m1 0h0m1 0h0m0 0h0m1 0h0m0 0h0m2 0h0m1 0h0m0 0h0m1 0h0m1 0h0m0 0h0m0 0h0m1 0h0m0 0h0m0 0h0m0 0h0m1 0h0m0 0h0m0 0h0m1 0h0m1 0h0m1 0h0m0 0h0m1 0h0m0 0h0m0 0h0m0 0h0m0 0h0m1 0h0m0 0h0m0 0h0m1 0h0m2 0h0m0 0h0m0 0h0m1 0h0m0 0h0m0 0h0m1 0h0m1 0h0m0 0h0m1 0h0m0 0h0m0 0h0m3 0h0m0 0h0m2 0h0m0 0h0m2 0h0m0 0h0m0 0h0m1 0h0m0 0h0m2 0h0m1 0h0m1 0h0m0 0h0m1 0h0m0 0h0m1 0h0m1 0h0m1 0h0m1 0h0m1 0h0m0 0h0m0 0h0m0 0h0m1 0h0m1 0h0m1 0h0m1 0h0m0 0h0m0 0h0m1 0h0m0 0h0m0 0h0m1 0h0m1 0h0m1 0h0m0 0h0m1 0h0m0 0h0m2 0h0m1 0h0m0 0h0m1 0h0m1 0h0m2 0h0m2 0h0m0 0h0m1 0h0m0 0h0m1 0h0m1 0h0m3 0h0m1 0h0m1 0h0m2 0h0m7 0h0m3 0h0m4 0h0m5 0h0m11 0h0m11 0h0m-126 1h0m0 0h0m0 0h0m0 0h0m1 0h0m1 0h0m1 0h0m2 0h0m0 0h0m1 0h0m0 0h0m1 0h0m1 0h0m0 0h0m0 0h0m0 0h0m1 0h0m0 0h0m0 0h0m1 0h0m0 0h0m0 0h0m1 0h0m2 0h0m1 0h0m0 0h0m0 0h0m1 0h0m0 0h0m0 0h0m0 0h0m0 0h0m1 0h0m0 0h0m1 0h0m1 0h0m1 0h0m0 0h0m1 0h0m0 0h0m2 0h0m1 0h0m1 0h0m0 0h0m1 0h0m0 0h0m1 0h0m1 0h0m0 0h0m1 0h0m1 0h0m0 0h0m0 0h0m1 0h0m0 0h0m0 0h0m2 0h0m0 0h0m0 0h0m1 0h0m1 0h0m0 0h0m3 0h0m1 0h0m0 0h0m1 0h0m1 0h0m1 0h0m1 0h0m0 0h0m4 0h0m4 0h0m2 0h0m2 0h0m2 0h0m0 0h0m0 0h0m0 0h0m0 0h0m0 0h0m1 0h0m2 0h0m1 0h0m0 0h0m0 0h0m1 0h0m1 0h0m0 0h0m1 0h0m2 0h0m0 0h0m1 0h0m0 0h0m0 0h0m1 0h0m1 0h0m1 0h0m0 0h0m2 0h0m2 0h0m3 0h0m1 0h0m0 0h0m3 0h0m2 0h0m0 0h0m3 0h0m0 0h0m1 0h0m3 0h0m3 0h0m1 0h0m1 0h0m4 0h0m1 0h0m2 0h0m12 0h0m0 0h0m4 0h0m-117 1h0m0 0h0m0 0h0m0 0h0m0 0h0m0 0h0m0 0h0m0 0h0m0 0h0m0 0h0m0 0h0m0 0h0m0 0h0m1 0h0m0 0h0m1 0h0m0 0h0m0 0h0m0 0h0m0 0h0m1 0h0m0 0h0m0 0h0m0 0h0m1 0h0m1 0h0m0 0h0m0 0h0m1 0h0m0 0h0m0 0h0m1 0h0m0 0h0m0 0h0m2 0h0m1 0h0m0 0h0m0 0h0m1 0h0m0 0h0m0 0h0m0 0h0m0 0h0m0 0h0m1 0h0m0 0h0m0 0h0m0 0h0m0 0h0m1 0h0m0 0h0m1 0h0m1 0h0m0 0h0m0 0h0m0 0h0m0 0h0m1 0h0m0 0h0m0 0h0m0 0h0m0 0h0m0 0h0m0 0h0m2 0h0m0 0h0m1 0h0m0 0h0m1 0h0m0 0h0m0 0h0m1 0h0m0 0h0m1 0h0m0 0h0m0 0h0m2 0h0m1 0h0m0 0h0m2 0h0m1 0h0m0 0h0m0 0h0m1 0h0m1 0h0m1 0h0m1 0h0m1 0h0m0 0h0m1 0h0m0 0h0m0 0h0m1 0h0m0 0h0m0 0h0m1 0h0m1 0h0m1 0h0m0 0h0m0 0h0m1 0h0m1 0h0m0 0h0m0 0h0m1 0h0m1 0h0m0 0h0m1 0h0m1 0h0m0 0h0m0 0h0m2 0h0m0 0h0m1 0h0m0 0h0m1 0h0m1 0h0m0 0h0m0 0h0m1 0h0m0 0h0m1 0h0m1 0h0m0 0h0m0 0h0m0 0h0m2 0h0m2 0h0m0 0h0m1 0h0m1 0h0m0 0h0m1 0h0m0 0h0m0 0h0m0 0h0m0 0h0m0 0h0m0 0h0m2 0h0m1 0h0m0 0h0m0 0h0m1 0h0m0 0h0m0 0h0m1 0h0m0 0h0m2 0h0m0 0h0m0 0h0m1 0h0m0 0h0m1 0h0m1 0h0m0 0h0m1 0h0m0 0h0m1 0h0m0 0h0m2 0h0m1 0h0m2 0h0m1 0h0m0 0h0m0 0h0m3 0h0m2 0h0m0 0h0m6 0h0m11 0h0m16 0h0m0 0h0m1 0h0m1 0h0m5 0h0m10 0h0m-132 1h0m0 0h0m0 0h0m0 0h0m0 0h0m0 0h0m0 0h0m0 0h0m0 0h0m1 0h0m0 0h0m0 0h0m0 0h0m1 0h0m0 0h0m1 0h0m0 0h0m1 0h0m0 0h0m0 0h0m0 0h0m0 0h0m1 0h0m0 0h0m0 0h0m0 0h0m1 0h0m1 0h0m1 0h0m0 0h0m0 0h0m1 0h0m0 0h0m1 0h0m0 0h0m1 0h0m2 0h0m0 0h0m1 0h0m0 0h0m1 0h0m0 0h0m0 0h0m1 0h0m0 0h0m0 0h0m0 0h0m1 0h0m0 0h0m0 0h0m0 0h0m0 0h0m1 0h0m0 0h0m0 0h0m0 0h0m1 0h0m0 0h0m0 0h0m0 0h0m0 0h0m1 0h0m0 0h0m0 0h0m0 0h0m0 0h0m1 0h0m0 0h0m1 0h0m1 0h0m2 0h0m0 0h0m0 0h0m1 0h0m2 0h0m0 0h0m1 0h0m1 0h0m0 0h0m0 0h0m1 0h0m0 0h0m0 0h0m0 0h0m1 0h0m0 0h0m1 0h0m1 0h0m1 0h0m0 0h0m2 0h0m0 0h0m1 0h0m1 0h0m0 0h0m1 0h0m1 0h0m1 0h0m1 0h0m0 0h0m1 0h0m0 0h0m1 0h0m0 0h0m0 0h0m1 0h0m1 0h0m1 0h0m1 0h0m0 0h0m0 0h0m1 0h0m1 0h0m2 0h0m0 0h0m3 0h0m0 0h0m1 0h0m0 0h0m0 0h0m0 0h0m0 0h0m0 0h0m2 0h0m1 0h0m1 0h0m1 0h0m1 0h0m0 0h0m0 0h0m0 0h0m2 0h0m0 0h0m1 0h0m0 0h0m0 0h0m1 0h0m1 0h0m2 0h0m1 0h0m1 0h0m1 0h0m1 0h0m0 0h0m1 0h0m1 0h0m1 0h0m2 0h0m1 0h0m3 0h0m2 0h0m4 0h0m0 0h0m8 0h0m6 0h0m8 0h0m2 0h0m1 0h0m2 0h0m8 0h0m3 0h0m7 0h0m4 0h0m-138 1h0m0 0h0m0 0h0m0 0h0m0 0h0m0 0h0m0 0h0m0 0h0m0 0h0m0 0h0m2 0h0m1 0h0m0 0h0m0 0h0m0 0h0m2 0h0m0 0h0m2 0h0m0 0h0m0 0h0m0 0h0m0 0h0m1 0h0m0 0h0m0 0h0m0 0h0m0 0h0m1 0h0m0 0h0m0 0h0m0 0h0m0 0h0m1 0h0m0 0h0m1 0h0m0 0h0m0 0h0m1 0h0m0 0h0m0 0h0m1 0h0m0 0h0m0 0h0m1 0h0m0 0h0m1 0h0m0 0h0m0 0h0m0 0h0m0 0h0m1 0h0m0 0h0m1 0h0m0 0h0m1 0h0m0 0h0m1 0h0m0 0h0m1 0h0m0 0h0m0 0h0m1 0h0m0 0h0m2 0h0m0 0h0m0 0h0m0 0h0m1 0h0m0 0h0m0 0h0m1 0h0m0 0h0m0 0h0m2 0h0m1 0h0m0 0h0m1 0h0m1 0h0m1 0h0m0 0h0m0 0h0m1 0h0m1 0h0m1 0h0m1 0h0m1 0h0m0 0h0m0 0h0m0 0h0m1 0h0m3 0h0m0 0h0m3 0h0m1 0h0m0 0h0m1 0h0m1 0h0m0 0h0m0 0h0m1 0h0m0 0h0m1 0h0m1 0h0m1 0h0m1 0h0m0 0h0m0 0h0m1 0h0m1 0h0m1 0h0m2 0h0m0 0h0m0 0h0m0 0h0m2 0h0m0 0h0m0 0h0m1 0h0m1 0h0m0 0h0m1 0h0m0 0h0m1 0h0m0 0h0m1 0h0m1 0h0m0 0h0m0 0h0m3 0h0m1 0h0m0 0h0m3 0h0m1 0h0m0 0h0m0 0h0m1 0h0m0 0h0m1 0h0m2 0h0m2 0h0m2 0h0m2 0h0m2 0h0m0 0h0m0 0h0m0 0h0m1 0h0m2 0h0m2 0h0m1 0h0m0 0h0m1 0h0m4 0h0m2 0h0m1 0h0m7 0h0m1 0h0m2 0h0m4 0h0m0 0h0m12 0h0m-124 1h0m0 0h0m0 0h0m0 0h0m0 0h0m0 0h0m0 0h0m0 0h0m1 0h0m0 0h0m0 0h0m0 0h0m1 0h0m0 0h0m1 0h0m0 0h0m1 0h0m0 0h0m0 0h0m0 0h0m0 0h0m1 0h0m1 0h0m0 0h0m1 0h0m0 0h0m0 0h0m0 0h0m1 0h0m0 0h0m0 0h0m0 0h0m1 0h0m0 0h0m0 0h0m0 0h0m2 0h0m0 0h0m0 0h0m1 0h0m0 0h0m1 0h0m0 0h0m1 0h0m0 0h0m0 0h0m1 0h0m0 0h0m1 0h0m1 0h0m0 0h0m1 0h0m0 0h0m1 0h0m0 0h0m1 0h0m0 0h0m0 0h0m2 0h0m0 0h0m1 0h0m0 0h0m0 0h0m1 0h0m1 0h0m1 0h0m0 0h0m1 0h0m1 0h0m0 0h0m0 0h0m1 0h0m1 0h0m1 0h0m0 0h0m2 0h0m0 0h0m1 0h0m0 0h0m1 0h0m1 0h0m1 0h0m0 0h0m0 0h0m2 0h0m0 0h0m1 0h0m0 0h0m1 0h0m1 0h0m0 0h0m0 0h0m1 0h0m0 0h0m0 0h0m2 0h0m0 0h0m1 0h0m0 0h0m2 0h0m0 0h0m0 0h0m0 0h0m1 0h0m1 0h0m0 0h0m0 0h0m0 0h0m2 0h0m2 0h0m1 0h0m0 0h0m1 0h0m0 0h0m0 0h0m1 0h0m0 0h0m0 0h0m0 0h0m0 0h0m1 0h0m2 0h0m0 0h0m0 0h0m1 0h0m1 0h0m1 0h0m0 0h0m1 0h0m1 0h0m0 0h0m1 0h0m1 0h0m1 0h0m1 0h0m2 0h0m1 0h0m0 0h0m5 0h0m4 0h0m1 0h0m1 0h0m0 0h0m3 0h0m2 0h0m3 0h0m6 0h0m2 0h0m1 0h0m0 0h0m4 0h0m7 0h0m9 0h0m2 0h0m-122 1h0m0 0h0m0 0h0m0 0h0m0 0h0m0 0h0m1 0h0m1 0h0m0 0h0m1 0h0m0 0h0m0 0h0m1 0h0m0 0h0m0 0h0m0 0h0m0 0h0m0 0h0m1 0h0m0 0h0m0 0h0m1 0h0m1 0h0m1 0h0m0 0h0m1 0h0m0 0h0m0 0h0m1 0h0m0 0h0m1 0h0m0 0h0m1 0h0m0 0h0m1 0h0m0 0h0m0 0h0m0 0h0m1 0h0m0 0h0m0 0h0m0 0h0m0 0h0m0 0h0m1 0h0m1 0h0m2 0h0m0 0h0m1 0h0m0 0h0m0 0h0m1 0h0m0 0h0m1 0h0m0 0h0m0 0h0m1 0h0m0 0h0m0 0h0m0 0h0m0 0h0m1 0h0m0 0h0m0 0h0m0 0h0m0 0h0m0 0h0m2 0h0m0 0h0m1 0h0m0 0h0m0 0h0m1 0h0m0 0h0m1 0h0m2 0h0m0 0h0m1 0h0m0 0h0m1 0h0m0 0h0m2 0h0m0 0h0m0 0h0m1 0h0m0 0h0m1 0h0m0 0h0m1 0h0m0 0h0m1 0h0m0 0h0m1 0h0m1 0h0m0 0h0m0 0h0m1 0h0m0 0h0m1 0h0m0 0h0m1 0h0m1 0h0m1 0h0m2 0h0m1 0h0m0 0h0m0 0h0m0 0h0m1 0h0m0 0h0m1 0h0m0 0h0m1 0h0m0 0h0m0 0h0m0 0h0m1 0h0m0 0h0m0 0h0m1 0h0m0 0h0m1 0h0m2 0h0m1 0h0m0 0h0m1 0h0m0 0h0m0 0h0m2 0h0m0 0h0m1 0h0m1 0h0m1 0h0m3 0h0m1 0h0m0 0h0m0 0h0m1 0h0m0 0h0m3 0h0m2 0h0m0 0h0m0 0h0m1 0h0m0 0h0m1 0h0m1 0h0m1 0h0m1 0h0m0 0h0m1 0h0m1 0h0m1 0h0m2 0h0m2 0h0m0 0h0m1 0h0m0 0h0m4 0h0m1 0h0m1 0h0m13 0h0m0 0h0m2 0h0m1 0h0m3 0h0m7 0h0m-118 1h0m0 0h0m0 0h0m0 0h0m0 0h0m0 0h0m0 0h0m0 0h0m0 0h0m0 0h0m0 0h0m1 0h0m1 0h0m0 0h0m0 0h0m1 0h0m0 0h0m0 0h0m1 0h0m0 0h0m0 0h0m0 0h0m1 0h0m0 0h0m0 0h0m0 0h0m0 0h0m1 0h0m0 0h0m0 0h0m1 0h0m0 0h0m0 0h0m0 0h0m0 0h0m1 0h0m1 0h0m0 0h0m0 0h0m0 0h0m1 0h0m0 0h0m2 0h0m0 0h0m1 0h0m0 0h0m0 0h0m0 0h0m0 0h0m1 0h0m1 0h0m0 0h0m0 0h0m0 0h0m1 0h0m0 0h0m0 0h0m1 0h0m1 0h0m1 0h0m1 0h0m1 0h0m0 0h0m0 0h0m1 0h0m0 0h0m1 0h0m2 0h0m0 0h0m1 0h0m1 0h0m0 0h0m1 0h0m1 0h0m0 0h0m0 0h0m0 0h0m1 0h0m0 0h0m0 0h0m1 0h0m0 0h0m1 0h0m0 0h0m1 0h0m0 0h0m0 0h0m1 0h0m1 0h0m0 0h0m0 0h0m0 0h0m0 0h0m2 0h0m1 0h0m1 0h0m0 0h0m0 0h0m1 0h0m0 0h0m0 0h0m1 0h0m0 0h0m0 0h0m1 0h0m0 0h0m0 0h0m2 0h0m0 0h0m4 0h0m0 0h0m2 0h0m1 0h0m0 0h0m1 0h0m0 0h0m1 0h0m0 0h0m0 0h0m0 0h0m1 0h0m0 0h0m1 0h0m0 0h0m0 0h0m0 0h0m0 0h0m1 0h0m1 0h0m1 0h0m0 0h0m0 0h0m0 0h0m2 0h0m3 0h0m0 0h0m1 0h0m1 0h0m0 0h0m1 0h0m0 0h0m1 0h0m1 0h0m1 0h0m0 0h0m1 0h0m0 0h0m1 0h0m0 0h0m0 0h0m1 0h0m0 0h0m2 0h0m2 0h0m1 0h0m6 0h0m1 0h0m3 0h0m1 0h0m1 0h0m1 0h0m2 0h0m1 0h0m3 0h0m4 0h0m15 0h0m-115 1h0m0 0h0m0 0h0m0 0h0m0 0h0m0 0h0m1 0h0m1 0h0m0 0h0m0 0h0m1 0h0m0 0h0m0 0h0m0 0h0m1 0h0m1 0h0m0 0h0m1 0h0m0 0h0m0 0h0m0 0h0m0 0h0m0 0h0m1 0h0m1 0h0m0 0h0m0 0h0m1 0h0m0 0h0m1 0h0m0 0h0m0 0h0m0 0h0m0 0h0m1 0h0m0 0h0m1 0h0m0 0h0m0 0h0m0 0h0m0 0h0m2 0h0m0 0h0m1 0h0m0 0h0m0 0h0m0 0h0m0 0h0m0 0h0m2 0h0m0 0h0m1 0h0m0 0h0m0 0h0m1 0h0m0 0h0m0 0h0m1 0h0m0 0h0m0 0h0m0 0h0m1 0h0m0 0h0m0 0h0m2 0h0m0 0h0m1 0h0m0 0h0m1 0h0m1 0h0m0 0h0m0 0h0m1 0h0m0 0h0m1 0h0m1 0h0m0 0h0m1 0h0m1 0h0m0 0h0m0 0h0m0 0h0m0 0h0m0 0h0m1 0h0m0 0h0m1 0h0m0 0h0m2 0h0m0 0h0m0 0h0m0 0h0m1 0h0m0 0h0m1 0h0m0 0h0m0 0h0m0 0h0m0 0h0m2 0h0m0 0h0m1 0h0m1 0h0m0 0h0m1 0h0m0 0h0m1 0h0m0 0h0m1 0h0m1 0h0m2 0h0m2 0h0m0 0h0m1 0h0m2 0h0m0 0h0m1 0h0m0 0h0m0 0h0m0 0h0m0 0h0m1 0h0m1 0h0m0 0h0m1 0h0m0 0h0m0 0h0m1 0h0m0 0h0m1 0h0m0 0h0m0 0h0m1 0h0m1 0h0m3 0h0m0 0h0m0 0h0m0 0h0m0 0h0m0 0h0m1 0h0m0 0h0m0 0h0m2 0h0m0 0h0m2 0h0m0 0h0m0 0h0m1 0h0m4 0h0m1 0h0m1 0h0m1 0h0m1 0h0m1 0h0m2 0h0m1 0h0m0 0h0m0 0h0m1 0h0m3 0h0m0 0h0m0 0h0m2 0h0m3 0h0m5 0h0m1 0h0m1 0h0m0 0h0m1 0h0m1 0h0m9 0h0m0 0h0m3 0h0m2 0h0m14 0h0m-127 1h0m0 0h0m0 0h0m0 0h0m0 0h0m0 0h0m0 0h0m0 0h0m0 0h0m0 0h0m0 0h0m0 0h0m0 0h0m1 0h0m0 0h0m1 0h0m0 0h0m0 0h0m1 0h0m0 0h0m1 0h0m0 0h0m0 0h0m0 0h0m1 0h0m0 0h0m1 0h0m0 0h0m0 0h0m0 0h0m0 0h0m2 0h0m1 0h0m0 0h0m0 0h0m1 0h0m0 0h0m0 0h0m2 0h0m1 0h0m1 0h0m0 0h0m1 0h0m0 0h0m1 0h0m0 0h0m1 0h0m0 0h0m1 0h0m1 0h0m0 0h0m1 0h0m0 0h0m0 0h0m0 0h0m1 0h0m1 0h0m1 0h0m0 0h0m1 0h0m0 0h0m2 0h0m1 0h0m2 0h0m1 0h0m1 0h0m0 0h0m1 0h0m0 0h0m0 0h0m0 0h0m1 0h0m0 0h0m1 0h0m2 0h0m2 0h0m0 0h0m0 0h0m1 0h0m0 0h0m0 0h0m1 0h0m1 0h0m1 0h0m0 0h0m0 0h0m2 0h0m0 0h0m2 0h0m0 0h0m0 0h0m1 0h0m0 0h0m1 0h0m0 0h0m1 0h0m0 0h0m1 0h0m0 0h0m0 0h0m1 0h0m0 0h0m1 0h0m2 0h0m0 0h0m0 0h0m0 0h0m0 0h0m1 0h0m1 0h0m0 0h0m0 0h0m2 0h0m1 0h0m1 0h0m2 0h0m0 0h0m0 0h0m1 0h0m1 0h0m1 0h0m0 0h0m0 0h0m1 0h0m1 0h0m1 0h0m0 0h0m0 0h0m1 0h0m0 0h0m1 0h0m0 0h0m0 0h0m1 0h0m1 0h0m0 0h0m2 0h0m1 0h0m0 0h0m0 0h0m1 0h0m0 0h0m1 0h0m3 0h0m0 0h0m1 0h0m2 0h0m4 0h0m0 0h0m2 0h0m0 0h0m0 0h0m2 0h0m4 0h0m1 0h0m4 0h0m4 0h0m5 0h0m10 0h0m-119 1h0m0 0h0m0 0h0m0 0h0m0 0h0m0 0h0m0 0h0m0 0h0m1 0h0m0 0h0m2 0h0m0 0h0m0 0h0m0 0h0m0 0h0m1 0h0m0 0h0m0 0h0m2 0h0m0 0h0m1 0h0m0 0h0m1 0h0m0 0h0m1 0h0m0 0h0m0 0h0m0 0h0m1 0h0m0 0h0m0 0h0m1 0h0m0 0h0m1 0h0m0 0h0m0 0h0m0 0h0m2 0h0m0 0h0m0 0h0m1 0h0m0 0h0m1 0h0m0 0h0m1 0h0m0 0h0m1 0h0m0 0h0m0 0h0m0 0h0m1 0h0m0 0h0m0 0h0m1 0h0m1 0h0m0 0h0m0 0h0m1 0h0m1 0h0m0 0h0m1 0h0m1 0h0m1 0h0m0 0h0m0 0h0m1 0h0m1 0h0m0 0h0m1 0h0m0 0h0m1 0h0m1 0h0m0 0h0m1 0h0m0 0h0m0 0h0m1 0h0m1 0h0m0 0h0m0 0h0m0 0h0m0 0h0m1 0h0m2 0h0m0 0h0m0 0h0m1 0h0m0 0h0m0 0h0m1 0h0m0 0h0m0 0h0m1 0h0m0 0h0m1 0h0m0 0h0m2 0h0m1 0h0m0 0h0m3 0h0m0 0h0m1 0h0m1 0h0m0 0h0m0 0h0m0 0h0m1 0h0m0 0h0m1 0h0m1 0h0m0 0h0m1 0h0m0 0h0m1 0h0m0 0h0m1 0h0m0 0h0m0 0h0m0 0h0m1 0h0m0 0h0m1 0h0m1 0h0m1 0h0m1 0h0m0 0h0m1 0h0m0 0h0m1 0h0m1 0h0m2 0h0m2 0h0m2 0h0m0 0h0m0 0h0m1 0h0m0 0h0m0 0h0m1 0h0m0 0h0m0 0h0m0 0h0m1 0h0m0 0h0m1 0h0m1 0h0m0 0h0m5 0h0m1 0h0m0 0h0m1 0h0m0 0h0m2 0h0m0 0h0m0 0h0m1 0h0m1 0h0m1 0h0m6 0h0m0 0h0m0 0h0m1 0h0m4 0h0m8 0h0m1 0h0m2 0h0m0 0h0m9 0h0m12 0h0m-129 1h0m0 0h0m0 0h0m0 0h0m0 0h0m0 0h0m0 0h0m0 0h0m0 0h0m0 0h0m0 0h0m0 0h0m1 0h0m0 0h0m1 0h0m1 0h0m0 0h0m1 0h0m0 0h0m0 0h0m1 0h0m0 0h0m1 0h0m0 0h0m0 0h0m1 0h0m0 0h0m3 0h0m1 0h0m0 0h0m0 0h0m0 0h0m1 0h0m0 0h0m1 0h0m2 0h0m0 0h0m2 0h0m0 0h0m0 0h0m0 0h0m1 0h0m0 0h0m0 0h0m1 0h0m0 0h0m0 0h0m0 0h0m1 0h0m1 0h0m0 0h0m0 0h0m0 0h0m0 0h0m1 0h0m0 0h0m0 0h0m1 0h0m0 0h0m0 0h0m1 0h0m0 0h0m0 0h0m1 0h0m0 0h0m1 0h0m0 0h0m1 0h0m0 0h0m1 0h0m0 0h0m2 0h0m0 0h0m2 0h0m0 0h0m0 0h0m0 0h0m1 0h0m0 0h0m0 0h0m0 0h0m0 0h0m0 0h0m1 0h0m0 0h0m1 0h0m0 0h0m0 0h0m0 0h0m1 0h0m0 0h0m0 0h0m1 0h0m1 0h0m1 0h0m0 0h0m0 0h0m0 0h0m0 0h0m0 0h0m0 0h0m1 0h0m1 0h0m0 0h0m0 0h0m0 0h0m1 0h0m0 0h0m1 0h0m1 0h0m0 0h0m1 0h0m0 0h0m2 0h0m0 0h0m1 0h0m0 0h0m1 0h0m0 0h0m1 0h0m1 0h0m2 0h0m0 0h0m1 0h0m1 0h0m2 0h0m0 0h0m0 0h0m0 0h0m0 0h0m1 0h0m1 0h0m1 0h0m1 0h0m1 0h0m1 0h0m1 0h0m0 0h0m1 0h0m1 0h0m1 0h0m1 0h0m1 0h0m0 0h0m1 0h0m0 0h0m0 0h0m2 0h0m3 0h0m3 0h0m0 0h0m0 0h0m2 0h0m2 0h0m2 0h0m0 0h0m1 0h0m3 0h0m14 0h0m3 0h0m6 0h0m3 0h0m3 0h0m10 0h0m16 0h0m-143 1h0m0 0h0m0 0h0m0 0h0m0 0h0m0 0h0m0 0h0m0 0h0m0 0h0m1 0h0m0 0h0m2 0h0m0 0h0m0 0h0m0 0h0m1 0h0m1 0h0m0 0h0m1 0h0m0 0h0m2 0h0m1 0h0m0 0h0m0 0h0m0 0h0m1 0h0m0 0h0m1 0h0m0 0h0m0 0h0m2 0h0m0 0h0m0 0h0m0 0h0m0 0h0m1 0h0m0 0h0m2 0h0m0 0h0m1 0h0m0 0h0m0 0h0m2 0h0m0 0h0m0 0h0m1 0h0m0 0h0m0 0h0m1 0h0m0 0h0m1 0h0m0 0h0m1 0h0m0 0h0m0 0h0m0 0h0m1 0h0m0 0h0m0 0h0m0 0h0m0 0h0m0 0h0m1 0h0m0 0h0m1 0h0m0 0h0m0 0h0m1 0h0m1 0h0m0 0h0m0 0h0m0 0h0m1 0h0m0 0h0m1 0h0m1 0h0m0 0h0m1 0h0m0 0h0m0 0h0m2 0h0m0 0h0m0 0h0m0 0h0m0 0h0m0 0h0m2 0h0m0 0h0m0 0h0m0 0h0m0 0h0m0 0h0m0 0h0m1 0h0m0 0h0m1 0h0m2 0h0m0 0h0m1 0h0m0 0h0m1 0h0m1 0h0m0 0h0m0 0h0m1 0h0m0 0h0m1 0h0m1 0h0m0 0h0m0 0h0m1 0h0m0 0h0m0 0h0m1 0h0m0 0h0m1 0h0m0 0h0m0 0h0m1 0h0m0 0h0m1 0h0m0 0h0m1 0h0m0 0h0m1 0h0m0 0h0m0 0h0m1 0h0m0 0h0m1 0h0m0 0h0m1 0h0m0 0h0m1 0h0m1 0h0m0 0h0m0 0h0m0 0h0m1 0h0m0 0h0m1 0h0m0 0h0m0 0h0m1 0h0m0 0h0m0 0h0m0 0h0m0 0h0m1 0h0m0 0h0m0 0h0m0 0h0m2 0h0m0 0h0m0 0h0m1 0h0m0 0h0m0 0h0m0 0h0m1 0h0m0 0h0m0 0h0m1 0h0m0 0h0m0 0h0m0 0h0m1 0h0m0 0h0m1 0h0m0 0h0m1 0h0m0 0h0m0 0h0m2 0h0m1 0h0m0 0h0m1 0h0m0 0h0m1 0h0m0 0h0m1 0h0m1 0h0m2 0h0m1 0h0m2 0h0m0 0h0m0 0h0m1 0h0m3 0h0m1 0h0m4 0h0m2 0h0m4 0h0m3 0h0m1 0h0m3 0h0m3 0h0m2 0h0m1 0h0m0 0h0m2 0h0m3 0h0m31 0h0m-146 1h0m0 0h0m0 0h0m0 0h0m0 0h0m0 0h0m0 0h0m0 0h0m0 0h0m0 0h0m0 0h0m0 0h0m0 0h0m0 0h0m1 0h0m0 0h0m0 0h0m1 0h0m1 0h0m0 0h0m0 0h0m0 0h0m0 0h0m0 0h0m1 0h0m0 0h0m1 0h0m0 0h0m1 0h0m0 0h0m0 0h0m0 0h0m0 0h0m0 0h0m1 0h0m0 0h0m0 0h0m1 0h0m1 0h0m0 0h0m1 0h0m0 0h0m1 0h0m0 0h0m0 0h0m1 0h0m0 0h0m0 0h0m1 0h0m1 0h0m0 0h0m0 0h0m1 0h0m0 0h0m1 0h0m1 0h0m0 0h0m1 0h0m0 0h0m1 0h0m0 0h0m0 0h0m1 0h0m0 0h0m0 0h0m1 0h0m0 0h0m1 0h0m0 0h0m0 0h0m1 0h0m1 0h0m0 0h0m1 0h0m0 0h0m0 0h0m0 0h0m1 0h0m1 0h0m0 0h0m1 0h0m0 0h0m0 0h0m1 0h0m0 0h0m1 0h0m0 0h0m0 0h0m1 0h0m0 0h0m0 0h0m1 0h0m1 0h0m2 0h0m0 0h0m1 0h0m1 0h0m0 0h0m1 0h0m0 0h0m1 0h0m1 0h0m0 0h0m0 0h0m1 0h0m0 0h0m2 0h0m0 0h0m1 0h0m0 0h0m1 0h0m1 0h0m1 0h0m0 0h0m0 0h0m0 0h0m2 0h0m1 0h0m2 0h0m0 0h0m1 0h0m1 0h0m1 0h0m0 0h0m0 0h0m1 0h0m0 0h0m1 0h0m0 0h0m1 0h0m0 0h0m1 0h0m0 0h0m0 0h0m0 0h0m1 0h0m0 0h0m1 0h0m0 0h0m1 0h0m0 0h0m1 0h0m0 0h0m1 0h0m0 0h0m0 0h0m1 0h0m0 0h0m1 0h0m0 0h0m3 0h0m0 0h0m0 0h0m0 0h0m1 0h0m2 0h0m0 0h0m1 0h0m0 0h0m3 0h0m1 0h0m2 0h0m1 0h0m0 0h0m5 0h0m9 0h0m3 0h0m4 0h0m2 0h0m1 0h0m0 0h0m1 0h0m6 0h0m4 0h0m2 0h0m2 0h0m0 0h0m13 0h0m5 0h0m22 0h0m-159 1h0m0 0h0m0 0h0m0 0h0m0 0h0m0 0h0m0 0h0m0 0h0m0 0h0m0 0h0m0 0h0m0 0h0m0 0h0m1 0h0m0 0h0m1 0h0m0 0h0m1 0h0m1 0h0m1 0h0m1 0h0m0 0h0m1 0h0m0 0h0m0 0h0m0 0h0m1 0h0m0 0h0m0 0h0m1 0h0m2 0h0m0 0h0m0 0h0m1 0h0m0 0h0m0 0h0m1 0h0m0 0h0m0 0h0m0 0h0m0 0h0m1 0h0m1 0h0m1 0h0m0 0h0m1 0h0m1 0h0m0 0h0m0 0h0m1 0h0m0 0h0m0 0h0m1 0h0m0 0h0m1 0h0m0 0h0m1 0h0m0 0h0m0 0h0m1 0h0m1 0h0m0 0h0m0 0h0m1 0h0m0 0h0m1 0h0m0 0h0m1 0h0m0 0h0m0 0h0m1 0h0m0 0h0m0 0h0m0 0h0m1 0h0m0 0h0m2 0h0m0 0h0m1 0h0m0 0h0m0 0h0m0 0h0m0 0h0m1 0h0m0 0h0m0 0h0m0 0h0m0 0h0m1 0h0m0 0h0m0 0h0m1 0h0m0 0h0m1 0h0m0 0h0m0 0h0m3 0h0m0 0h0m0 0h0m1 0h0m1 0h0m0 0h0m0 0h0m1 0h0m2 0h0m0 0h0m0 0h0m0 0h0m0 0h0m1 0h0m1 0h0m0 0h0m0 0h0m1 0h0m0 0h0m1 0h0m0 0h0m0 0h0m1 0h0m1 0h0m0 0h0m1 0h0m1 0h0m0 0h0m2 0h0m1 0h0m0 0h0m1 0h0m0 0h0m0 0h0m0 0h0m0 0h0m0 0h0m1 0h0m0 0h0m0 0h0m1 0h0m0 0h0m0 0h0m1 0h0m0 0h0m3 0h0m0 0h0m1 0h0m0 0h0m0 0h0m0 0h0m0 0h0m0 0h0m3 0h0m0 0h0m1 0h0m1 0h0m0 0h0m0 0h0m0 0h0m1 0h0m1 0h0m0 0h0m1 0h0m1 0h0m1 0h0m2 0h0m2 0h0m0 0h0m0 0h0m1 0h0m0 0h0m4 0h0m0 0h0m2 0h0m0 0h0m1 0h0m0 0h0m1 0h0m1 0h0m2 0h0m1 0h0m1 0h0m1 0h0m4 0h0m1 0h0m1 0h0m5 0h0m5 0h0m1 0h0m0 0h0m8 0h0m8 0h0m26 0h0m-151 1h0m0 0h0m0 0h0m0 0h0m0 0h0m0 0h0m0 0h0m0 0h0m0 0h0m0 0h0m0 0h0m0 0h0m0 0h0m1 0h0m1 0h0m0 0h0m1 0h0m0 0h0m1 0h0m1 0h0m1 0h0m0 0h0m0 0h0m0 0h0m0 0h0m0 0h0m0 0h0m0 0h0m0 0h0m1 0h0m0 0h0m0 0h0m0 0h0m0 0h0m0 0h0m0 0h0m0 0h0m1 0h0m0 0h0m0 0h0m0 0h0m0 0h0m1 0h0m0 0h0m1 0h0m0 0h0m1 0h0m0 0h0m1 0h0m0 0h0m0 0h0m0 0h0m0 0h0m0 0h0m1 0h0m0 0h0m1 0h0m0 0h0m2 0h0m1 0h0m0 0h0m0 0h0m0 0h0m0 0h0m0 0h0m0 0h0m0 0h0m1 0h0m1 0h0m0 0h0m1 0h0m0 0h0m0 0h0m1 0h0m0 0h0m1 0h0m1 0h0m0 0h0m0 0h0m0 0h0m0 0h0m1 0h0m0 0h0m0 0h0m1 0h0m0 0h0m0 0h0m0 0h0m1 0h0m0 0h0m0 0h0m1 0h0m0 0h0m0 0h0m0 0h0m0 0h0m3 0h0m0 0h0m0 0h0m0 0h0m1 0h0m1 0h0m0 0h0m0 0h0m0 0h0m0 0h0m1 0h0m0 0h0m1 0h0m1 0h0m0 0h0m1 0h0m0 0h0m0 0h0m1 0h0m0 0h0m0 0h0m0 0h0m0 0h0m0 0h0m0 0h0m1 0h0m0 0h0m1 0h0m0 0h0m1 0h0m0 0h0m0 0h0m1 0h0m0 0h0m1 0h0m0 0h0m1 0h0m0 0h0m1 0h0m0 0h0m1 0h0m0 0h0m0 0h0m1 0h0m0 0h0m2 0h0m1 0h0m1 0h0m0 0h0m1 0h0m0 0h0m0 0h0m1 0h0m2 0h0m0 0h0m0 0h0m0 0h0m1 0h0m1 0h0m0 0h0m0 0h0m0 0h0m0 0h0m1 0h0m1 0h0m0 0h0m0 0h0m0 0h0m2 0h0m2 0h0m2 0h0m1 0h0m0 0h0m1 0h0m0 0h0m0 0h0m0 0h0m0 0h0m1 0h0m1 0h0m1 0h0m1 0h0m1 0h0m0 0h0m1 0h0m1 0h0m1 0h0m1 0h0m0 0h0m2 0h0m0 0h0m1 0h0m0 0h0m1 0h0m1 0h0m1 0h0m1 0h0m2 0h0m1 0h0m1 0h0m0 0h0m0 0h0m1 0h0m3 0h0m3 0h0m5 0h0m7 0h0m9 0h0m0 0h0m5 0h0m4 0h0m3 0h0m1 0h0m3 0h0m4 0h0m5 0h0m-139 1h0m0 0h0m1 0h0m1 0h0m1 0h0m0 0h0m1 0h0m0 0h0m0 0h0m0 0h0m0 0h0m1 0h0m0 0h0m0 0h0m0 0h0m0 0h0m1 0h0m0 0h0m0 0h0m1 0h0m0 0h0m1 0h0m0 0h0m1 0h0m0 0h0m1 0h0m0 0h0m0 0h0m0 0h0m0 0h0m1 0h0m0 0h0m0 0h0m1 0h0m0 0h0m1 0h0m0 0h0m0 0h0m0 0h0m2 0h0m1 0h0m0 0h0m1 0h0m0 0h0m0 0h0m0 0h0m1 0h0m0 0h0m0 0h0m1 0h0m1 0h0m0 0h0m0 0h0m1 0h0m0 0h0m2 0h0m0 0h0m0 0h0m1 0h0m1 0h0m1 0h0m0 0h0m0 0h0m0 0h0m0 0h0m0 0h0m1 0h0m0 0h0m1 0h0m1 0h0m0 0h0m0 0h0m1 0h0m0 0h0m0 0h0m0 0h0m1 0h0m1 0h0m0 0h0m0 0h0m1 0h0m0 0h0m1 0h0m0 0h0m0 0h0m1 0h0m1 0h0m1 0h0m0 0h0m0 0h0m1 0h0m0 0h0m1 0h0m0 0h0m1 0h0m0 0h0m0 0h0m0 0h0m1 0h0m2 0h0m1 0h0m0 0h0m1 0h0m1 0h0m0 0h0m1 0h0m0 0h0m1 0h0m2 0h0m0 0h0m1 0h0m2 0h0m1 0h0m0 0h0m0 0h0m0 0h0m1 0h0m0 0h0m0 0h0m2 0h0m1 0h0m0 0h0m1 0h0m0 0h0m0 0h0m1 0h0m0 0h0m1 0h0m0 0h0m0 0h0m0 0h0m1 0h0m2 0h0m0 0h0m0 0h0m0 0h0m1 0h0m1 0h0m0 0h0m0 0h0m1 0h0m0 0h0m0 0h0m1 0h0m0 0h0m0 0h0m2 0h0m1 0h0m0 0h0m1 0h0m0 0h0m0 0h0m1 0h0m1 0h0m1 0h0m0 0h0m0 0h0m1 0h0m2 0h0m1 0h0m2 0h0m1 0h0m1 0h0m1 0h0m0 0h0m4 0h0m3 0h0m1 0h0m3 0h0m3 0h0m4 0h0m2 0h0m7 0h0m10 0h0m2 0h0m2 0h0m3 0h0m3 0h0m11 0h0m-142 1h0m0 0h0m0 0h0m0 0h0m0 0h0m0 0h0m0 0h0m0 0h0m0 0h0m0 0h0m0 0h0m1 0h0m0 0h0m1 0h0m0 0h0m0 0h0m1 0h0m0 0h0m0 0h0m1 0h0m0 0h0m1 0h0m0 0h0m1 0h0m0 0h0m1 0h0m0 0h0m0 0h0m1 0h0m0 0h0m1 0h0m0 0h0m1 0h0m0 0h0m0 0h0m1 0h0m0 0h0m0 0h0m0 0h0m0 0h0m1 0h0m0 0h0m0 0h0m2 0h0m0 0h0m1 0h0m0 0h0m1 0h0m0 0h0m0 0h0m1 0h0m0 0h0m1 0h0m0 0h0m0 0h0m0 0h0m1 0h0m0 0h0m1 0h0m1 0h0m0 0h0m0 0h0m1 0h0m1 0h0m0 0h0m0 0h0m1 0h0m0 0h0m0 0h0m1 0h0m0 0h0m0 0h0m1 0h0m0 0h0m0 0h0m0 0h0m1 0h0m0 0h0m0 0h0m1 0h0m0 0h0m0 0h0m0 0h0m1 0h0m0 0h0m0 0h0m0 0h0m0 0h0m1 0h0m0 0h0m0 0h0m1 0h0m0 0h0m0 0h0m1 0h0m0 0h0m1 0h0m0 0h0m1 0h0m0 0h0m0 0h0m1 0h0m1 0h0m0 0h0m0 0h0m1 0h0m0 0h0m0 0h0m1 0h0m1 0h0m0 0h0m1 0h0m0 0h0m1 0h0m1 0h0m0 0h0m2 0h0m0 0h0m0 0h0m1 0h0m1 0h0m0 0h0m1 0h0m1 0h0m0 0h0m0 0h0m1 0h0m0 0h0m0 0h0m1 0h0m0 0h0m1 0h0m1 0h0m1 0h0m0 0h0m0 0h0m1 0h0m2 0h0m0 0h0m0 0h0m0 0h0m0 0h0m0 0h0m1 0h0m0 0h0m2 0h0m0 0h0m0 0h0m0 0h0m1 0h0m0 0h0m0 0h0m1 0h0m1 0h0m0 0h0m0 0h0m1 0h0m1 0h0m0 0h0m1 0h0m0 0h0m1 0h0m0 0h0m0 0h0m1 0h0m0 0h0m0 0h0m0 0h0m0 0h0m0 0h0m1 0h0m1 0h0m1 0h0m1 0h0m3 0h0m0 0h0m1 0h0m1 0h0m1 0h0m2 0h0m0 0h0m0 0h0m0 0h0m2 0h0m0 0h0m1 0h0m1 0h0m3 0h0m1 0h0m1 0h0m0 0h0m0 0h0m3 0h0m3 0h0m1 0h0m4 0h0m2 0h0m7 0h0m3 0h0m14 0h0m4 0h0m2 0h0m12 0h0m2 0h0m35 0h0m-180 1h0m0 0h0m0 0h0m0 0h0m0 0h0m0 0h0m0 0h0m1 0h0m0 0h0m0 0h0m1 0h0m0 0h0m0 0h0m0 0h0m0 0h0m1 0h0m1 0h0m0 0h0m0 0h0m0 0h0m1 0h0m0 0h0m0 0h0m0 0h0m2 0h0m0 0h0m1 0h0m0 0h0m0 0h0m1 0h0m0 0h0m1 0h0m1 0h0m0 0h0m1 0h0m1 0h0m1 0h0m0 0h0m0 0h0m0 0h0m2 0h0m0 0h0m1 0h0m0 0h0m0 0h0m1 0h0m0 0h0m1 0h0m0 0h0m1 0h0m1 0h0m0 0h0m0 0h0m0 0h0m0 0h0m1 0h0m1 0h0m0 0h0m0 0h0m0 0h0m0 0h0m0 0h0m1 0h0m0 0h0m0 0h0m0 0h0m1 0h0m0 0h0m1 0h0m1 0h0m0 0h0m2 0h0m1 0h0m0 0h0m0 0h0m1 0h0m0 0h0m1 0h0m0 0h0m1 0h0m1 0h0m0 0h0m1 0h0m0 0h0m1 0h0m0 0h0m1 0h0m0 0h0m0 0h0m1 0h0m0 0h0m0 0h0m0 0h0m1 0h0m0 0h0m0 0h0m0 0h0m1 0h0m0 0h0m0 0h0m1 0h0m2 0h0m0 0h0m0 0h0m2 0h0m1 0h0m0 0h0m0 0h0m1 0h0m0 0h0m1 0h0m0 0h0m0 0h0m1 0h0m0 0h0m0 0h0m0 0h0m1 0h0m0 0h0m0 0h0m1 0h0m0 0h0m0 0h0m1 0h0m1 0h0m0 0h0m1 0h0m0 0h0m0 0h0m1 0h0m0 0h0m1 0h0m0 0h0m0 0h0m0 0h0m1 0h0m0 0h0m0 0h0m1 0h0m0 0h0m1 0h0m0 0h0m2 0h0m1 0h0m0 0h0m0 0h0m0 0h0m2 0h0m0 0h0m0 0h0m0 0h0m0 0h0m1 0h0m0 0h0m1 0h0m0 0h0m1 0h0m0 0h0m0 0h0m2 0h0m1 0h0m0 0h0m1 0h0m0 0h0m4 0h0m0 0h0m3 0h0m0 0h0m0 0h0m1 0h0m0 0h0m1 0h0m0 0h0m0 0h0m1 0h0m0 0h0m1 0h0m0 0h0m0 0h0m1 0h0m0 0h0m1 0h0m3 0h0m9 0h0m0 0h0m6 0h0m0 0h0m1 0h0m5 0h0m1 0h0m6 0h0m5 0h0m2 0h0m7 0h0m12 0h0m-141 1h0m0 0h0m0 0h0m0 0h0m0 0h0m0 0h0m0 0h0m0 0h0m0 0h0m0 0h0m0 0h0m0 0h0m0 0h0m1 0h0m0 0h0m0 0h0m1 0h0m0 0h0m0 0h0m0 0h0m0 0h0m1 0h0m0 0h0m0 0h0m0 0h0m0 0h0m0 0h0m1 0h0m1 0h0m1 0h0m0 0h0m0 0h0m1 0h0m1 0h0m0 0h0m0 0h0m1 0h0m0 0h0m1 0h0m0 0h0m1 0h0m0 0h0m0 0h0m0 0h0m0 0h0m0 0h0m1 0h0m1 0h0m0 0h0m1 0h0m0 0h0m0 0h0m0 0h0m2 0h0m0 0h0m3 0h0m0 0h0m0 0h0m1 0h0m0 0h0m0 0h0m2 0h0m1 0h0m1 0h0m0 0h0m0 0h0m0 0h0m1 0h0m0 0h0m1 0h0m0 0h0m1 0h0m0 0h0m0 0h0m1 0h0m0 0h0m0 0h0m1 0h0m1 0h0m0 0h0m0 0h0m0 0h0m1 0h0m1 0h0m1 0h0m1 0h0m0 0h0m1 0h0m0 0h0m0 0h0m0 0h0m1 0h0m0 0h0m0 0h0m1 0h0m1 0h0m0 0h0m1 0h0m0 0h0m0 0h0m0 0h0m1 0h0m0 0h0m1 0h0m0 0h0m1 0h0m0 0h0m1 0h0m0 0h0m0 0h0m1 0h0m0 0h0m2 0h0m0 0h0m3 0h0m0 0h0m0 0h0m2 0h0m0 0h0m0 0h0m0 0h0m0 0h0m1 0h0m1 0h0m0 0h0m0 0h0m0 0h0m1 0h0m1 0h0m0 0h0m0 0h0m0 0h0m0 0h0m1 0h0m0 0h0m0 0h0m1 0h0m0 0h0m1 0h0m0 0h0m0 0h0m1 0h0m0 0h0m0 0h0m2 0h0m0 0h0m0 0h0m1 0h0m0 0h0m1 0h0m1 0h0m0 0h0m1 0h0m1 0h0m0 0h0m1 0h0m1 0h0m1 0h0m0 0h0m2 0h0m1 0h0m0 0h0m1 0h0m1 0h0m0 0h0m0 0h0m1 0h0m0 0h0m1 0h0m0 0h0m0 0h0m1 0h0m1 0h0m1 0h0m1 0h0m1 0h0m1 0h0m0 0h0m3 0h0m1 0h0m1 0h0m0 0h0m1 0h0m2 0h0m2 0h0m2 0h0m2 0h0m1 0h0m3 0h0m1 0h0m3 0h0m3 0h0m0 0h0m9 0h0m14 0h0m11 0h0m-141 1h0m0 0h0m0 0h0m0 0h0m0 0h0m0 0h0m0 0h0m1 0h0m0 0h0m1 0h0m0 0h0m0 0h0m0 0h0m1 0h0m0 0h0m0 0h0m1 0h0m0 0h0m1 0h0m0 0h0m0 0h0m0 0h0m1 0h0m0 0h0m0 0h0m0 0h0m0 0h0m1 0h0m0 0h0m0 0h0m1 0h0m0 0h0m0 0h0m1 0h0m0 0h0m1 0h0m0 0h0m0 0h0m0 0h0m0 0h0m2 0h0m1 0h0m0 0h0m0 0h0m0 0h0m0 0h0m1 0h0m0 0h0m1 0h0m1 0h0m2 0h0m0 0h0m1 0h0m1 0h0m0 0h0m1 0h0m1 0h0m0 0h0m0 0h0m0 0h0m0 0h0m0 0h0m0 0h0m1 0h0m0 0h0m1 0h0m0 0h0m0 0h0m0 0h0m0 0h0m0 0h0m0 0h0m0 0h0m1 0h0m0 0h0m1 0h0m0 0h0m0 0h0m1 0h0m0 0h0m1 0h0m1 0h0m1 0h0m0 0h0m0 0h0m1 0h0m1 0h0m0 0h0m0 0h0m0 0h0m1 0h0m0 0h0m0 0h0m1 0h0m0 0h0m0 0h0m1 0h0m0 0h0m0 0h0m1 0h0m0 0h0m1 0h0m0 0h0m0 0h0m0 0h0m1 0h0m0 0h0m1 0h0m0 0h0m0 0h0m1 0h0m0 0h0m1 0h0m1 0h0m0 0h0m0 0h0m3 0h0m0 0h0m1 0h0m0 0h0m0 0h0m0 0h0m1 0h0m1 0h0m3 0h0m1 0h0m0 0h0m0 0h0m0 0h0m0 0h0m1 0h0m0 0h0m2 0h0m0 0h0m1 0h0m0 0h0m0 0h0m1 0h0m0 0h0m1 0h0m0 0h0m0 0h0m0 0h0m0 0h0m0 0h0m0 0h0m1 0h0m0 0h0m1 0h0m0 0h0m0 0h0m0 0h0m1 0h0m0 0h0m0 0h0m0 0h0m0 0h0m0 0h0m1 0h0m0 0h0m1 0h0m0 0h0m1 0h0m1 0h0m1 0h0m0 0h0m1 0h0m1 0h0m0 0h0m0 0h0m2 0h0m0 0h0m1 0h0m2 0h0m0 0h0m1 0h0m1 0h0m4 0h0m0 0h0m2 0h0m1 0h0m1 0h0m0 0h0m2 0h0m0 0h0m1 0h0m0 0h0m0 0h0m4 0h0m1 0h0m0 0h0m1 0h0m0 0h0m7 0h0m1 0h0m1 0h0m3 0h0m1 0h0m2 0h0m0 0h0m2 0h0m11 0h0m3 0h0m4 0h0m3 0h0m2 0h0m15 0h0m-147 1h0m0 0h0m0 0h0m0 0h0m0 0h0m1 0h0m0 0h0m1 0h0m2 0h0m0 0h0m0 0h0m1 0h0m0 0h0m0 0h0m0 0h0m1 0h0m1 0h0m0 0h0m0 0h0m1 0h0m0 0h0m0 0h0m0 0h0m2 0h0m0 0h0m0 0h0m1 0h0m0 0h0m1 0h0m1 0h0m0 0h0m0 0h0m0 0h0m0 0h0m2 0h0m1 0h0m0 0h0m0 0h0m1 0h0m0 0h0m1 0h0m0 0h0m0 0h0m1 0h0m0 0h0m0 0h0m0 0h0m0 0h0m0 0h0m1 0h0m1 0h0m0 0h0m0 0h0m0 0h0m1 0h0m0 0h0m0 0h0m1 0h0m0 0h0m1 0h0m0 0h0m0 0h0m1 0h0m2 0h0m0 0h0m0 0h0m1 0h0m0 0h0m1 0h0m0 0h0m0 0h0m0 0h0m0 0h0m1 0h0m0 0h0m1 0h0m1 0h0m0 0h0m2 0h0m1 0h0m0 0h0m0 0h0m1 0h0m3 0h0m0 0h0m0 0h0m1 0h0m0 0h0m0 0h0m0 0h0m0 0h0m1 0h0m0 0h0m1 0h0m1 0h0m0 0h0m0 0h0m1 0h0m0 0h0m0 0h0m1 0h0m0 0h0m1 0h0m2 0h0m1 0h0m2 0h0m0 0h0m0 0h0m1 0h0m0 0h0m0 0h0m1 0h0m0 0h0m1 0h0m0 0h0m0 0h0m1 0h0m0 0h0m1 0h0m0 0h0m0 0h0m0 0h0m1 0h0m0 0h0m0 0h0m0 0h0m1 0h0m0 0h0m0 0h0m0 0h0m1 0h0m1 0h0m1 0h0m0 0h0m0 0h0m1 0h0m1 0h0m1 0h0m0 0h0m0 0h0m2 0h0m0 0h0m0 0h0m0 0h0m1 0h0m0 0h0m1 0h0m0 0h0m0 0h0m2 0h0m1 0h0m0 0h0m0 0h0m1 0h0m1 0h0m0 0h0m2 0h0m0 0h0m0 0h0m2 0h0m2 0h0m0 0h0m2 0h0m1 0h0m1 0h0m1 0h0m0 0h0m1 0h0m0 0h0m2 0h0m0 0h0m2 0h0m1 0h0m1 0h0m1 0h0m1 0h0m0 0h0m2 0h0m1 0h0m2 0h0m1 0h0m3 0h0m1 0h0m7 0h0m3 0h0m11 0h0m9 0h0m25 0h0m-158 1h0m0 0h0m0 0h0m0 0h0m0 0h0m0 0h0m0 0h0m0 0h0m0 0h0m0 0h0m0 0h0m0 0h0m0 0h0m0 0h0m0 0h0m0 0h0m0 0h0m1 0h0m0 0h0m1 0h0m0 0h0m0 0h0m0 0h0m1 0h0m1 0h0m0 0h0m0 0h0m1 0h0m0 0h0m0 0h0m1 0h0m1 0h0m0 0h0m0 0h0m1 0h0m0 0h0m0 0h0m1 0h0m0 0h0m1 0h0m0 0h0m0 0h0m0 0h0m0 0h0m1 0h0m0 0h0m0 0h0m0 0h0m0 0h0m1 0h0m0 0h0m1 0h0m0 0h0m1 0h0m1 0h0m0 0h0m1 0h0m2 0h0m0 0h0m0 0h0m0 0h0m0 0h0m1 0h0m1 0h0m1 0h0m1 0h0m1 0h0m0 0h0m0 0h0m0 0h0m1 0h0m1 0h0m0 0h0m0 0h0m2 0h0m1 0h0m0 0h0m0 0h0m1 0h0m0 0h0m1 0h0m0 0h0m1 0h0m0 0h0m0 0h0m0 0h0m0 0h0m1 0h0m0 0h0m1 0h0m0 0h0m1 0h0m0 0h0m0 0h0m0 0h0m1 0h0m0 0h0m1 0h0m0 0h0m0 0h0m0 0h0m0 0h0m1 0h0m0 0h0m0 0h0m0 0h0m0 0h0m1 0h0m0 0h0m2 0h0m0 0h0m1 0h0m1 0h0m0 0h0m0 0h0m0 0h0m0 0h0m0 0h0m1 0h0m0 0h0m0 0h0m0 0h0m0 0h0m0 0h0m1 0h0m1 0h0m1 0h0m0 0h0m0 0h0m0 0h0m1 0h0m2 0h0m0 0h0m1 0h0m0 0h0m0 0h0m0 0h0m1 0h0m0 0h0m0 0h0m1 0h0m0 0h0m0 0h0m1 0h0m0 0h0m0 0h0m0 0h0m0 0h0m1 0h0m0 0h0m1 0h0m0 0h0m0 0h0m1 0h0m0 0h0m0 0h0m0 0h0m1 0h0m1 0h0m0 0h0m1 0h0m0 0h0m1 0h0m1 0h0m2 0h0m0 0h0m0 0h0m1 0h0m0 0h0m0 0h0m2 0h0m1 0h0m0 0h0m1 0h0m2 0h0m1 0h0m0 0h0m1 0h0m0 0h0m0 0h0m1 0h0m0 0h0m0 0h0m1 0h0m1 0h0m0 0h0m2 0h0m2 0h0m3 0h0m0 0h0m1 0h0m2 0h0m4 0h0m4 0h0m2 0h0m3 0h0m2 0h0m3 0h0m4 0h0m4 0h0m6 0h0m5 0h0m32 0h0m-154 1h0m0 0h0m0 0h0m0 0h0m0 0h0m0 0h0m0 0h0m0 0h0m0 0h0m0 0h0m1 0h0m1 0h0m0 0h0m1 0h0m0 0h0m0 0h0m1 0h0m1 0h0m1 0h0m0 0h0m0 0h0m1 0h0m0 0h0m1 0h0m0 0h0m1 0h0m1 0h0m1 0h0m0 0h0m1 0h0m0 0h0m0 0h0m0 0h0m0 0h0m0 0h0m1 0h0m0 0h0m0 0h0m0 0h0m1 0h0m0 0h0m0 0h0m0 0h0m1 0h0m1 0h0m0 0h0m0 0h0m1 0h0m0 0h0m0 0h0m1 0h0m0 0h0m0 0h0m1 0h0m0 0h0m0 0h0m1 0h0m0 0h0m0 0h0m0 0h0m0 0h0m0 0h0m1 0h0m0 0h0m0 0h0m1 0h0m0 0h0m0 0h0m1 0h0m1 0h0m1 0h0m0 0h0m0 0h0m0 0h0m0 0h0m1 0h0m0 0h0m0 0h0m0 0h0m1 0h0m0 0h0m0 0h0m1 0h0m1 0h0m0 0h0m0 0h0m0 0h0m1 0h0m1 0h0m1 0h0m0 0h0m0 0h0m2 0h0m0 0h0m0 0h0m0 0h0m2 0h0m0 0h0m1 0h0m0 0h0m0 0h0m0 0h0m1 0h0m0 0h0m1 0h0m0 0h0m1 0h0m0 0h0m0 0h0m0 0h0m1 0h0m0 0h0m1 0h0m1 0h0m0 0h0m1 0h0m0 0h0m3 0h0m0 0h0m1 0h0m0 0h0m1 0h0m0 0h0m0 0h0m0 0h0m1 0h0m1 0h0m1 0h0m3 0h0m0 0h0m0 0h0m2 0h0m0 0h0m0 0h0m1 0h0m0 0h0m1 0h0m0 0h0m0 0h0m1 0h0m0 0h0m1 0h0m0 0h0m1 0h0m1 0h0m0 0h0m1 0h0m1 0h0m0 0h0m0 0h0m0 0h0m1 0h0m0 0h0m1 0h0m0 0h0m0 0h0m1 0h0m0 0h0m0 0h0m1 0h0m1 0h0m0 0h0m0 0h0m2 0h0m1 0h0m0 0h0m0 0h0m0 0h0m1 0h0m1 0h0m3 0h0m1 0h0m2 0h0m1 0h0m0 0h0m0 0h0m1 0h0m3 0h0m1 0h0m0 0h0m1 0h0m1 0h0m1 0h0m1 0h0m1 0h0m1 0h0m2 0h0m2 0h0m1 0h0m1 0h0m2 0h0m1 0h0m7 0h0m0 0h0m6 0h0m0 0h0m6 0h0m3 0h0m3 0h0m11 0h0m-138 1h0m0 0h0m0 0h0m0 0h0m0 0h0m0 0h0m0 0h0m0 0h0m0 0h0m0 0h0m1 0h0m0 0h0m0 0h0m0 0h0m0 0h0m1 0h0m0 0h0m0 0h0m1 0h0m0 0h0m0 0h0m1 0h0m0 0h0m0 0h0m1 0h0m0 0h0m1 0h0m0 0h0m0 0h0m1 0h0m0 0h0m1 0h0m0 0h0m0 0h0m1 0h0m0 0h0m0 0h0m0 0h0m1 0h0m0 0h0m0 0h0m1 0h0m0 0h0m0 0h0m0 0h0m1 0h0m0 0h0m0 0h0m0 0h0m0 0h0m1 0h0m0 0h0m1 0h0m1 0h0m0 0h0m1 0h0m0 0h0m1 0h0m1 0h0m1 0h0m0 0h0m0 0h0m1 0h0m0 0h0m0 0h0m0 0h0m1 0h0m0 0h0m0 0h0m0 0h0m0 0h0m1 0h0m1 0h0m0 0h0m0 0h0m1 0h0m1 0h0m1 0h0m1 0h0m0 0h0m0 0h0m1 0h0m1 0h0m0 0h0m1 0h0m0 0h0m0 0h0m0 0h0m0 0h0m1 0h0m1 0h0m0 0h0m0 0h0m0 0h0m1 0h0m0 0h0m1 0h0m0 0h0m0 0h0m1 0h0m0 0h0m0 0h0m1 0h0m0 0h0m0 0h0m0 0h0m0 0h0m0 0h0m1 0h0m0 0h0m0 0h0m2 0h0m0 0h0m1 0h0m1 0h0m0 0h0m1 0h0m0 0h0m1 0h0m0 0h0m0 0h0m0 0h0m1 0h0m0 0h0m0 0h0m1 0h0m1 0h0m0 0h0m0 0h0m0 0h0m0 0h0m1 0h0m0 0h0m0 0h0m0 0h0m1 0h0m0 0h0m1 0h0m1 0h0m1 0h0m1 0h0m1 0h0m0 0h0m1 0h0m0 0h0m2 0h0m0 0h0m0 0h0m0 0h0m0 0h0m1 0h0m0 0h0m0 0h0m0 0h0m0 0h0m0 0h0m1 0h0m1 0h0m0 0h0m1 0h0m1 0h0m0 0h0m1 0h0m0 0h0m0 0h0m0 0h0m1 0h0m1 0h0m1 0h0m0 0h0m1 0h0m1 0h0m0 0h0m1 0h0m0 0h0m4 0h0m0 0h0m0 0h0m0 0h0m0 0h0m1 0h0m3 0h0m0 0h0m0 0h0m0 0h0m1 0h0m0 0h0m1 0h0m2 0h0m0 0h0m1 0h0m0 0h0m1 0h0m0 0h0m1 0h0m0 0h0m1 0h0m0 0h0m2 0h0m0 0h0m0 0h0m1 0h0m0 0h0m1 0h0m1 0h0m1 0h0m0 0h0m3 0h0m1 0h0m0 0h0m1 0h0m0 0h0m1 0h0m4 0h0m4 0h0m2 0h0m3 0h0m0 0h0m1 0h0m5 0h0m1 0h0m2 0h0m2 0h0m3 0h0m6 0h0m0 0h0m6 0h0m2 0h0m-137 1h0m0 0h0m0 0h0m0 0h0m0 0h0m0 0h0m0 0h0m0 0h0m0 0h0m0 0h0m0 0h0m0 0h0m0 0h0m0 0h0m1 0h0m0 0h0m0 0h0m0 0h0m1 0h0m0 0h0m1 0h0m0 0h0m1 0h0m0 0h0m0 0h0m0 0h0m1 0h0m0 0h0m1 0h0m0 0h0m1 0h0m0 0h0m0 0h0m1 0h0m0 0h0m0 0h0m1 0h0m0 0h0m0 0h0m0 0h0m1 0h0m0 0h0m1 0h0m1 0h0m0 0h0m0 0h0m1 0h0m0 0h0m1 0h0m0 0h0m0 0h0m1 0h0m1 0h0m0 0h0m0 0h0m1 0h0m0 0h0m0 0h0m1 0h0m0 0h0m0 0h0m0 0h0m1 0h0m0 0h0m0 0h0m0 0h0m0 0h0m1 0h0m0 0h0m0 0h0m0 0h0m1 0h0m0 0h0m0 0h0m0 0h0m1 0h0m1 0h0m1 0h0m2 0h0m0 0h0m0 0h0m1 0h0m0 0h0m0 0h0m1 0h0m0 0h0m1 0h0m0 0h0m0 0h0m0 0h0m1 0h0m0 0h0m1 0h0m0 0h0m1 0h0m0 0h0m0 0h0m1 0h0m0 0h0m0 0h0m0 0h0m2 0h0m0 0h0m0 0h0m0 0h0m1 0h0m0 0h0m1 0h0m1 0h0m1 0h0m0 0h0m1 0h0m1 0h0m0 0h0m0 0h0m0 0h0m0 0h0m2 0h0m0 0h0m2 0h0m0 0h0m0 0h0m0 0h0m1 0h0m0 0h0m1 0h0m1 0h0m1 0h0m1 0h0m0 0h0m0 0h0m1 0h0m0 0h0m1 0h0m2 0h0m0 0h0m0 0h0m0 0h0m0 0h0m1 0h0m0 0h0m0 0h0m0 0h0m1 0h0m0 0h0m0 0h0m1 0h0m0 0h0m0 0h0m0 0h0m1 0h0m0 0h0m0 0h0m0 0h0m0 0h0m1 0h0m0 0h0m0 0h0m0 0h0m0 0h0m1 0h0m0 0h0m1 0h0m1 0h0m1 0h0m0 0h0m0 0h0m2 0h0m0 0h0m0 0h0m1 0h0m0 0h0m0 0h0m0 0h0m1 0h0m1 0h0m0 0h0m2 0h0m1 0h0m1 0h0m0 0h0m0 0h0m0 0h0m0 0h0m1 0h0m0 0h0m0 0h0m1 0h0m0 0h0m1 0h0m0 0h0m2 0h0m2 0h0m1 0h0m0 0h0m2 0h0m1 0h0m0 0h0m2 0h0m1 0h0m0 0h0m1 0h0m0 0h0m1 0h0m3 0h0m1 0h0m0 0h0m2 0h0m0 0h0m6 0h0m1 0h0m1 0h0m1 0h0m1 0h0m0 0h0m1 0h0m2 0h0m3 0h0m1 0h0m6 0h0m1 0h0m3 0h0m6 0h0m8 0h0m-135 1h0m0 0h0m0 0h0m0 0h0m0 0h0m0 0h0m0 0h0m0 0h0m0 0h0m0 0h0m1 0h0m0 0h0m0 0h0m1 0h0m0 0h0m0 0h0m0 0h0m1 0h0m0 0h0m0 0h0m1 0h0m0 0h0m0 0h0m0 0h0m0 0h0m0 0h0m0 0h0m1 0h0m0 0h0m0 0h0m1 0h0m2 0h0m0 0h0m0 0h0m1 0h0m0 0h0m0 0h0m1 0h0m0 0h0m0 0h0m1 0h0m1 0h0m0 0h0m0 0h0m0 0h0m0 0h0m1 0h0m0 0h0m0 0h0m0 0h0m1 0h0m0 0h0m0 0h0m0 0h0m1 0h0m0 0h0m1 0h0m0 0h0m0 0h0m0 0h0m0 0h0m0 0h0m1 0h0m0 0h0m0 0h0m1 0h0m0 0h0m0 0h0m0 0h0m0 0h0m1 0h0m0 0h0m1 0h0m0 0h0m1 0h0m0 0h0m1 0h0m0 0h0m0 0h0m1 0h0m0 0h0m0 0h0m0 0h0m1 0h0m0 0h0m0 0h0m1 0h0m0 0h0m1 0h0m0 0h0m1 0h0m0 0h0m0 0h0m1 0h0m0 0h0m0 0h0m0 0h0m0 0h0m1 0h0m1 0h0m0 0h0m0 0h0m1 0h0m0 0h0m0 0h0m0 0h0m0 0h0m0 0h0m0 0h0m1 0h0m1 0h0m0 0h0m0 0h0m0 0h0m0 0h0m0 0h0m1 0h0m0 0h0m0 0h0m0 0h0m1 0h0m0 0h0m1 0h0m0 0h0m0 0h0m1 0h0m0 0h0m0 0h0m0 0h0m0 0h0m1 0h0m0 0h0m0 0h0m0 0h0m2 0h0m0 0h0m0 0h0m0 0h0m2 0h0m0 0h0m1 0h0m0 0h0m0 0h0m0 0h0m1 0h0m0 0h0m1 0h0m0 0h0m0 0h0m0 0h0m1 0h0m0 0h0m0 0h0m1 0h0m0 0h0m0 0h0m0 0h0m1 0h0m1 0h0m0 0h0m0 0h0m0 0h0m1 0h0m0 0h0m0 0h0m0 0h0m0 0h0m0 0h0m1 0h0m0 0h0m1 0h0m1 0h0m1 0h0m0 0h0m0 0h0m0 0h0m1 0h0m1 0h0m1 0h0m0 0h0m1 0h0m0 0h0m0 0h0m1 0h0m1 0h0m0 0h0m0 0h0m0 0h0m1 0h0m0 0h0m1 0h0m0 0h0m0 0h0m2 0h0m0 0h0m1 0h0m0 0h0m0 0h0m0 0h0m0 0h0m1 0h0m0 0h0m1 0h0m0 0h0m0 0h0m0 0h0m0 0h0m0 0h0m1 0h0m0 0h0m0 0h0m1 0h0m0 0h0m1 0h0m0 0h0m0 0h0m1 0h0m0 0h0m0 0h0m0 0h0m2 0h0m1 0h0m2 0h0m1 0h0m1 0h0m0 0h0m0 0h0m0 0h0m2 0h0m2 0h0m1 0h0m0 0h0m1 0h0m0 0h0m1 0h0m0 0h0m4 0h0m3 0h0m0 0h0m1 0h0m1 0h0m1 0h0m0 0h0m0 0h0m3 0h0m2 0h0m1 0h0m6 0h0m2 0h0m2 0h0m1 0h0m4 0h0m0 0h0m9 0h0m3 0h0m16 0h0m-144 1h0m0 0h0m0 0h0m0 0h0m0 0h0m0 0h0m0 0h0m0 0h0m0 0h0m0 0h0m0 0h0m1 0h0m0 0h0m0 0h0m1 0h0m0 0h0m1 0h0m1 0h0m0 0h0m0 0h0m0 0h0m1 0h0m0 0h0m0 0h0m1 0h0m1 0h0m0 0h0m1 0h0m0 0h0m0 0h0m0 0h0m1 0h0m0 0h0m0 0h0m1 0h0m0 0h0m0 0h0m1 0h0m0 0h0m0 0h0m0 0h0m1 0h0m0 0h0m0 0h0m0 0h0m1 0h0m0 0h0m1 0h0m0 0h0m0 0h0m1 0h0m0 0h0m0 0h0m1 0h0m0 0h0m0 0h0m0 0h0m1 0h0m0 0h0m0 0h0m1 0h0m0 0h0m1 0h0m0 0h0m1 0h0m0 0h0m0 0h0m0 0h0m0 0h0m0 0h0m1 0h0m0 0h0m0 0h0m0 0h0m0 0h0m1 0h0m0 0h0m0 0h0m1 0h0m1 0h0m0 0h0m0 0h0m0 0h0m1 0h0m0 0h0m0 0h0m0 0h0m0 0h0m2 0h0m0 0h0m1 0h0m0 0h0m0 0h0m0 0h0m0 0h0m1 0h0m0 0h0m0 0h0m1 0h0m0 0h0m0 0h0m0 0h0m1 0h0m0 0h0m0 0h0m0 0h0m0 0h0m1 0h0m0 0h0m0 0h0m2 0h0m0 0h0m0 0h0m0 0h0m1 0h0m0 0h0m0 0h0m0 0h0m0 0h0m0 0h0m1 0h0m0 0h0m0 0h0m1 0h0m0 0h0m0 0h0m0 0h0m0 0h0m2 0h0m1 0h0m0 0h0m0 0h0m0 0h0m0 0h0m0 0h0m1 0h0m0 0h0m0 0h0m0 0h0m0 0h0m2 0h0m0 0h0m0 0h0m0 0h0m0 0h0m2 0h0m0 0h0m0 0h0m0 0h0m1 0h0m0 0h0m0 0h0m1 0h0m0 0h0m2 0h0m0 0h0m0 0h0m0 0h0m0 0h0m1 0h0m1 0h0m0 0h0m0 0h0m0 0h0m0 0h0m0 0h0m1 0h0m0 0h0m0 0h0m1 0h0m0 0h0m1 0h0m0 0h0m0 0h0m0 0h0m1 0h0m0 0h0m0 0h0m1 0h0m0 0h0m0 0h0m1 0h0m0 0h0m0 0h0m2 0h0m1 0h0m0 0h0m1 0h0m0 0h0m1 0h0m0 0h0m0 0h0m1 0h0m1 0h0m1 0h0m0 0h0m0 0h0m0 0h0m1 0h0m0 0h0m0 0h0m1 0h0m0 0h0m0 0h0m1 0h0m0 0h0m1 0h0m0 0h0m0 0h0m1 0h0m1 0h0m0 0h0m1 0h0m1 0h0m0 0h0m4 0h0m0 0h0m1 0h0m1 0h0m1 0h0m0 0h0m1 0h0m0 0h0m1 0h0m2 0h0m2 0h0m0 0h0m0 0h0m1 0h0m1 0h0m2 0h0m0 0h0m0 0h0m1 0h0m0 0h0m0 0h0m1 0h0m4 0h0m2 0h0m3 0h0m0 0h0m0 0h0m2 0h0m2 0h0m0 0h0m11 0h0m4 0h0m2 0h0m5 0h0m9 0h0m21 0h0m2 0h0m-159 1h0m0 0h0m0 0h0m0 0h0m0 0h0m0 0h0m0 0h0m0 0h0m0 0h0m0 0h0m0 0h0m1 0h0m0 0h0m0 0h0m1 0h0m0 0h0m0 0h0m0 0h0m0 0h0m0 0h0m0 0h0m0 0h0m1 0h0m0 0h0m0 0h0m1 0h0m1 0h0m0 0h0m1 0h0m1 0h0m0 0h0m0 0h0m0 0h0m0 0h0m0 0h0m0 0h0m1 0h0m0 0h0m1 0h0m0 0h0m1 0h0m0 0h0m1 0h0m0 0h0m0 0h0m0 0h0m1 0h0m0 0h0m0 0h0m1 0h0m1 0h0m0 0h0m0 0h0m0 0h0m1 0h0m0 0h0m0 0h0m1 0h0m0 0h0m0 0h0m0 0h0m0 0h0m1 0h0m0 0h0m0 0h0m0 0h0m1 0h0m0 0h0m0 0h0m1 0h0m0 0h0m1 0h0m0 0h0m0 0h0m0 0h0m0 0h0m0 0h0m0 0h0m1 0h0m0 0h0m0 0h0m0 0h0m1 0h0m0 0h0m0 0h0m0 0h0m0 0h0m0 0h0m0 0h0m1 0h0m0 0h0m0 0h0m1 0h0m0 0h0m1 0h0m0 0h0m0 0h0m1 0h0m0 0h0m1 0h0m1 0h0m0 0h0m0 0h0m0 0h0m0 0h0m1 0h0m0 0h0m0 0h0m1 0h0m0 0h0m1 0h0m0 0h0m1 0h0m0 0h0m1 0h0m0 0h0m0 0h0m0 0h0m0 0h0m1 0h0m0 0h0m0 0h0m1 0h0m0 0h0m0 0h0m0 0h0m1 0h0m0 0h0m0 0h0m1 0h0m0 0h0m0 0h0m0 0h0m0 0h0m1 0h0m1 0h0m0 0h0m1 0h0m0 0h0m1 0h0m0 0h0m1 0h0m0 0h0m1 0h0m0 0h0m1 0h0m0 0h0m0 0h0m0 0h0m0 0h0m1 0h0m1 0h0m0 0h0m1 0h0m0 0h0m0 0h0m1 0h0m1 0h0m0 0h0m1 0h0m1 0h0m0 0h0m0 0h0m0 0h0m1 0h0m0 0h0m1 0h0m0 0h0m1 0h0m0 0h0m1 0h0m0 0h0m0 0h0m0 0h0m1 0h0m0 0h0m0 0h0m0 0h0m0 0h0m1 0h0m2 0h0m0 0h0m1 0h0m0 0h0m1 0h0m1 0h0m1 0h0m0 0h0m0 0h0m0 0h0m1 0h0m1 0h0m0 0h0m0 0h0m1 0h0m1 0h0m0 0h0m0 0h0m1 0h0m0 0h0m0 0h0m1 0h0m1 0h0m0 0h0m0 0h0m0 0h0m0 0h0m1 0h0m0 0h0m1 0h0m0 0h0m0 0h0m0 0h0m0 0h0m1 0h0m1 0h0m0 0h0m0 0h0m0 0h0m1 0h0m2 0h0m0 0h0m0 0h0m1 0h0m0 0h0m0 0h0m0 0h0m1 0h0m2 0h0m2 0h0m3 0h0m0 0h0m0 0h0m2 0h0m0 0h0m1 0h0m1 0h0m0 0h0m3 0h0m0 0h0m4 0h0m0 0h0m1 0h0m1 0h0m4 0h0m0 0h0m1 0h0m1 0h0m1 0h0m1 0h0m8 0h0m7 0h0m1 0h0m3 0h0m17 0h0m26 0h0m-169 1h0m0 0h0m0 0h0m0 0h0m0 0h0m1 0h0m0 0h0m1 0h0m0 0h0m0 0h0m1 0h0m0 0h0m0 0h0m1 0h0m0 0h0m0 0h0m1 0h0m0 0h0m0 0h0m0 0h0m0 0h0m1 0h0m0 0h0m0 0h0m1 0h0m0 0h0m1 0h0m0 0h0m0 0h0m0 0h0m1 0h0m0 0h0m1 0h0m1 0h0m0 0h0m0 0h0m1 0h0m0 0h0m1 0h0m0 0h0m0 0h0m0 0h0m1 0h0m0 0h0m0 0h0m0 0h0m0 0h0m1 0h0m0 0h0m1 0h0m0 0h0m0 0h0m1 0h0m0 0h0m0 0h0m0 0h0m0 0h0m0 0h0m1 0h0m0 0h0m0 0h0m1 0h0m0 0h0m0 0h0m0 0h0m0 0h0m0 0h0m1 0h0m0 0h0m0 0h0m1 0h0m0 0h0m0 0h0m1 0h0m1 0h0m0 0h0m1 0h0m0 0h0m0 0h0m0 0h0m1 0h0m0 0h0m0 0h0m1 0h0m0 0h0m1 0h0m0 0h0m1 0h0m0 0h0m1 0h0m0 0h0m0 0h0m0 0h0m1 0h0m0 0h0m1 0h0m0 0h0m0 0h0m1 0h0m0 0h0m0 0h0m0 0h0m1 0h0m2 0h0m1 0h0m0 0h0m0 0h0m0 0h0m1 0h0m0 0h0m0 0h0m1 0h0m1 0h0m0 0h0m0 0h0m1 0h0m1 0h0m0 0h0m0 0h0m1 0h0m0 0h0m1 0h0m0 0h0m0 0h0m1 0h0m0 0h0m0 0h0m0 0h0m1 0h0m1 0h0m0 0h0m0 0h0m0 0h0m0 0h0m1 0h0m0 0h0m0 0h0m3 0h0m0 0h0m1 0h0m0 0h0m0 0h0m0 0h0m2 0h0m1 0h0m0 0h0m1 0h0m0 0h0m1 0h0m1 0h0m0 0h0m0 0h0m0 0h0m0 0h0m0 0h0m1 0h0m0 0h0m1 0h0m0 0h0m0 0h0m1 0h0m1 0h0m0 0h0m1 0h0m0 0h0m1 0h0m1 0h0m0 0h0m1 0h0m1 0h0m1 0h0m0 0h0m0 0h0m0 0h0m1 0h0m0 0h0m1 0h0m0 0h0m0 0h0m1 0h0m0 0h0m0 0h0m0 0h0m1 0h0m0 0h0m0 0h0m1 0h0m1 0h0m0 0h0m0 0h0m0 0h0m0 0h0m1 0h0m1 0h0m0 0h0m0 0h0m0 0h0m1 0h0m0 0h0m0 0h0m1 0h0m1 0h0m1 0h0m0 0h0m2 0h0m1 0h0m1 0h0m2 0h0m1 0h0m0 0h0m1 0h0m1 0h0m0 0h0m2 0h0m5 0h0m0 0h0m2 0h0m7 0h0m0 0h0m2 0h0m2 0h0m7 0h0m5 0h0m14 0h0m1 0h0m25 0h0m-160 1h0m0 0h0m0 0h0m0 0h0m0 0h0m0 0h0m0 0h0m0 0h0m0 0h0m0 0h0m0 0h0m0 0h0m0 0h0m0 0h0m1 0h0m0 0h0m0 0h0m0 0h0m1 0h0m0 0h0m1 0h0m0 0h0m0 0h0m0 0h0m1 0h0m0 0h0m0 0h0m0 0h0m0 0h0m0 0h0m1 0h0m0 0h0m0 0h0m0 0h0m2 0h0m0 0h0m0 0h0m0 0h0m1 0h0m0 0h0m0 0h0m1 0h0m0 0h0m0 0h0m1 0h0m1 0h0m0 0h0m1 0h0m1 0h0m0 0h0m0 0h0m0 0h0m1 0h0m0 0h0m0 0h0m1 0h0m2 0h0m0 0h0m0 0h0m0 0h0m0 0h0m0 0h0m1 0h0m0 0h0m0 0h0m1 0h0m1 0h0m0 0h0m1 0h0m0 0h0m1 0h0m0 0h0m0 0h0m1 0h0m0 0h0m0 0h0m0 0h0m0 0h0m1 0h0m0 0h0m0 0h0m1 0h0m0 0h0m1 0h0m0 0h0m0 0h0m0 0h0m1 0h0m0 0h0m1 0h0m0 0h0m0 0h0m0 0h0m1 0h0m1 0h0m0 0h0m0 0h0m1 0h0m1 0h0m0 0h0m0 0h0m2 0h0m0 0h0m0 0h0m0 0h0m1 0h0m0 0h0m1 0h0m0 0h0m0 0h0m0 0h0m1 0h0m0 0h0m0 0h0m0 0h0m1 0h0m1 0h0m0 0h0m0 0h0m0 0h0m1 0h0m0 0h0m0 0h0m0 0h0m0 0h0m1 0h0m0 0h0m1 0h0m0 0h0m1 0h0m0 0h0m0 0h0m1 0h0m0 0h0m0 0h0m0 0h0m2 0h0m0 0h0m0 0h0m0 0h0m0 0h0m0 0h0m0 0h0m2 0h0m0 0h0m0 0h0m1 0h0m1 0h0m0 0h0m0 0h0m1 0h0m0 0h0m1 0h0m0 0h0m0 0h0m1 0h0m0 0h0m0 0h0m1 0h0m2 0h0m0 0h0m0 0h0m0 0h0m1 0h0m0 0h0m0 0h0m1 0h0m0 0h0m0 0h0m0 0h0m0 0h0m1 0h0m0 0h0m0 0h0m0 0h0m1 0h0m0 0h0m0 0h0m1 0h0m0 0h0m0 0h0m0 0h0m0 0h0m0 0h0m1 0h0m0 0h0m0 0h0m0 0h0m1 0h0m2 0h0m0 0h0m0 0h0m0 0h0m1 0h0m0 0h0m1 0h0m0 0h0m1 0h0m0 0h0m1 0h0m1 0h0m0 0h0m0 0h0m2 0h0m0 0h0m1 0h0m1 0h0m0 0h0m0 0h0m0 0h0m3 0h0m1 0h0m0 0h0m0 0h0m2 0h0m0 0h0m2 0h0m1 0h0m1 0h0m0 0h0m0 0h0m1 0h0m0 0h0m1 0h0m0 0h0m2 0h0m1 0h0m1 0h0m1 0h0m1 0h0m1 0h0m3 0h0m2 0h0m1 0h0m1 0h0m0 0h0m5 0h0m1 0h0m8 0h0m5 0h0m6 0h0m3 0h0m3 0h0m10 0h0m0 0h0m-141 1h0m0 0h0m0 0h0m0 0h0m0 0h0m0 0h0m0 0h0m0 0h0m0 0h0m0 0h0m0 0h0m0 0h0m2 0h0m0 0h0m0 0h0m1 0h0m0 0h0m0 0h0m0 0h0m1 0h0m0 0h0m0 0h0m0 0h0m1 0h0m0 0h0m2 0h0m1 0h0m0 0h0m0 0h0m1 0h0m0 0h0m1 0h0m0 0h0m1 0h0m0 0h0m1 0h0m0 0h0m0 0h0m1 0h0m1 0h0m0 0h0m0 0h0m1 0h0m0 0h0m0 0h0m1 0h0m0 0h0m0 0h0m0 0h0m0 0h0m1 0h0m0 0h0m0 0h0m0 0h0m0 0h0m0 0h0m1 0h0m1 0h0m0 0h0m0 0h0m1 0h0m1 0h0m0 0h0m0 0h0m1 0h0m0 0h0m0 0h0m1 0h0m0 0h0m1 0h0m0 0h0m0 0h0m1 0h0m0 0h0m0 0h0m0 0h0m1 0h0m1 0h0m0 0h0m0 0h0m1 0h0m1 0h0m1 0h0m0 0h0m1 0h0m0 0h0m0 0h0m0 0h0m1 0h0m0 0h0m0 0h0m0 0h0m1 0h0m0 0h0m0 0h0m0 0h0m1 0h0m0 0h0m0 0h0m1 0h0m0 0h0m0 0h0m0 0h0m1 0h0m0 0h0m0 0h0m0 0h0m1 0h0m0 0h0m1 0h0m1 0h0m0 0h0m0 0h0m1 0h0m0 0h0m0 0h0m1 0h0m0 0h0m0 0h0m1 0h0m0 0h0m1 0h0m1 0h0m0 0h0m0 0h0m0 0h0m0 0h0m1 0h0m0 0h0m0 0h0m2 0h0m0 0h0m1 0h0m0 0h0m0 0h0m0 0h0m1 0h0m0 0h0m0 0h0m1 0h0m0 0h0m0 0h0m1 0h0m0 0h0m0 0h0m1 0h0m0 0h0m0 0h0m1 0h0m0 0h0m0 0h0m0 0h0m1 0h0m0 0h0m1 0h0m0 0h0m0 0h0m0 0h0m1 0h0m0 0h0m0 0h0m1 0h0m0 0h0m0 0h0m0 0h0m0 0h0m0 0h0m1 0h0m0 0h0m0 0h0m0 0h0m0 0h0m0 0h0m0 0h0m0 0h0m0 0h0m1 0h0m0 0h0m0 0h0m1 0h0m0 0h0m0 0h0m0 0h0m1 0h0m1 0h0m2 0h0m1 0h0m0 0h0m1 0h0m0 0h0m1 0h0m0 0h0m0 0h0m0 0h0m0 0h0m1 0h0m0 0h0m0 0h0m1 0h0m0 0h0m1 0h0m0 0h0m0 0h0m0 0h0m0 0h0m2 0h0m0 0h0m0 0h0m1 0h0m1 0h0m0 0h0m0 0h0m1 0h0m1 0h0m2 0h0m0 0h0m0 0h0m0 0h0m0 0h0m2 0h0m2 0h0m2 0h0m1 0h0m1 0h0m0 0h0m4 0h0m1 0h0m1 0h0m2 0h0m1 0h0m1 0h0m1 0h0m0 0h0m3 0h0m1 0h0m10 0h0m2 0h0m1 0h0m2 0h0m0 0h0m2 0h0m0 0h0m4 0h0m1 0h0m7 0h0m0 0h0m1 0h0m8 0h0m27 0h0m-166 1h0m0 0h0m0 0h0m0 0h0m0 0h0m0 0h0m0 0h0m0 0h0m0 0h0m0 0h0m0 0h0m0 0h0m1 0h0m0 0h0m0 0h0m0 0h0m1 0h0m1 0h0m0 0h0m0 0h0m1 0h0m0 0h0m1 0h0m0 0h0m1 0h0m0 0h0m0 0h0m0 0h0m1 0h0m0 0h0m0 0h0m2 0h0m0 0h0m1 0h0m0 0h0m0 0h0m0 0h0m1 0h0m0 0h0m1 0h0m0 0h0m1 0h0m0 0h0m0 0h0m0 0h0m2 0h0m0 0h0m1 0h0m0 0h0m0 0h0m0 0h0m1 0h0m0 0h0m1 0h0m0 0h0m0 0h0m0 0h0m0 0h0m1 0h0m0 0h0m0 0h0m0 0h0m0 0h0m1 0h0m0 0h0m0 0h0m1 0h0m1 0h0m0 0h0m0 0h0m0 0h0m1 0h0m0 0h0m0 0h0m1 0h0m0 0h0m0 0h0m2 0h0m0 0h0m0 0h0m1 0h0m2 0h0m0 0h0m0 0h0m0 0h0m1 0h0m0 0h0m0 0h0m0 0h0m0 0h0m0 0h0m1 0h0m0 0h0m2 0h0m1 0h0m0 0h0m1 0h0m1 0h0m0 0h0m0 0h0m1 0h0m0 0h0m1 0h0m0 0h0m2 0h0m0 0h0m1 0h0m0 0h0m1 0h0m0 0h0m0 0h0m0 0h0m0 0h0m0 0h0m0 0h0m0 0h0m1 0h0m0 0h0m1 0h0m0 0h0m1 0h0m0 0h0m0 0h0m1 0h0m0 0h0m1 0h0m1 0h0m0 0h0m1 0h0m0 0h0m0 0h0m0 0h0m1 0h0m0 0h0m0 0h0m0 0h0m1 0h0m1 0h0m1 0h0m0 0h0m0 0h0m1 0h0m0 0h0m0 0h0m1 0h0m0 0h0m1 0h0m0 0h0m0 0h0m1 0h0m0 0h0m0 0h0m0 0h0m0 0h0m1 0h0m0 0h0m0 0h0m1 0h0m0 0h0m1 0h0m0 0h0m0 0h0m0 0h0m0 0h0m1 0h0m1 0h0m1 0h0m0 0h0m0 0h0m1 0h0m0 0h0m0 0h0m0 0h0m1 0h0m0 0h0m0 0h0m1 0h0m0 0h0m1 0h0m0 0h0m0 0h0m1 0h0m0 0h0m0 0h0m0 0h0m0 0h0m1 0h0m0 0h0m1 0h0m0 0h0m1 0h0m1 0h0m1 0h0m0 0h0m0 0h0m1 0h0m0 0h0m3 0h0m1 0h0m1 0h0m1 0h0m0 0h0m0 0h0m1 0h0m1 0h0m1 0h0m2 0h0m1 0h0m2 0h0m1 0h0m3 0h0m3 0h0m0 0h0m1 0h0m1 0h0m1 0h0m1 0h0m3 0h0m0 0h0m0 0h0m8 0h0m3 0h0m12 0h0m7 0h0m8 0h0m4 0h0m2 0h0m0 0h0m2 0h0m4 0h0m9 0h0m-161 1h0m0 0h0m0 0h0m0 0h0m0 0h0m0 0h0m0 0h0m0 0h0m0 0h0m0 0h0m0 0h0m0 0h0m0 0h0m0 0h0m0 0h0m0 0h0m0 0h0m0 0h0m1 0h0m0 0h0m0 0h0m0 0h0m1 0h0m0 0h0m0 0h0m1 0h0m1 0h0m0 0h0m1 0h0m1 0h0m0 0h0m0 0h0m1 0h0m0 0h0m0 0h0m0 0h0m1 0h0m0 0h0m0 0h0m0 0h0m0 0h0m1 0h0m1 0h0m0 0h0m1 0h0m1 0h0m0 0h0m0 0h0m1 0h0m0 0h0m1 0h0m0 0h0m0 0h0m1 0h0m1 0h0m0 0h0m0 0h0m1 0h0m1 0h0m0 0h0m0 0h0m0 0h0m0 0h0m1 0h0m0 0h0m0 0h0m1 0h0m0 0h0m0 0h0m1 0h0m0 0h0m1 0h0m0 0h0m0 0h0m1 0h0m2 0h0m0 0h0m0 0h0m0 0h0m1 0h0m1 0h0m0 0h0m1 0h0m0 0h0m0 0h0m1 0h0m0 0h0m1 0h0m0 0h0m1 0h0m3 0h0m0 0h0m1 0h0m0 0h0m0 0h0m1 0h0m0 0h0m0 0h0m1 0h0m0 0h0m1 0h0m0 0h0m0 0h0m2 0h0m0 0h0m0 0h0m0 0h0m1 0h0m0 0h0m0 0h0m0 0h0m1 0h0m0 0h0m1 0h0m0 0h0m1 0h0m1 0h0m1 0h0m0 0h0m1 0h0m1 0h0m0 0h0m1 0h0m0 0h0m0 0h0m0 0h0m1 0h0m0 0h0m2 0h0m0 0h0m0 0h0m0 0h0m1 0h0m1 0h0m0 0h0m1 0h0m1 0h0m0 0h0m0 0h0m0 0h0m1 0h0m0 0h0m0 0h0m1 0h0m0 0h0m1 0h0m0 0h0m0 0h0m0 0h0m0 0h0m1 0h0m0 0h0m0 0h0m0 0h0m0 0h0m0 0h0m0 0h0m0 0h0m1 0h0m0 0h0m0 0h0m0 0h0m0 0h0m0 0h0m1 0h0m0 0h0m1 0h0m0 0h0m0 0h0m0 0h0m1 0h0m0 0h0m0 0h0m1 0h0m0 0h0m1 0h0m2 0h0m0 0h0m1 0h0m0 0h0m1 0h0m0 0h0m0 0h0m0 0h0m1 0h0m2 0h0m0 0h0m1 0h0m0 0h0m0 0h0m0 0h0m0 0h0m1 0h0m0 0h0m1 0h0m0 0h0m1 0h0m0 0h0m1 0h0m0 0h0m1 0h0m0 0h0m0 0h0m0 0h0m1 0h0m0 0h0m2 0h0m0 0h0m1 0h0m0 0h0m0 0h0m1 0h0m4 0h0m0 0h0m0 0h0m1 0h0m0 0h0m1 0h0m1 0h0m0 0h0m1 0h0m0 0h0m2 0h0m0 0h0m0 0h0m1 0h0m7 0h0m1 0h0m0 0h0m1 0h0m2 0h0m3 0h0m2 0h0m1 0h0m0 0h0m1 0h0m10 0h0m10 0h0m14 0h0m-147 1h0m0 0h0m0 0h0m0 0h0m0 0h0m0 0h0m0 0h0m0 0h0m0 0h0m0 0h0m0 0h0m0 0h0m0 0h0m0 0h0m1 0h0m0 0h0m0 0h0m1 0h0m1 0h0m0 0h0m1 0h0m0 0h0m0 0h0m0 0h0m0 0h0m1 0h0m0 0h0m0 0h0m0 0h0m0 0h0m1 0h0m0 0h0m0 0h0m0 0h0m0 0h0m1 0h0m0 0h0m3 0h0m0 0h0m0 0h0m0 0h0m1 0h0m0 0h0m0 0h0m0 0h0m1 0h0m0 0h0m1 0h0m0 0h0m1 0h0m1 0h0m0 0h0m0 0h0m0 0h0m0 0h0m0 0h0m1 0h0m0 0h0m0 0h0m0 0h0m1 0h0m0 0h0m0 0h0m1 0h0m0 0h0m0 0h0m1 0h0m0 0h0m1 0h0m0 0h0m1 0h0m0 0h0m1 0h0m0 0h0m1 0h0m0 0h0m1 0h0m1 0h0m0 0h0m0 0h0m0 0h0m1 0h0m0 0h0m0 0h0m0 0h0m1 0h0m1 0h0m0 0h0m0 0h0m0 0h0m0 0h0m1 0h0m2 0h0m0 0h0m0 0h0m0 0h0m2 0h0m0 0h0m0 0h0m1 0h0m1 0h0m0 0h0m0 0h0m1 0h0m2 0h0m0 0h0m0 0h0m1 0h0m0 0h0m0 0h0m0 0h0m1 0h0m0 0h0m0 0h0m0 0h0m0 0h0m0 0h0m1 0h0m0 0h0m1 0h0m0 0h0m0 0h0m0 0h0m0 0h0m1 0h0m0 0h0m0 0h0m0 0h0m1 0h0m0 0h0m1 0h0m0 0h0m0 0h0m0 0h0m0 0h0m0 0h0m1 0h0m0 0h0m0 0h0m1 0h0m0 0h0m1 0h0m0 0h0m0 0h0m0 0h0m0 0h0m1 0h0m0 0h0m0 0h0m0 0h0m2 0h0m0 0h0m0 0h0m0 0h0m0 0h0m1 0h0m0 0h0m0 0h0m1 0h0m0 0h0m0 0h0m2 0h0m0 0h0m0 0h0m0 0h0m0 0h0m1 0h0m1 0h0m0 0h0m0 0h0m0 0h0m1 0h0m0 0h0m1 0h0m1 0h0m0 0h0m0 0h0m0 0h0m1 0h0m1 0h0m0 0h0m0 0h0m1 0h0m0 0h0m0 0h0m0 0h0m0 0h0m0 0h0m1 0h0m0 0h0m0 0h0m1 0h0m1 0h0m0 0h0m1 0h0m0 0h0m0 0h0m1 0h0m0 0h0m1 0h0m0 0h0m0 0h0m1 0h0m0 0h0m1 0h0m1 0h0m1 0h0m1 0h0m0 0h0m3 0h0m0 0h0m1 0h0m2 0h0m0 0h0m0 0h0m2 0h0m1 0h0m0 0h0m0 0h0m0 0h0m1 0h0m0 0h0m0 0h0m0 0h0m1 0h0m1 0h0m0 0h0m1 0h0m1 0h0m0 0h0m1 0h0m1 0h0m12 0h0m1 0h0m1 0h0m0 0h0m1 0h0m1 0h0m1 0h0m2 0h0m2 0h0m2 0h0m3 0h0m4 0h0m6 0h0m11 0h0m0 0h0m4 0h0m0 0h0m2 0h0m9 0h0m2 0h0m-154 1h0m0 0h0m0 0h0m0 0h0m0 0h0m0 0h0m0 0h0m0 0h0m0 0h0m0 0h0m0 0h0m0 0h0m0 0h0m0 0h0m0 0h0m0 0h0m0 0h0m0 0h0m1 0h0m0 0h0m1 0h0m0 0h0m0 0h0m0 0h0m1 0h0m1 0h0m0 0h0m0 0h0m1 0h0m1 0h0m1 0h0m0 0h0m0 0h0m1 0h0m0 0h0m1 0h0m0 0h0m0 0h0m0 0h0m1 0h0m0 0h0m0 0h0m0 0h0m0 0h0m1 0h0m0 0h0m1 0h0m0 0h0m0 0h0m0 0h0m0 0h0m1 0h0m0 0h0m0 0h0m0 0h0m0 0h0m1 0h0m0 0h0m0 0h0m0 0h0m1 0h0m0 0h0m1 0h0m0 0h0m1 0h0m0 0h0m1 0h0m0 0h0m0 0h0m1 0h0m0 0h0m0 0h0m0 0h0m1 0h0m0 0h0m1 0h0m0 0h0m1 0h0m0 0h0m0 0h0m1 0h0m0 0h0m0 0h0m0 0h0m0 0h0m0 0h0m0 0h0m0 0h0m1 0h0m0 0h0m0 0h0m1 0h0m0 0h0m0 0h0m1 0h0m0 0h0m0 0h0m0 0h0m1 0h0m0 0h0m0 0h0m0 0h0m1 0h0m1 0h0m1 0h0m1 0h0m0 0h0m0 0h0m1 0h0m0 0h0m0 0h0m0 0h0m1 0h0m0 0h0m0 0h0m0 0h0m0 0h0m0 0h0m1 0h0m0 0h0m0 0h0m0 0h0m1 0h0m0 0h0m0 0h0m1 0h0m0 0h0m0 0h0m0 0h0m0 0h0m1 0h0m0 0h0m0 0h0m1 0h0m0 0h0m0 0h0m0 0h0m0 0h0m0 0h0m0 0h0m1 0h0m0 0h0m0 0h0m1 0h0m0 0h0m0 0h0m1 0h0m0 0h0m0 0h0m0 0h0m1 0h0m0 0h0m0 0h0m0 0h0m0 0h0m0 0h0m1 0h0m1 0h0m1 0h0m0 0h0m0 0h0m1 0h0m0 0h0m0 0h0m1 0h0m1 0h0m2 0h0m0 0h0m1 0h0m0 0h0m1 0h0m0 0h0m0 0h0m0 0h0m1 0h0m1 0h0m0 0h0m1 0h0m0 0h0m0 0h0m0 0h0m0 0h0m0 0h0m0 0h0m1 0h0m0 0h0m0 0h0m1 0h0m0 0h0m0 0h0m0 0h0m0 0h0m1 0h0m0 0h0m2 0h0m1 0h0m0 0h0m1 0h0m0 0h0m0 0h0m1 0h0m0 0h0m0 0h0m0 0h0m0 0h0m1 0h0m0 0h0m0 0h0m2 0h0m0 0h0m1 0h0m0 0h0m0 0h0m0 0h0m0 0h0m2 0h0m0 0h0m1 0h0m0 0h0m0 0h0m1 0h0m0 0h0m1 0h0m1 0h0m1 0h0m0 0h0m0 0h0m1 0h0m0 0h0m0 0h0m0 0h0m0 0h0m1 0h0m2 0h0m1 0h0m0 0h0m1 0h0m0 0h0m1 0h0m1 0h0m0 0h0m0 0h0m2 0h0m0 0h0m0 0h0m1 0h0m1 0h0m0 0h0m1 0h0m1 0h0m0 0h0m4 0h0m0 0h0m2 0h0m1 0h0m2 0h0m4 0h0m2 0h0m0 0h0m0 0h0m1 0h0m2 0h0m5 0h0m7 0h0m0 0h0m3 0h0m0 0h0m3 0h0m5 0h0m4 0h0m2 0h0m0 0h0m-135 1h0m0 0h0m0 0h0m0 0h0m0 0h0m0 0h0m0 0h0m0 0h0m0 0h0m0 0h0m0 0h0m0 0h0m0 0h0m0 0h0m0 0h0m1 0h0m1 0h0m0 0h0m0 0h0m0 0h0m0 0h0m0 0h0m0 0h0m0 0h0m1 0h0m0 0h0m0 0h0m0 0h0m0 0h0m0 0h0m0 0h0m1 0h0m0 0h0m0 0h0m0 0h0m1 0h0m0 0h0m0 0h0m0 0h0m0 0h0m0 0h0m1 0h0m0 0h0m1 0h0m1 0h0m0 0h0m0 0h0m0 0h0m1 0h0m1 0h0m0 0h0m1 0h0m0 0h0m0 0h0m1 0h0m0 0h0m0 0h0m1 0h0m0 0h0m1 0h0m0 0h0m1 0h0m0 0h0m0 0h0m0 0h0m1 0h0m1 0h0m0 0h0m1 0h0m0 0h0m1 0h0m1 0h0m0 0h0m0 0h0m1 0h0m0 0h0m0 0h0m0 0h0m0 0h0m1 0h0m0 0h0m1 0h0m0 0h0m0 0h0m1 0h0m0 0h0m0 0h0m0 0h0m1 0h0m0 0h0m0 0h0m0 0h0m0 0h0m1 0h0m0 0h0m0 0h0m1 0h0m0 0h0m0 0h0m0 0h0m0 0h0m1 0h0m0 0h0m0 0h0m0 0h0m0 0h0m0 0h0m0 0h0m1 0h0m0 0h0m0 0h0m0 0h0m1 0h0m0 0h0m0 0h0m0 0h0m0 0h0m0 0h0m1 0h0m0 0h0m0 0h0m1 0h0m0 0h0m1 0h0m0 0h0m0 0h0m0 0h0m1 0h0m0 0h0m0 0h0m1 0h0m1 0h0m0 0h0m1 0h0m0 0h0m0 0h0m1 0h0m0 0h0m0 0h0m0 0h0m2 0h0m0 0h0m1 0h0m0 0h0m1 0h0m0 0h0m0 0h0m1 0h0m0 0h0m1 0h0m0 0h0m0 0h0m0 0h0m1 0h0m0 0h0m0 0h0m1 0h0m0 0h0m2 0h0m0 0h0m1 0h0m0 0h0m1 0h0m1 0h0m0 0h0m0 0h0m0 0h0m0 0h0m1 0h0m0 0h0m1 0h0m0 0h0m0 0h0m1 0h0m0 0h0m0 0h0m0 0h0m0 0h0m1 0h0m0 0h0m0 0h0m0 0h0m1 0h0m0 0h0m0 0h0m0 0h0m1 0h0m0 0h0m0 0h0m0 0h0m0 0h0m1 0h0m0 0h0m0 0h0m0 0h0m1 0h0m0 0h0m1 0h0m0 0h0m0 0h0m0 0h0m1 0h0m0 0h0m0 0h0m1 0h0m0 0h0m0 0h0m1 0h0m1 0h0m0 0h0m0 0h0m1 0h0m0 0h0m0 0h0m1 0h0m0 0h0m1 0h0m1 0h0m1 0h0m0 0h0m1 0h0m1 0h0m0 0h0m1 0h0m0 0h0m1 0h0m0 0h0m0 0h0m1 0h0m0 0h0m0 0h0m0 0h0m0 0h0m1 0h0m0 0h0m0 0h0m1 0h0m0 0h0m0 0h0m1 0h0m0 0h0m2 0h0m0 0h0m0 0h0m0 0h0m1 0h0m0 0h0m0 0h0m2 0h0m1 0h0m0 0h0m0 0h0m0 0h0m3 0h0m0 0h0m1 0h0m0 0h0m0 0h0m0 0h0m1 0h0m0 0h0m0 0h0m1 0h0m0 0h0m1 0h0m0 0h0m2 0h0m3 0h0m0 0h0m1 0h0m1 0h0m1 0h0m0 0h0m2 0h0m2 0h0m2 0h0m1 0h0m1 0h0m3 0h0m4 0h0m2 0h0m-115 1h0m0 0h0m0 0h0m0 0h0m0 0h0m0 0h0m0 0h0m0 0h0m0 0h0m0 0h0m0 0h0m0 0h0m0 0h0m0 0h0m0 0h0m0 0h0m1 0h0m0 0h0m0 0h0m0 0h0m0 0h0m0 0h0m0 0h0m1 0h0m0 0h0m0 0h0m0 0h0m0 0h0m1 0h0m0 0h0m0 0h0m2 0h0m0 0h0m0 0h0m0 0h0m1 0h0m0 0h0m0 0h0m1 0h0m0 0h0m0 0h0m1 0h0m0 0h0m1 0h0m0 0h0m0 0h0m0 0h0m2 0h0m0 0h0m0 0h0m0 0h0m1 0h0m0 0h0m0 0h0m0 0h0m1 0h0m0 0h0m1 0h0m0 0h0m1 0h0m1 0h0m0 0h0m0 0h0m1 0h0m1 0h0m0 0h0m0 0h0m1 0h0m1 0h0m1 0h0m0 0h0m1 0h0m0 0h0m0 0h0m1 0h0m1 0h0m0 0h0m0 0h0m1 0h0m1 0h0m1 0h0m1 0h0m0 0h0m0 0h0m1 0h0m0 0h0m1 0h0m0 0h0m0 0h0m1 0h0m0 0h0m0 0h0m0 0h0m0 0h0m1 0h0m0 0h0m1 0h0m0 0h0m0 0h0m1 0h0m0 0h0m0 0h0m0 0h0m1 0h0m0 0h0m1 0h0m1 0h0m0 0h0m0 0h0m1 0h0m0 0h0m0 0h0m1 0h0m0 0h0m0 0h0m1 0h0m1 0h0m0 0h0m0 0h0m1 0h0m0 0h0m1 0h0m0 0h0m1 0h0m0 0h0m0 0h0m0 0h0m0 0h0m0 0h0m1 0h0m0 0h0m0 0h0m0 0h0m0 0h0m1 0h0m0 0h0m1 0h0m0 0h0m0 0h0m0 0h0m1 0h0m0 0h0m1 0h0m0 0h0m0 0h0m1 0h0m0 0h0m0 0h0m1 0h0m0 0h0m0 0h0m0 0h0m0 0h0m1 0h0m0 0h0m1 0h0m1 0h0m0 0h0m0 0h0m0 0h0m0 0h0m0 0h0m0 0h0m1 0h0m0 0h0m0 0h0m1 0h0m0 0h0m0 0h0m1 0h0m0 0h0m1 0h0m1 0h0m0 0h0m0 0h0m0 0h0m1 0h0m0 0h0m0 0h0m0 0h0m0 0h0m1 0h0m0 0h0m1 0h0m0 0h0m0 0h0m0 0h0m0 0h0m1 0h0m0 0h0m0 0h0m0 0h0m1 0h0m1 0h0m0 0h0m1 0h0m0 0h0m0 0h0m0 0h0m0 0h0m0 0h0m1 0h0m1 0h0m0 0h0m0 0h0m1 0h0m1 0h0m0 0h0m0 0h0m0 0h0m1 0h0m1 0h0m0 0h0m0 0h0m0 0h0m0 0h0m1 0h0m0 0h0m1 0h0m1 0h0m1 0h0m1 0h0m0 0h0m0 0h0m0 0h0m1 0h0m0 0h0m0 0h0m0 0h0m1 0h0m0 0h0m0 0h0m1 0h0m0 0h0m1 0h0m0 0h0m0 0h0m1 0h0m0 0h0m0 0h0m1 0h0m1 0h0m2 0h0m0 0h0m2 0h0m1 0h0m4 0h0m0 0h0m2 0h0m2 0h0m1 0h0m0 0h0m0 0h0m1 0h0m0 0h0m0 0h0m1 0h0m1 0h0m2 0h0m2 0h0m0 0h0m2 0h0m0 0h0m1 0h0m1 0h0m0 0h0m0 0h0m5 0h0m1 0h0m0 0h0m0 0h0m14 0h0m2 0h0m2 0h0m23 0h0m-156 1h0m0 0h0m0 0h0m0 0h0m0 0h0m0 0h0m0 0h0m0 0h0m0 0h0m0 0h0m0 0h0m0 0h0m0 0h0m1 0h0m0 0h0m2 0h0m0 0h0m0 0h0m0 0h0m1 0h0m0 0h0m1 0h0m1 0h0m0 0h0m0 0h0m0 0h0m1 0h0m0 0h0m1 0h0m0 0h0m1 0h0m0 0h0m1 0h0m0 0h0m1 0h0m0 0h0m1 0h0m1 0h0m0 0h0m0 0h0m0 0h0m1 0h0m0 0h0m0 0h0m1 0h0m0 0h0m0 0h0m0 0h0m1 0h0m0 0h0m0 0h0m0 0h0m0 0h0m1 0h0m0 0h0m0 0h0m1 0h0m0 0h0m0 0h0m2 0h0m0 0h0m0 0h0m1 0h0m1 0h0m0 0h0m1 0h0m0 0h0m0 0h0m0 0h0m1 0h0m0 0h0m1 0h0m1 0h0m1 0h0m0 0h0m1 0h0m0 0h0m0 0h0m0 0h0m0 0h0m1 0h0m0 0h0m0 0h0m0 0h0m0 0h0m1 0h0m0 0h0m0 0h0m1 0h0m0 0h0m0 0h0m0 0h0m1 0h0m0 0h0m0 0h0m1 0h0m0 0h0m1 0h0m1 0h0m1 0h0m1 0h0m1 0h0m0 0h0m0 0h0m0 0h0m1 0h0m0 0h0m0 0h0m0 0h0m0 0h0m0 0h0m1 0h0m0 0h0m1 0h0m0 0h0m0 0h0m2 0h0m0 0h0m0 0h0m1 0h0m0 0h0m0 0h0m0 0h0m1 0h0m0 0h0m0 0h0m0 0h0m0 0h0m0 0h0m1 0h0m1 0h0m0 0h0m1 0h0m0 0h0m0 0h0m1 0h0m0 0h0m0 0h0m1 0h0m0 0h0m0 0h0m1 0h0m0 0h0m0 0h0m0 0h0m0 0h0m4 0h0m0 0h0m1 0h0m0 0h0m0 0h0m1 0h0m0 0h0m0 0h0m1 0h0m0 0h0m0 0h0m0 0h0m0 0h0m1 0h0m0 0h0m0 0h0m0 0h0m0 0h0m1 0h0m1 0h0m0 0h0m0 0h0m0 0h0m0 0h0m0 0h0m1 0h0m0 0h0m0 0h0m0 0h0m1 0h0m0 0h0m0 0h0m1 0h0m0 0h0m0 0h0m0 0h0m1 0h0m0 0h0m0 0h0m0 0h0m1 0h0m0 0h0m0 0h0m1 0h0m0 0h0m0 0h0m1 0h0m0 0h0m0 0h0m0 0h0m1 0h0m1 0h0m0 0h0m0 0h0m0 0h0m1 0h0m1 0h0m2 0h0m0 0h0m1 0h0m3 0h0m0 0h0m0 0h0m0 0h0m1 0h0m1 0h0m0 0h0m1 0h0m0 0h0m1 0h0m1 0h0m2 0h0m0 0h0m0 0h0m2 0h0m0 0h0m0 0h0m1 0h0m1 0h0m1 0h0m1 0h0m0 0h0m0 0h0m1 0h0m1 0h0m1 0h0m0 0h0m0 0h0m0 0h0m1 0h0m0 0h0m1 0h0m2 0h0m0 0h0m2 0h0m0 0h0m2 0h0m2 0h0m1 0h0m0 0h0m2 0h0m0 0h0m8 0h0m1 0h0m1 0h0m3 0h0m4 0h0m4 0h0m1 0h0m1 0h0m2 0h0m18 0h0m-150 1h0m0 0h0m0 0h0m0 0h0m0 0h0m0 0h0m0 0h0m0 0h0m0 0h0m0 0h0m0 0h0m0 0h0m1 0h0m0 0h0m1 0h0m0 0h0m0 0h0m0 0h0m0 0h0m0 0h0m1 0h0m0 0h0m1 0h0m0 0h0m0 0h0m0 0h0m2 0h0m1 0h0m2 0h0m1 0h0m0 0h0m0 0h0m0 0h0m0 0h0m1 0h0m0 0h0m0 0h0m2 0h0m1 0h0m0 0h0m1 0h0m0 0h0m1 0h0m0 0h0m0 0h0m0 0h0m1 0h0m0 0h0m1 0h0m1 0h0m0 0h0m0 0h0m0 0h0m1 0h0m0 0h0m0 0h0m0 0h0m1 0h0m0 0h0m0 0h0m0 0h0m0 0h0m1 0h0m0 0h0m1 0h0m0 0h0m1 0h0m1 0h0m0 0h0m0 0h0m0 0h0m1 0h0m0 0h0m1 0h0m1 0h0m0 0h0m0 0h0m0 0h0m1 0h0m0 0h0m0 0h0m1 0h0m1 0h0m0 0h0m1 0h0m0 0h0m1 0h0m0 0h0m0 0h0m0 0h0m0 0h0m1 0h0m0 0h0m1 0h0m0 0h0m0 0h0m1 0h0m0 0h0m0 0h0m1 0h0m0 0h0m0 0h0m1 0h0m0 0h0m0 0h0m0 0h0m1 0h0m0 0h0m0 0h0m0 0h0m1 0h0m1 0h0m0 0h0m0 0h0m0 0h0m1 0h0m1 0h0m1 0h0m1 0h0m0 0h0m0 0h0m0 0h0m1 0h0m0 0h0m1 0h0m1 0h0m0 0h0m1 0h0m0 0h0m0 0h0m0 0h0m0 0h0m2 0h0m1 0h0m0 0h0m0 0h0m0 0h0m1 0h0m1 0h0m0 0h0m1 0h0m0 0h0m0 0h0m0 0h0m0 0h0m1 0h0m0 0h0m0 0h0m0 0h0m0 0h0m1 0h0m0 0h0m1 0h0m0 0h0m1 0h0m0 0h0m0 0h0m0 0h0m0 0h0m0 0h0m1 0h0m0 0h0m0 0h0m0 0h0m0 0h0m1 0h0m1 0h0m0 0h0m0 0h0m1 0h0m1 0h0m0 0h0m1 0h0m0 0h0m1 0h0m1 0h0m0 0h0m0 0h0m1 0h0m0 0h0m1 0h0m0 0h0m1 0h0m0 0h0m1 0h0m0 0h0m0 0h0m0 0h0m1 0h0m0 0h0m0 0h0m1 0h0m1 0h0m0 0h0m0 0h0m0 0h0m1 0h0m0 0h0m0 0h0m2 0h0m0 0h0m1 0h0m0 0h0m1 0h0m0 0h0m1 0h0m0 0h0m1 0h0m1 0h0m1 0h0m0 0h0m3 0h0m2 0h0m0 0h0m0 0h0m2 0h0m1 0h0m1 0h0m0 0h0m1 0h0m0 0h0m1 0h0m7 0h0m1 0h0m0 0h0m6 0h0m0 0h0m0 0h0m1 0h0m1 0h0m1 0h0m5 0h0m5 0h0m2 0h0m1 0h0m5 0h0m2 0h0m2 0h0m3 0h0m0 0h0m0 0h0m20 0h0m-101 1h0m1 0h0m1 0h0m2 0h0m0 0h0m1 0h0m1 0h0m0 0h0m1 0h0m0 0h0m0 0h0m0 0h0m0 0h0m1 0h0m1 0h0m0 0h0m0 0h0m2 0h0m0 0h0m1 0h0m0 0h0m0 0h0m1 0h0m1 0h0m2 0h0m1 0h0m0 0h0m0 0h0m2 0h0m0 0h0m1 0h0m1 0h0m2 0h0m0 0h0m0 0h0m1 0h0m0 0h0m1 0h0m2 0h0m1 0h0m3 0h0m1 0h0m0 0h0m1 0h0m2 0h0m1 0h0m2 0h0m0 0h0m0 0h0m5 0h0m11 0h0m7 0h0m-60 1h0m1 0h0m0 0h0m0 0h0m1 0h0m0 0h0m0 0h0m1 0h0m0 0h0m0 0h0m1 0h0m0 0h0m0 0h0m0 0h0m1 0h0m1 0h0m0 0h0m2 0h0m0 0h0m1 0h0m0 0h0m1 0h0m0 0h0m0 0h0m1 0h0m0 0h0m1 0h0m0 0h0m1 0h0m0 0h0m1 0h0m0 0h0m1 0h0m0 0h0m2 0h0m0 0h0m1 0h0m1 0h0m0 0h0m2 0h0m1 0h0m0 0h0m2 0h0m0 0h0m1 0h0m1 0h0m2 0h0m0 0h0m2 0h0m1 0h0m1 0h0m1 0h0m3 0h0m1 0h0m2 0h0m1 0h0m1 0h0m1 0h0m3 0h0m5 0h0m7 0h0m3 0h0m0 0h0m14 0h0m-75 1h0m0 0h0m1 0h0m0 0h0m1 0h0m0 0h0m2 0h0m0 0h0m1 0h0m0 0h0m1 0h0m1 0h0m2 0h0m1 0h0m0 0h0m2 0h0m1 0h0m0 0h0m1 0h0m0 0h0m0 0h0m0 0h0m1 0h0m0 0h0m0 0h0m1 0h0m2 0h0m0 0h0m1 0h0m0 0h0m1 0h0m1 0h0m0 0h0m2 0h0m1 0h0m2 0h0m5 0h0m1 0h0m1 0h0m5 0h0m6 0h0m4 0h0m3 0h0m11 0h0m5 0h0m1 0h0m-67 1h0m0 0h0m1 0h0m0 0h0m1 0h0m0 0h0m0 0h0m0 0h0m1 0h0m1 0h0m1 0h0m1 0h0m0 0h0m1 0h0m1 0h0m0 0h0m0 0h0m1 0h0m1 0h0m0 0h0m1 0h0m1 0h0m1 0h0m5 0h0m2 0h0m0 0h0m1 0h0m0 0h0m2 0h0m0 0h0m0 0h0m3 0h0m0 0h0m1 0h0m3 0h0m1 0h0m2 0h0m0 0h0m5 0h0m0 0h0m4 0h0m0 0h0m8 0h0m16 0h0m6 0h0m-73 1h0m3 0h0m1 0h0m0 0h0m1 0h0m1 0h0m0 0h0m0 0h0m0 0h0m3 0h0m1 0h0m0 0h0m2 0h0m0 0h0m1 0h0m1 0h0m1 0h0m1 0h0m0 0h0m1 0h0m1 0h0m0 0h0m0 0h0m0 0h0m0 0h0m2 0h0m1 0h0m0 0h0m1 0h0m1 0h0m4 0h0m0 0h0m4 0h0m2 0h0m0 0h0m3 0h0m7 0h0m2 0h0m1 0h0m2 0h0m12 0h0m5 0h0m1 0h0m-66 1h0m1 0h0m2 0h0m0 0h0m1 0h0m0 0h0m0 0h0m1 0h0m0 0h0m2 0h0m0 0h0m1 0h0m1 0h0m0 0h0m0 0h0m1 0h0m0 0h0m0 0h0m1 0h0m0 0h0m0 0h0m1 0h0m1 0h0m0 0h0m3 0h0m1 0h0m0 0h0m2 0h0m1 0h0m2 0h0m1 0h0m1 0h0m1 0h0m7 0h0m0 0h0m1 0h0m1 0h0m1 0h0m0 0h0m1 0h0m0 0h0m1 0h0m5 0h0m3 0h0m0 0h0m1 0h0m0 0h0m4 0h0m2 0h0m1 0h0m1 0h0m8 0h0m5 0h0m2 0h0m8 0h0m-77 1h0m1 0h0m0 0h0m0 0h0m1 0h0m0 0h0m1 0h0m1 0h0m0 0h0m0 0h0m0 0h0m1 0h0m1 0h0m0 0h0m0 0h0m1 0h0m0 0h0m1 0h0m1 0h0m1 0h0m0 0h0m1 0h0m0 0h0m0 0h0m1 0h0m0 0h0m2 0h0m0 0h0m1 0h0m1 0h0m2 0h0m0 0h0m1 0h0m1 0h0m1 0h0m2 0h0m0 0h0m2 0h0m3 0h0m1 0h0m1 0h0m2 0h0m0 0h0m1 0h0m1 0h0m5 0h0m0 0h0m16 0h0m2 0h0m0 0h0m1 0h0m3 0h0m5 0h0m-66 1h0m1 0h0m1 0h0m0 0h0m1 0h0m1 0h0m1 0h0m0 0h0m2 0h0m0 0h0m1 0h0m0 0h0m1 0h0m4 0h0m1 0h0m1 0h0m1 0h0m3 0h0m4 0h0m1 0h0m1 0h0m3 0h0m3 0h0m0 0h0m16 0h0m3 0h0m1 0h0m1 0h0m2 0h0m7 0h0m-61 1h0m1 0h0m0 0h0m0 0h0m0 0h0m1 0h0m1 0h0m0 0h0m0 0h0m1 0h0m0 0h0m1 0h0m0 0h0m0 0h0m2 0h0m1 0h0m0 0h0m1 0h0m2 0h0m0 0h0m0 0h0m1 0h0m1 0h0m0 0h0m0 0h0m1 0h0m1 0h0m0 0h0m1 0h0m1 0h0m1 0h0m0 0h0m2 0h0m0 0h0m0 0h0m4 0h0m1 0h0m0 0h0m1 0h0m1 0h0m3 0h0m1 0h0m0 0h0m1 0h0m5 0h0m0 0h0m2 0h0m3 0h0m2 0h0m3 0h0m2 0h0m22 0h0m9 0h0m2 0h0m5 0h0m19 0h0m3 0h0m-109 1h0m0 0h0m1 0h0m0 0h0m0 0h0m1 0h0m0 0h0m0 0h0m0 0h0m0 0h0m2 0h0m0 0h0m0 0h0m1 0h0m1 0h0m1 0h0m0 0h0m1 0h0m1 0h0m0 0h0m0 0h0m0 0h0m0 0h0m3 0h0m0 0h0m1 0h0m1 0h0m0 0h0m0 0h0m1 0h0m0 0h0m0 0h0m1 0h0m1 0h0m0 0h0m0 0h0m2 0h0m3 0h0m1 0h0m0 0h0m0 0h0m1 0h0m2 0h0m1 0h0m0 0h0m5 0h0m1 0h0m2 0h0m1 0h0m2 0h0m1 0h0m1 0h0m7 0h0m0 0h0m2 0h0m2 0h0m7 0h0m5 0h0m10 0h0m-73 1h0m0 0h0m1 0h0m2 0h0m1 0h0m0 0h0m0 0h0m1 0h0m0 0h0m1 0h0m0 0h0m0 0h0m0 0h0m1 0h0m2 0h0m1 0h0m1 0h0m0 0h0m1 0h0m0 0h0m0 0h0m1 0h0m1 0h0m1 0h0m3 0h0m1 0h0m2 0h0m5 0h0m3 0h0m0 0h0m2 0h0m3 0h0m0 0h0m1 0h0m5 0h0m4 0h0m1 0h0m0 0h0m2 0h0m4 0h0m4 0h0m34 0h0m8 0h0m-97 1h0m1 0h0m0 0h0m0 0h0m1 0h0m0 0h0m0 0h0m1 0h0m0 0h0m2 0h0m1 0h0m2 0h0m0 0h0m0 0h0m1 0h0m0 0h0m1 0h0m0 0h0m1 0h0m0 0h0m0 0h0m1 0h0m0 0h0m2 0h0m1 0h0m0 0h0m1 0h0m1 0h0m0 0h0m5 0h0m0 0h0m3 0h0m0 0h0m2 0h0m0 0h0m1 0h0m0 0h0m0 0h0m2 0h0m1 0h0m0 0h0m3 0h0m2 0h0m4 0h0m2 0h0m3 0h0m3 0h0m1 0h0m3 0h0m3 0h0m0 0h0m0 0h0m1 0h0m8 0h0m2 0h0m18 0h0m-84 1h0m0 0h0m1 0h0m0 0h0m1 0h0m0 0h0m0 0h0m0 0h0m0 0h0m0 0h0m1 0h0m0 0h0m0 0h0m0 0h0m0 0h0m0 0h0m1 0h0m0 0h0m0 0h0m0 0h0m1 0h0m0 0h0m1 0h0m1 0h0m0 0h0m1 0h0m0 0h0m0 0h0m0 0h0m1 0h0m4 0h0m1 0h0m0 0h0m2 0h0m0 0h0m2 0h0m1 0h0m3 0h0m0 0h0m1 0h0m1 0h0m1 0h0m0 0h0m3 0h0m0 0h0m1 0h0m0 0h0m0 0h0m1 0h0m3 0h0m0 0h0m1 0h0m0 0h0m1 0h0m6 0h0m1 0h0m0 0h0m1 0h0m8 0h0m7 0h0m0 0h0m46 0h0m-104 1h0m1 0h0m0 0h0m0 0h0m1 0h0m0 0h0m0 0h0m1 0h0m0 0h0m0 0h0m0 0h0m0 0h0m1 0h0m1 0h0m0 0h0m1 0h0m1 0h0m0 0h0m0 0h0m1 0h0m0 0h0m1 0h0m1 0h0m1 0h0m0 0h0m1 0h0m0 0h0m1 0h0m0 0h0m1 0h0m0 0h0m1 0h0m1 0h0m0 0h0m1 0h0m1 0h0m0 0h0m1 0h0m2 0h0m1 0h0m2 0h0m0 0h0m0 0h0m2 0h0m0 0h0m0 0h0m1 0h0m0 0h0m0 0h0m1 0h0m1 0h0m0 0h0m2 0h0m1 0h0m2 0h0m5 0h0m1 0h0m1 0h0m3 0h0m0 0h0m10 0h0m11 0h0m-65 1h0m0 0h0m0 0h0m1 0h0m1 0h0m0 0h0m1 0h0m0 0h0m0 0h0m1 0h0m0 0h0m1 0h0m1 0h0m1 0h0m0 0h0m0 0h0m2 0h0m0 0h0m0 0h0m1 0h0m0 0h0m0 0h0m1 0h0m0 0h0m0 0h0m1 0h0m1 0h0m0 0h0m0 0h0m1 0h0m0 0h0m0 0h0m3 0h0m0 0h0m3 0h0m1 0h0m2 0h0m5 0h0m4 0h0m1 0h0m4 0h0m1 0h0m9 0h0m1 0h0m1 0h0m8 0h0m9 0h0m0 0h0m10 0h0m3 0h0m5 0h0m-84 1h0m1 0h0m1 0h0m1 0h0m0 0h0m2 0h0m0 0h0m0 0h0m1 0h0m0 0h0m2 0h0m1 0h0m0 0h0m0 0h0m2 0h0m0 0h0m1 0h0m1 0h0m1 0h0m1 0h0m0 0h0m1 0h0m1 0h0m0 0h0m0 0h0m1 0h0m0 0h0m1 0h0m1 0h0m0 0h0m1 0h0m0 0h0m0 0h0m1 0h0m1 0h0m2 0h0m2 0h0m4 0h0m1 0h0m1 0h0m1 0h0m2 0h0m0 0h0m1 0h0m3 0h0m7 0h0m3 0h0m5 0h0m4 0h0m11 0h0m2 0h0m-72 1h0m1 0h0m1 0h0m0 0h0m0 0h0m1 0h0m0 0h0m1 0h0m0 0h0m0 0h0m0 0h0m0 0h0m0 0h0m1 0h0m0 0h0m0 0h0m1 0h0m0 0h0m0 0h0m0 0h0m1 0h0m0 0h0m1 0h0m0 0h0m0 0h0m0 0h0m0 0h0m2 0h0m0 0h0m0 0h0m0 0h0m1 0h0m0 0h0m4 0h0m0 0h0m0 0h0m0 0h0m1 0h0m1 0h0m1 0h0m0 0h0m1 0h0m0 0h0m1 0h0m3 0h0m1 0h0m2 0h0m1 0h0m0 0h0m1 0h0m1 0h0m0 0h0m1 0h0m1 0h0m2 0h0m1 0h0m4 0h0m3 0h0m5 0h0m7 0h0m0 0h0m5 0h0m1 0h0m5 0h0m7 0h0m2 0h0m11 0h0m-83 1h0m1 0h0m1 0h0m1 0h0m0 0h0m0 0h0m1 0h0m0 0h0m1 0h0m0 0h0m0 0h0m0 0h0m0 0h0m1 0h0m0 0h0m1 0h0m0 0h0m0 0h0m0 0h0m0 0h0m0 0h0m1 0h0m0 0h0m0 0h0m0 0h0m2 0h0m1 0h0m1 0h0m1 0h0m0 0h0m1 0h0m0 0h0m1 0h0m0 0h0m0 0h0m0 0h0m0 0h0m2 0h0m0 0h0m1 0h0m0 0h0m2 0h0m2 0h0m0 0h0m0 0h0m3 0h0m0 0h0m2 0h0m0 0h0m5 0h0m3 0h0m1 0h0m3 0h0m4 0h0m5 0h0m2 0h0m30 0h0m10 0h0m-91 1h0m0 0h0m2 0h0m0 0h0m0 0h0m0 0h0m1 0h0m0 0h0m0 0h0m1 0h0m0 0h0m0 0h0m1 0h0m2 0h0m1 0h0m1 0h0m0 0h0m2 0h0m1 0h0m0 0h0m0 0h0m1 0h0m1 0h0m1 0h0m0 0h0m1 0h0m0 0h0m0 0h0m1 0h0m0 0h0m1 0h0m1 0h0m2 0h0m1 0h0m2 0h0m1 0h0m0 0h0m2 0h0m0 0h0m1 0h0m1 0h0m0 0h0m3 0h0m0 0h0m1 0h0m1 0h0m0 0h0m4 0h0m1 0h0m2 0h0m3 0h0m4 0h0m0 0h0m4 0h0m7 0h0m5 0h0m0 0h0m5 0h0m19 0h0m-87 1h0m0 0h0m0 0h0m0 0h0m0 0h0m1 0h0m2 0h0m1 0h0m0 0h0m0 0h0m0 0h0m2 0h0m3 0h0m0 0h0m0 0h0m0 0h0m1 0h0m1 0h0m1 0h0m1 0h0m0 0h0m3 0h0m4 0h0m1 0h0m0 0h0m0 0h0m3 0h0m0 0h0m4 0h0m2 0h0m2 0h0m5 0h0m1 0h0m0 0h0m2 0h0m2 0h0m5 0h0m6 0h0m0 0h0m3 0h0m5 0h0m5 0h0m5 0h0m13 0h0m7 0h0m12 0h0m2 0h0m-106 1h0m1 0h0m0 0h0m0 0h0m0 0h0m1 0h0m0 0h0m0 0h0m1 0h0m0 0h0m0 0h0m1 0h0m3 0h0m0 0h0m1 0h0m0 0h0m0 0h0m0 0h0m0 0h0m1 0h0m1 0h0m1 0h0m0 0h0m0 0h0m1 0h0m2 0h0m0 0h0m1 0h0m0 0h0m1 0h0m0 0h0m2 0h0m1 0h0m3 0h0m0 0h0m6 0h0m3 0h0m1 0h0m3 0h0m1 0h0m2 0h0m3 0h0m1 0h0m1 0h0m1 0h0m2 0h0m0 0h0m1 0h0m0 0h0m9 0h0m5 0h0m0 0h0m3 0h0m0 0h0m2 0h0m1 0h0m9 0h0m2 0h0m1 0h0m7 0h0m15 0h0m-101 1h0m0 0h0m1 0h0m0 0h0m0 0h0m0 0h0m2 0h0m1 0h0m0 0h0m0 0h0m1 0h0m0 0h0m1 0h0m1 0h0m0 0h0m2 0h0m2 0h0m0 0h0m1 0h0m0 0h0m1 0h0m1 0h0m0 0h0m0 0h0m3 0h0m1 0h0m3 0h0m1 0h0m0 0h0m3 0h0m0 0h0m0 0h0m1 0h0m2 0h0m1 0h0m2 0h0m4 0h0m1 0h0m3 0h0m0 0h0m0 0h0m4 0h0m2 0h0m1 0h0m4 0h0m2 0h0m0 0h0m11 0h0m1 0h0m12 0h0m5 0h0m12 0h0m-92 1h0m0 0h0m1 0h0m1 0h0m0 0h0m1 0h0m0 0h0m1 0h0m0 0h0m2 0h0m2 0h0m0 0h0m1 0h0m0 0h0m0 0h0m0 0h0m1 0h0m0 0h0m0 0h0m1 0h0m0 0h0m0 0h0m1 0h0m0 0h0m0 0h0m0 0h0m1 0h0m1 0h0m0 0h0m0 0h0m1 0h0m1 0h0m0 0h0m0 0h0m1 0h0m0 0h0m0 0h0m0 0h0m1 0h0m0 0h0m0 0h0m1 0h0m1 0h0m1 0h0m0 0h0m0 0h0m1 0h0m2 0h0m1 0h0m1 0h0m1 0h0m2 0h0m1 0h0m1 0h0m1 0h0m1 0h0m2 0h0m2 0h0m2 0h0m5 0h0m0 0h0m1 0h0m6 0h0m41 0h0m-92 1h0m0 0h0m0 0h0m0 0h0m0 0h0m0 0h0m1 0h0m0 0h0m1 0h0m0 0h0m2 0h0m1 0h0m0 0h0m3 0h0m0 0h0m0 0h0m0 0h0m1 0h0m1 0h0m0 0h0m1 0h0m1 0h0m0 0h0m1 0h0m2 0h0m2 0h0m0 0h0m0 0h0m0 0h0m2 0h0m1 0h0m0 0h0m1 0h0m1 0h0m1 0h0m0 0h0m2 0h0m1 0h0m0 0h0m1 0h0m2 0h0m1 0h0m1 0h0m1 0h0m2 0h0m0 0h0m7 0h0m4 0h0m0 0h0m0 0h0m1 0h0m1 0h0m0 0h0m4 0h0m5 0h0m4 0h0m3 0h0m10 0h0m3 0h0m0 0h0m9 0h0m0 0h0m-86 1h0m1 0h0m0 0h0m0 0h0m1 0h0m0 0h0m0 0h0m1 0h0m0 0h0m0 0h0m0 0h0m1 0h0m0 0h0m1 0h0m0 0h0m0 0h0m1 0h0m0 0h0m1 0h0m0 0h0m0 0h0m0 0h0m1 0h0m1 0h0m1 0h0m0 0h0m0 0h0m2 0h0m1 0h0m0 0h0m1 0h0m0 0h0m1 0h0m0 0h0m1 0h0m1 0h0m1 0h0m0 0h0m0 0h0m1 0h0m1 0h0m0 0h0m0 0h0m2 0h0m0 0h0m2 0h0m0 0h0m0 0h0m1 0h0m0 0h0m0 0h0m1 0h0m0 0h0m2 0h0m2 0h0m1 0h0m1 0h0m0 0h0m1 0h0m4 0h0m1 0h0m5 0h0m0 0h0m2 0h0m6 0h0m3 0h0m13 0h0m9 0h0m16 0h0m16 0h0m-108 1h0m0 0h0m1 0h0m0 0h0m0 0h0m1 0h0m0 0h0m2 0h0m0 0h0m0 0h0m1 0h0m1 0h0m0 0h0m1 0h0m1 0h0m0 0h0m0 0h0m0 0h0m1 0h0m1 0h0m0 0h0m0 0h0m0 0h0m0 0h0m2 0h0m0 0h0m1 0h0m0 0h0m0 0h0m0 0h0m2 0h0m0 0h0m0 0h0m0 0h0m1 0h0m0 0h0m0 0h0m1 0h0m1 0h0m0 0h0m1 0h0m0 0h0m1 0h0m0 0h0m4 0h0m6 0h0m3 0h0m1 0h0m1 0h0m0 0h0m0 0h0m1 0h0m2 0h0m0 0h0m0 0h0m0 0h0m4 0h0m2 0h0m0 0h0m3 0h0m6 0h0m4 0h0m4 0h0m16 0h0m10 0h0m33 0h0m-120 1h0m0 0h0m2 0h0m0 0h0m0 0h0m0 0h0m0 0h0m0 0h0m1 0h0m0 0h0m0 0h0m1 0h0m1 0h0m0 0h0m1 0h0m0 0h0m0 0h0m1 0h0m0 0h0m1 0h0m1 0h0m1 0h0m0 0h0m0 0h0m1 0h0m2 0h0m0 0h0m0 0h0m0 0h0m0 0h0m0 0h0m1 0h0m0 0h0m1 0h0m1 0h0m1 0h0m2 0h0m1 0h0m0 0h0m1 0h0m2 0h0m0 0h0m0 0h0m1 0h0m0 0h0m0 0h0m1 0h0m0 0h0m0 0h0m0 0h0m0 0h0m0 0h0m0 0h0m1 0h0m2 0h0m0 0h0m2 0h0m0 0h0m2 0h0m2 0h0m0 0h0m1 0h0m3 0h0m0 0h0m0 0h0m2 0h0m2 0h0m2 0h0m3 0h0m4 0h0m4 0h0m1 0h0m3 0h0m14 0h0m-73 1h0m0 0h0m0 0h0m0 0h0m1 0h0m0 0h0m0 0h0m0 0h0m0 0h0m0 0h0m1 0h0m0 0h0m1 0h0m0 0h0m1 0h0m0 0h0m0 0h0m0 0h0m0 0h0m1 0h0m0 0h0m0 0h0m0 0h0m0 0h0m0 0h0m1 0h0m1 0h0m0 0h0m1 0h0m1 0h0m0 0h0m0 0h0m0 0h0m0 0h0m1 0h0m1 0h0m1 0h0m0 0h0m0 0h0m0 0h0m1 0h0m0 0h0m0 0h0m1 0h0m0 0h0m0 0h0m0 0h0m1 0h0m0 0h0m0 0h0m1 0h0m1 0h0m1 0h0m0 0h0m1 0h0m1 0h0m1 0h0m1 0h0m0 0h0m0 0h0m1 0h0m2 0h0m1 0h0m2 0h0m3 0h0m0 0h0m1 0h0m2 0h0m1 0h0m1 0h0m1 0h0m0 0h0m1 0h0m0 0h0m3 0h0m2 0h0m5 0h0m3 0h0m5 0h0m10 0h0m1 0h0m13 0h0m-80 1h0m0 0h0m0 0h0m0 0h0m0 0h0m0 0h0m1 0h0m0 0h0m0 0h0m1 0h0m0 0h0m0 0h0m0 0h0m1 0h0m0 0h0m1 0h0m0 0h0m0 0h0m0 0h0m0 0h0m1 0h0m2 0h0m1 0h0m1 0h0m0 0h0m0 0h0m1 0h0m0 0h0m0 0h0m1 0h0m0 0h0m0 0h0m2 0h0m0 0h0m1 0h0m0 0h0m2 0h0m0 0h0m0 0h0m2 0h0m0 0h0m1 0h0m0 0h0m2 0h0m0 0h0m1 0h0m1 0h0m0 0h0m2 0h0m3 0h0m0 0h0m1 0h0m1 0h0m1 0h0m0 0h0m1 0h0m1 0h0m3 0h0m1 0h0m1 0h0m1 0h0m2 0h0m4 0h0m4 0h0m2 0h0m6 0h0m0 0h0m6 0h0m1 0h0m12 0h0m2 0h0m15 0h0m0 0h0m35 0h0m-128 1h0m0 0h0m0 0h0m1 0h0m0 0h0m1 0h0m1 0h0m0 0h0m0 0h0m1 0h0m0 0h0m2 0h0m0 0h0m0 0h0m1 0h0m0 0h0m1 0h0m0 0h0m2 0h0m0 0h0m0 0h0m0 0h0m3 0h0m0 0h0m1 0h0m1 0h0m0 0h0m1 0h0m1 0h0m1 0h0m1 0h0m1 0h0m0 0h0m0 0h0m0 0h0m1 0h0m0 0h0m1 0h0m1 0h0m0 0h0m1 0h0m1 0h0m0 0h0m0 0h0m1 0h0m0 0h0m1 0h0m0 0h0m2 0h0m3 0h0m1 0h0m0 0h0m1 0h0m0 0h0m7 0h0m1 0h0m1 0h0m0 0h0m1 0h0m1 0h0m3 0h0m2 0h0m6 0h0m5 0h0m2 0h0m8 0h0m7 0h0m18 0h0m-96 1h0m0 0h0m1 0h0m0 0h0m0 0h0m1 0h0m0 0h0m0 0h0m1 0h0m1 0h0m0 0h0m1 0h0m0 0h0m0 0h0m0 0h0m1 0h0m0 0h0m0 0h0m0 0h0m1 0h0m0 0h0m1 0h0m0 0h0m0 0h0m1 0h0m1 0h0m2 0h0m0 0h0m1 0h0m0 0h0m0 0h0m1 0h0m1 0h0m1 0h0m1 0h0m2 0h0m0 0h0m1 0h0m0 0h0m0 0h0m1 0h0m1 0h0m0 0h0m0 0h0m0 0h0m1 0h0m2 0h0m2 0h0m2 0h0m0 0h0m1 0h0m1 0h0m0 0h0m0 0h0m1 0h0m1 0h0m0 0h0m2 0h0m2 0h0m2 0h0m0 0h0m2 0h0m3 0h0m1 0h0m1 0h0m0 0h0m1 0h0m2 0h0m4 0h0m0 0h0m3 0h0m1 0h0m3 0h0m2 0h0m31 0h0m-93 1h0m1 0h0m0 0h0m1 0h0m1 0h0m0 0h0m1 0h0m0 0h0m0 0h0m0 0h0m1 0h0m0 0h0m1 0h0m0 0h0m1 0h0m1 0h0m0 0h0m0 0h0m1 0h0m2 0h0m0 0h0m1 0h0m0 0h0m0 0h0m0 0h0m1 0h0m2 0h0m0 0h0m0 0h0m4 0h0m1 0h0m0 0h0m1 0h0m0 0h0m1 0h0m0 0h0m1 0h0m1 0h0m0 0h0m1 0h0m0 0h0m1 0h0m1 0h0m2 0h0m0 0h0m2 0h0m0 0h0m1 0h0m0 0h0m1 0h0m1 0h0m5 0h0m2 0h0m5 0h0m0 0h0m1 0h0m1 0h0m7 0h0m1 0h0m0 0h0m2 0h0m5 0h0m3 0h0m1 0h0m6 0h0m18 0h0m-91 1h0m0 0h0m0 0h0m1 0h0m0 0h0m1 0h0m0 0h0m1 0h0m0 0h0m0 0h0m0 0h0m0 0h0m1 0h0m0 0h0m1 0h0m3 0h0m1 0h0m0 0h0m1 0h0m0 0h0m1 0h0m2 0h0m0 0h0m0 0h0m0 0h0m0 0h0m1 0h0m1 0h0m5 0h0m3 0h0m0 0h0m2 0h0m0 0h0m1 0h0m1 0h0m1 0h0m0 0h0m0 0h0m3 0h0m1 0h0m2 0h0m1 0h0m4 0h0m2 0h0m1 0h0m0 0h0m4 0h0m4 0h0m7 0h0m2 0h0m4 0h0m0 0h0m4 0h0m8 0h0m2 0h0m17 0h0m-94 1h0m1 0h0m0 0h0m0 0h0m1 0h0m0 0h0m1 0h0m0 0h0m0 0h0m0 0h0m1 0h0m0 0h0m1 0h0m0 0h0m2 0h0m0 0h0m0 0h0m1 0h0m1 0h0m0 0h0m0 0h0m0 0h0m0 0h0m0 0h0m1 0h0m0 0h0m0 0h0m0 0h0m2 0h0m0 0h0m1 0h0m0 0h0m0 0h0m3 0h0m0 0h0m1 0h0m0 0h0m0 0h0m1 0h0m0 0h0m0 0h0m0 0h0m0 0h0m2 0h0m2 0h0m5 0h0m3 0h0m0 0h0m2 0h0m1 0h0m1 0h0m3 0h0m0 0h0m3 0h0m1 0h0m1 0h0m0 0h0m5 0h0m1 0h0m9 0h0m1 0h0m0 0h0m23 0h0m-81 1h0m0 0h0m1 0h0m0 0h0m2 0h0m1 0h0m0 0h0m0 0h0m0 0h0m0 0h0m1 0h0m0 0h0m0 0h0m1 0h0m1 0h0m1 0h0m1 0h0m1 0h0m0 0h0m1 0h0m0 0h0m0 0h0m0 0h0m1 0h0m1 0h0m1 0h0m0 0h0m0 0h0m0 0h0m1 0h0m1 0h0m0 0h0m1 0h0m1 0h0m1 0h0m0 0h0m0 0h0m1 0h0m0 0h0m1 0h0m0 0h0m0 0h0m1 0h0m1 0h0m0 0h0m1 0h0m0 0h0m1 0h0m1 0h0m2 0h0m1 0h0m1 0h0m0 0h0m2 0h0m2 0h0m0 0h0m5 0h0m5 0h0m1 0h0m1 0h0m4 0h0m8 0h0m1 0h0m13 0h0m2 0h0m4 0h0m28 0h0m-106 1h0m0 0h0m1 0h0m0 0h0m0 0h0m1 0h0m0 0h0m1 0h0m1 0h0m1 0h0m1 0h0m0 0h0m2 0h0m0 0h0m0 0h0m1 0h0m1 0h0m0 0h0m0 0h0m1 0h0m0 0h0m0 0h0m1 0h0m0 0h0m0 0h0m0 0h0m1 0h0m1 0h0m0 0h0m1 0h0m1 0h0m2 0h0m0 0h0m0 0h0m2 0h0m1 0h0m0 0h0m0 0h0m0 0h0m0 0h0m0 0h0m1 0h0m1 0h0m0 0h0m1 0h0m5 0h0m1 0h0m6 0h0m1 0h0m0 0h0m0 0h0m1 0h0m1 0h0m0 0h0m2 0h0m2 0h0m0 0h0m1 0h0m1 0h0m1 0h0m3 0h0m0 0h0m2 0h0m6 0h0m10 0h0m0 0h0m4 0h0m8 0h0m-79 1h0m0 0h0m0 0h0m0 0h0m1 0h0m0 0h0m0 0h0m0 0h0m0 0h0m1 0h0m0 0h0m1 0h0m0 0h0m1 0h0m0 0h0m1 0h0m1 0h0m1 0h0m0 0h0m1 0h0m0 0h0m2 0h0m0 0h0m1 0h0m0 0h0m3 0h0m1 0h0m0 0h0m1 0h0m1 0h0m1 0h0m2 0h0m1 0h0m1 0h0m0 0h0m1 0h0m0 0h0m1 0h0m0 0h0m0 0h0m2 0h0m0 0h0m0 0h0m1 0h0m2 0h0m0 0h0m1 0h0m0 0h0m0 0h0m1 0h0m1 0h0m0 0h0m2 0h0m2 0h0m0 0h0m2 0h0m1 0h0m2 0h0m1 0h0m2 0h0m0 0h0m2 0h0m2 0h0m4 0h0m6 0h0m11 0h0m0 0h0m5 0h0m3 0h0m-77 1h0m1 0h0m0 0h0m0 0h0m0 0h0m0 0h0m0 0h0m1 0h0m0 0h0m1 0h0m0 0h0m0 0h0m0 0h0m0 0h0m1 0h0m0 0h0m0 0h0m0 0h0m1 0h0m0 0h0m0 0h0m1 0h0m0 0h0m1 0h0m0 0h0m0 0h0m2 0h0m0 0h0m0 0h0m0 0h0m1 0h0m0 0h0m0 0h0m0 0h0m0 0h0m1 0h0m0 0h0m0 0h0m1 0h0m0 0h0m1 0h0m1 0h0m0 0h0m1 0h0m0 0h0m1 0h0m1 0h0m0 0h0m1 0h0m4 0h0m1 0h0m0 0h0m0 0h0m1 0h0m0 0h0m2 0h0m0 0h0m0 0h0m3 0h0m0 0h0m2 0h0m1 0h0m1 0h0m2 0h0m0 0h0m0 0h0m1 0h0m1 0h0m1 0h0m0 0h0m2 0h0m2 0h0m1 0h0m2 0h0m1 0h0m0 0h0m5 0h0m0 0h0m9 0h0m10 0h0m9 0h0m-79 1h0m0 0h0m1 0h0m1 0h0m0 0h0m1 0h0m0 0h0m0 0h0m1 0h0m0 0h0m1 0h0m0 0h0m0 0h0m1 0h0m0 0h0m0 0h0m0 0h0m1 0h0m0 0h0m1 0h0m0 0h0m0 0h0m0 0h0m1 0h0m0 0h0m0 0h0m1 0h0m1 0h0m0 0h0m0 0h0m1 0h0m0 0h0m1 0h0m0 0h0m1 0h0m1 0h0m0 0h0m0 0h0m1 0h0m1 0h0m2 0h0m0 0h0m1 0h0m0 0h0m1 0h0m1 0h0m1 0h0m0 0h0m0 0h0m0 0h0m0 0h0m1 0h0m0 0h0m0 0h0m1 0h0m0 0h0m1 0h0m0 0h0m1 0h0m0 0h0m1 0h0m1 0h0m0 0h0m0 0h0m1 0h0m0 0h0m0 0h0m1 0h0m1 0h0m1 0h0m0 0h0m1 0h0m2 0h0m1 0h0m1 0h0m0 0h0m0 0h0m1 0h0m0 0h0m4 0h0m8 0h0m5 0h0m2 0h0m9 0h0m16 0h0m19 0h0m-102 1h0m0 0h0m1 0h0m0 0h0m0 0h0m1 0h0m0 0h0m0 0h0m0 0h0m0 0h0m0 0h0m0 0h0m0 0h0m1 0h0m0 0h0m1 0h0m0 0h0m0 0h0m0 0h0m2 0h0m0 0h0m0 0h0m0 0h0m0 0h0m0 0h0m1 0h0m0 0h0m1 0h0m1 0h0m0 0h0m1 0h0m1 0h0m1 0h0m0 0h0m0 0h0m0 0h0m2 0h0m1 0h0m0 0h0m1 0h0m0 0h0m0 0h0m1 0h0m1 0h0m0 0h0m0 0h0m0 0h0m1 0h0m2 0h0m1 0h0m0 0h0m0 0h0m0 0h0m2 0h0m0 0h0m2 0h0m1 0h0m1 0h0m0 0h0m1 0h0m1 0h0m1 0h0m0 0h0m1 0h0m1 0h0m1 0h0m2 0h0m1 0h0m1 0h0m1 0h0m2 0h0m0 0h0m1 0h0m0 0h0m1 0h0m0 0h0m2 0h0m3 0h0m4 0h0m0 0h0m5 0h0m6 0h0m6 0h0m1 0h0m2 0h0m3 0h0m20 0h0m4 0h0m5 0h0m9 0h0m-113 1h0m0 0h0m1 0h0m0 0h0m1 0h0m0 0h0m1 0h0m1 0h0m0 0h0m1 0h0m2 0h0m0 0h0m1 0h0m0 0h0m1 0h0m0 0h0m0 0h0m0 0h0m1 0h0m0 0h0m0 0h0m0 0h0m1 0h0m1 0h0m0 0h0m1 0h0m1 0h0m0 0h0m1 0h0m1 0h0m1 0h0m0 0h0m0 0h0m1 0h0m3 0h0m0 0h0m1 0h0m2 0h0m0 0h0m0 0h0m0 0h0m1 0h0m1 0h0m0 0h0m0 0h0m1 0h0m0 0h0m2 0h0m1 0h0m1 0h0m0 0h0m0 0h0m1 0h0m3 0h0m1 0h0m1 0h0m0 0h0m7 0h0m1 0h0m3 0h0m3 0h0m2 0h0m3 0h0m2 0h0m10 0h0m13 0h0m13 0h0m2 0h0m-96 1h0m2 0h0m0 0h0m1 0h0m1 0h0m0 0h0m1 0h0m0 0h0m1 0h0m0 0h0m1 0h0m0 0h0m0 0h0m0 0h0m1 0h0m0 0h0m0 0h0m0 0h0m1 0h0m0 0h0m0 0h0m1 0h0m0 0h0m1 0h0m1 0h0m2 0h0m0 0h0m3 0h0m3 0h0m0 0h0m1 0h0m1 0h0m0 0h0m0 0h0m1 0h0m1 0h0m0 0h0m2 0h0m0 0h0m2 0h0m1 0h0m0 0h0m1 0h0m3 0h0m1 0h0m0 0h0m0 0h0m2 0h0m3 0h0m1 0h0m2 0h0m1 0h0m6 0h0m7 0h0m2 0h0m4 0h0m3 0h0m3 0h0m24 0h0m5 0h0m-97 1h0m0 0h0m1 0h0m0 0h0m0 0h0m0 0h0m0 0h0m1 0h0m0 0h0m1 0h0m0 0h0m1 0h0m0 0h0m1 0h0m0 0h0m1 0h0m2 0h0m0 0h0m0 0h0m0 0h0m0 0h0m1 0h0m2 0h0m0 0h0m1 0h0m0 0h0m0 0h0m1 0h0m0 0h0m2 0h0m0 0h0m2 0h0m0 0h0m1 0h0m0 0h0m0 0h0m2 0h0m0 0h0m0 0h0m0 0h0m1 0h0m0 0h0m0 0h0m1 0h0m0 0h0m1 0h0m1 0h0m1 0h0m2 0h0m0 0h0m2 0h0m0 0h0m1 0h0m1 0h0m0 0h0m1 0h0m2 0h0m0 0h0m0 0h0m1 0h0m2 0h0m2 0h0m2 0h0m1 0h0m1 0h0m14 0h0m26 0h0m-83 1h0m0 0h0m0 0h0m1 0h0m1 0h0m1 0h0m0 0h0m0 0h0m1 0h0m0 0h0m1 0h0m1 0h0m0 0h0m0 0h0m1 0h0m0 0h0m0 0h0m1 0h0m0 0h0m1 0h0m1 0h0m1 0h0m1 0h0m0 0h0m0 0h0m1 0h0m0 0h0m1 0h0m0 0h0m0 0h0m1 0h0m0 0h0m0 0h0m0 0h0m0 0h0m1 0h0m0 0h0m1 0h0m0 0h0m1 0h0m1 0h0m0 0h0m1 0h0m0 0h0m0 0h0m1 0h0m0 0h0m1 0h0m0 0h0m0 0h0m1 0h0m1 0h0m0 0h0m1 0h0m0 0h0m1 0h0m1 0h0m1 0h0m0 0h0m0 0h0m1 0h0m1 0h0m3 0h0m3 0h0m0 0h0m1 0h0m1 0h0m0 0h0m1 0h0m2 0h0m2 0h0m0 0h0m2 0h0m0 0h0m4 0h0m1 0h0m0 0h0m1 0h0m18 0h0m48 0h0m-117 1h0m0 0h0m1 0h0m0 0h0m0 0h0m1 0h0m0 0h0m1 0h0m0 0h0m1 0h0m0 0h0m0 0h0m0 0h0m1 0h0m0 0h0m1 0h0m1 0h0m0 0h0m0 0h0m1 0h0m0 0h0m1 0h0m1 0h0m0 0h0m0 0h0m0 0h0m1 0h0m0 0h0m0 0h0m0 0h0m1 0h0m0 0h0m1 0h0m2 0h0m1 0h0m1 0h0m0 0h0m1 0h0m0 0h0m2 0h0m1 0h0m0 0h0m1 0h0m1 0h0m0 0h0m0 0h0m1 0h0m0 0h0m2 0h0m0 0h0m0 0h0m1 0h0m0 0h0m1 0h0m1 0h0m0 0h0m3 0h0m3 0h0m0 0h0m0 0h0m1 0h0m1 0h0m0 0h0m2 0h0m1 0h0m0 0h0m1 0h0m5 0h0m2 0h0m3 0h0m1 0h0m5 0h0m8 0h0m8 0h0m0 0h0m7 0h0m4 0h0m33 0h0m25 0h0m-141 1h0m0 0h0m0 0h0m1 0h0m0 0h0m2 0h0m0 0h0m1 0h0m0 0h0m0 0h0m0 0h0m0 0h0m0 0h0m1 0h0m0 0h0m0 0h0m1 0h0m0 0h0m0 0h0m1 0h0m1 0h0m0 0h0m2 0h0m0 0h0m0 0h0m0 0h0m0 0h0m1 0h0m0 0h0m0 0h0m0 0h0m1 0h0m0 0h0m0 0h0m0 0h0m1 0h0m0 0h0m0 0h0m1 0h0m0 0h0m1 0h0m4 0h0m0 0h0m1 0h0m0 0h0m1 0h0m1 0h0m0 0h0m0 0h0m0 0h0m0 0h0m1 0h0m0 0h0m0 0h0m2 0h0m0 0h0m1 0h0m1 0h0m2 0h0m0 0h0m1 0h0m1 0h0m0 0h0m1 0h0m1 0h0m1 0h0m0 0h0m1 0h0m0 0h0m0 0h0m1 0h0m1 0h0m1 0h0m0 0h0m3 0h0m2 0h0m2 0h0m0 0h0m0 0h0m1 0h0m0 0h0m2 0h0m0 0h0m1 0h0m0 0h0m5 0h0m5 0h0m5 0h0m4 0h0m4 0h0m7 0h0m15 0h0m5 0h0m-100 1h0m0 0h0m1 0h0m0 0h0m1 0h0m0 0h0m1 0h0m0 0h0m0 0h0m3 0h0m1 0h0m0 0h0m0 0h0m0 0h0m0 0h0m1 0h0m1 0h0m0 0h0m0 0h0m1 0h0m0 0h0m0 0h0m1 0h0m0 0h0m0 0h0m1 0h0m0 0h0m2 0h0m0 0h0m2 0h0m0 0h0m1 0h0m0 0h0m0 0h0m0 0h0m0 0h0m2 0h0m1 0h0m1 0h0m0 0h0m0 0h0m0 0h0m2 0h0m1 0h0m0 0h0m2 0h0m1 0h0m0 0h0m2 0h0m1 0h0m0 0h0m1 0h0m2 0h0m2 0h0m0 0h0m0 0h0m1 0h0m2 0h0m9 0h0m8 0h0m3 0h0m1 0h0m1 0h0m2 0h0m2 0h0m1 0h0m3 0h0m0 0h0m1 0h0m2 0h0m7 0h0m1 0h0m14 0h0m8 0h0m13 0h0m-113 1h0m1 0h0m0 0h0m1 0h0m0 0h0m0 0h0m0 0h0m0 0h0m1 0h0m0 0h0m0 0h0m1 0h0m1 0h0m1 0h0m1 0h0m0 0h0m0 0h0m0 0h0m0 0h0m2 0h0m0 0h0m0 0h0m0 0h0m1 0h0m1 0h0m0 0h0m0 0h0m1 0h0m0 0h0m0 0h0m1 0h0m0 0h0m1 0h0m0 0h0m0 0h0m0 0h0m1 0h0m0 0h0m0 0h0m1 0h0m0 0h0m0 0h0m1 0h0m1 0h0m0 0h0m0 0h0m0 0h0m2 0h0m0 0h0m1 0h0m0 0h0m0 0h0m2 0h0m1 0h0m0 0h0m0 0h0m0 0h0m0 0h0m0 0h0m2 0h0m0 0h0m2 0h0m0 0h0m1 0h0m0 0h0m1 0h0m0 0h0m0 0h0m0 0h0m1 0h0m1 0h0m2 0h0m2 0h0m0 0h0m2 0h0m3 0h0m1 0h0m0 0h0m7 0h0m2 0h0m3 0h0m0 0h0m0 0h0m4 0h0m1 0h0m2 0h0m4 0h0m1 0h0m1 0h0m8 0h0m10 0h0m6 0h0m3 0h0m6 0h0m62 0h0m-162 1h0m0 0h0m0 0h0m1 0h0m1 0h0m1 0h0m0 0h0m0 0h0m0 0h0m1 0h0m1 0h0m0 0h0m1 0h0m0 0h0m1 0h0m0 0h0m0 0h0m0 0h0m1 0h0m1 0h0m0 0h0m1 0h0m1 0h0m0 0h0m1 0h0m0 0h0m2 0h0m0 0h0m0 0h0m1 0h0m1 0h0m0 0h0m0 0h0m0 0h0m1 0h0m0 0h0m1 0h0m0 0h0m2 0h0m0 0h0m2 0h0m1 0h0m0 0h0m0 0h0m2 0h0m0 0h0m0 0h0m3 0h0m0 0h0m0 0h0m2 0h0m2 0h0m1 0h0m1 0h0m0 0h0m1 0h0m4 0h0m2 0h0m0 0h0m2 0h0m2 0h0m0 0h0m1 0h0m1 0h0m0 0h0m8 0h0m0 0h0m2 0h0m2 0h0m5 0h0m3 0h0m1 0h0m1 0h0m18 0h0m5 0h0m8 0h0m-101 1h0m0 0h0m0 0h0m1 0h0m0 0h0m0 0h0m0 0h0m1 0h0m0 0h0m0 0h0m0 0h0m0 0h0m1 0h0m0 0h0m0 0h0m2 0h0m1 0h0m1 0h0m0 0h0m1 0h0m0 0h0m0 0h0m0 0h0m0 0h0m1 0h0m0 0h0m0 0h0m0 0h0m1 0h0m0 0h0m2 0h0m0 0h0m1 0h0m0 0h0m1 0h0m0 0h0m1 0h0m0 0h0m1 0h0m1 0h0m0 0h0m1 0h0m0 0h0m1 0h0m1 0h0m0 0h0m1 0h0m0 0h0m0 0h0m0 0h0m3 0h0m0 0h0m3 0h0m0 0h0m0 0h0m1 0h0m0 0h0m2 0h0m0 0h0m2 0h0m3 0h0m1 0h0m5 0h0m1 0h0m0 0h0m2 0h0m3 0h0m7 0h0m1 0h0m2 0h0m1 0h0m10 0h0m0 0h0m34 0h0m-102 1h0m0 0h0m1 0h0m0 0h0m0 0h0m0 0h0m1 0h0m0 0h0m0 0h0m1 0h0m0 0h0m0 0h0m1 0h0m0 0h0m0 0h0m0 0h0m1 0h0m0 0h0m1 0h0m0 0h0m0 0h0m1 0h0m0 0h0m0 0h0m1 0h0m1 0h0m0 0h0m1 0h0m0 0h0m1 0h0m0 0h0m0 0h0m1 0h0m2 0h0m1 0h0m0 0h0m0 0h0m0 0h0m1 0h0m0 0h0m0 0h0m0 0h0m1 0h0m0 0h0m0 0h0m0 0h0m1 0h0m0 0h0m1 0h0m0 0h0m0 0h0m1 0h0m1 0h0m0 0h0m0 0h0m0 0h0m1 0h0m0 0h0m1 0h0m0 0h0m1 0h0m0 0h0m0 0h0m1 0h0m1 0h0m1 0h0m1 0h0m0 0h0m2 0h0m0 0h0m0 0h0m0 0h0m0 0h0m3 0h0m0 0h0m3 0h0m0 0h0m1 0h0m0 0h0m3 0h0m2 0h0m4 0h0m2 0h0m0 0h0m3 0h0m0 0h0m0 0h0m2 0h0m1 0h0m3 0h0m0 0h0m3 0h0m2 0h0m3 0h0m0 0h0m7 0h0m7 0h0m1 0h0m-80 1h0m1 0h0m0 0h0m1 0h0m0 0h0m0 0h0m0 0h0m0 0h0m0 0h0m1 0h0m1 0h0m0 0h0m0 0h0m0 0h0m0 0h0m1 0h0m0 0h0m1 0h0m0 0h0m1 0h0m0 0h0m1 0h0m0 0h0m0 0h0m0 0h0m0 0h0m1 0h0m1 0h0m0 0h0m1 0h0m1 0h0m0 0h0m1 0h0m0 0h0m1 0h0m0 0h0m0 0h0m0 0h0m1 0h0m0 0h0m0 0h0m0 0h0m0 0h0m0 0h0m1 0h0m0 0h0m4 0h0m0 0h0m0 0h0m3 0h0m0 0h0m2 0h0m0 0h0m1 0h0m0 0h0m1 0h0m0 0h0m1 0h0m1 0h0m1 0h0m2 0h0m0 0h0m2 0h0m3 0h0m6 0h0m0 0h0m1 0h0m1 0h0m6 0h0m1 0h0m2 0h0m4 0h0m2 0h0m6 0h0m-66 1h0m1 0h0m0 0h0m0 0h0m0 0h0m0 0h0m1 0h0m0 0h0m1 0h0m0 0h0m0 0h0m0 0h0m0 0h0m1 0h0m0 0h0m0 0h0m0 0h0m1 0h0m0 0h0m0 0h0m0 0h0m0 0h0m1 0h0m0 0h0m0 0h0m0 0h0m1 0h0m0 0h0m0 0h0m0 0h0m1 0h0m0 0h0m0 0h0m1 0h0m1 0h0m0 0h0m0 0h0m1 0h0m0 0h0m0 0h0m0 0h0m0 0h0m1 0h0m0 0h0m0 0h0m1 0h0m0 0h0m1 0h0m1 0h0m0 0h0m0 0h0m1 0h0m0 0h0m1 0h0m0 0h0m0 0h0m0 0h0m1 0h0m0 0h0m0 0h0m1 0h0m1 0h0m0 0h0m0 0h0m1 0h0m0 0h0m1 0h0m0 0h0m0 0h0m3 0h0m0 0h0m0 0h0m1 0h0m1 0h0m1 0h0m0 0h0m1 0h0m1 0h0m0 0h0m0 0h0m1 0h0m2 0h0m1 0h0m0 0h0m1 0h0m1 0h0m1 0h0m1 0h0m0 0h0m0 0h0m2 0h0m0 0h0m3 0h0m2 0h0m2 0h0m9 0h0m1 0h0m1 0h0m11 0h0m3 0h0m10 0h0m21 0h0m-103 1h0m1 0h0m0 0h0m0 0h0m1 0h0m0 0h0m1 0h0m0 0h0m0 0h0m0 0h0m0 0h0m1 0h0m0 0h0m1 0h0m2 0h0m0 0h0m0 0h0m0 0h0m1 0h0m0 0h0m0 0h0m0 0h0m1 0h0m0 0h0m0 0h0m0 0h0m0 0h0m0 0h0m1 0h0m2 0h0m0 0h0m0 0h0m1 0h0m0 0h0m0 0h0m1 0h0m0 0h0m1 0h0m0 0h0m0 0h0m2 0h0m1 0h0m0 0h0m0 0h0m1 0h0m2 0h0m0 0h0m0 0h0m0 0h0m1 0h0m0 0h0m0 0h0m1 0h0m1 0h0m0 0h0m1 0h0m0 0h0m0 0h0m1 0h0m0 0h0m1 0h0m0 0h0m1 0h0m1 0h0m1 0h0m0 0h0m1 0h0m0 0h0m0 0h0m1 0h0m1 0h0m2 0h0m0 0h0m0 0h0m0 0h0m1 0h0m1 0h0m0 0h0m0 0h0m1 0h0m1 0h0m1 0h0m0 0h0m0 0h0m2 0h0m1 0h0m2 0h0m2 0h0m6 0h0m0 0h0m1 0h0m1 0h0m0 0h0m4 0h0m3 0h0m9 0h0m13 0h0m-84 1h0m0 0h0m1 0h0m1 0h0m1 0h0m0 0h0m0 0h0m1 0h0m0 0h0m0 0h0m1 0h0m1 0h0m0 0h0m0 0h0m1 0h0m1 0h0m0 0h0m0 0h0m0 0h0m1 0h0m0 0h0m0 0h0m1 0h0m0 0h0m0 0h0m0 0h0m0 0h0m1 0h0m0 0h0m0 0h0m1 0h0m1 0h0m0 0h0m0 0h0m0 0h0m1 0h0m0 0h0m1 0h0m1 0h0m0 0h0m1 0h0m0 0h0m0 0h0m0 0h0m3 0h0m0 0h0m0 0h0m1 0h0m0 0h0m1 0h0m0 0h0m1 0h0m0 0h0m0 0h0m1 0h0m0 0h0m1 0h0m1 0h0m1 0h0m0 0h0m2 0h0m0 0h0m1 0h0m0 0h0m1 0h0m0 0h0m3 0h0m0 0h0m2 0h0m1 0h0m1 0h0m0 0h0m0 0h0m8 0h0m7 0h0m2 0h0m1 0h0m0 0h0m1 0h0m2 0h0m7 0h0m1 0h0m0 0h0m1 0h0m2 0h0m8 0h0m5 0h0m4 0h0m2 0h0m8 0h0m10 0h0m-106 1h0m0 0h0m0 0h0m0 0h0m0 0h0m0 0h0m0 0h0m0 0h0m0 0h0m3 0h0m1 0h0m0 0h0m0 0h0m0 0h0m1 0h0m0 0h0m1 0h0m1 0h0m0 0h0m0 0h0m1 0h0m0 0h0m0 0h0m0 0h0m0 0h0m1 0h0m0 0h0m0 0h0m2 0h0m1 0h0m0 0h0m1 0h0m0 0h0m0 0h0m0 0h0m1 0h0m1 0h0m1 0h0m0 0h0m1 0h0m0 0h0m1 0h0m0 0h0m1 0h0m1 0h0m2 0h0m0 0h0m0 0h0m0 0h0m2 0h0m0 0h0m0 0h0m2 0h0m0 0h0m2 0h0m1 0h0m1 0h0m0 0h0m1 0h0m0 0h0m2 0h0m1 0h0m0 0h0m1 0h0m2 0h0m1 0h0m0 0h0m0 0h0m1 0h0m0 0h0m1 0h0m1 0h0m5 0h0m1 0h0m0 0h0m3 0h0m0 0h0m0 0h0m0 0h0m1 0h0m11 0h0m8 0h0m1 0h0m8 0h0m17 0h0m40 0h0m-137 1h0m0 0h0m0 0h0m0 0h0m0 0h0m0 0h0m0 0h0m1 0h0m0 0h0m0 0h0m0 0h0m0 0h0m0 0h0m0 0h0m0 0h0m0 0h0m0 0h0m0 0h0m0 0h0m0 0h0m0 0h0m0 0h0m0 0h0m0 0h0m1 0h0m0 0h0m0 0h0m0 0h0m0 0h0m0 0h0m0 0h0m0 0h0m0 0h0m1 0h0m0 0h0m0 0h0m0 0h0m0 0h0m0 0h0m0 0h0m0 0h0m0 0h0m0 0h0m0 0h0m0 0h0m0 0h0m0 0h0m0 0h0m1 0h0m0 0h0m0 0h0m0 0h0m0 0h0m0 0h0m0 0h0m0 0h0m0 0h0m0 0h0m0 0h0m0 0h0m0 0h0m1 0h0m0 0h0m0 0h0m0 0h0m0 0h0m0 0h0m0 0h0m0 0h0m0 0h0m0 0h0m0 0h0m0 0h0m0 0h0m0 0h0m0 0h0m1 0h0m0 0h0m0 0h0m0 0h0m0 0h0m0 0h0m0 0h0m0 0h0m0 0h0m0 0h0m0 0h0m0 0h0m0 0h0m0 0h0m0 0h0m0 0h0m0 0h0m0 0h0m0 0h0m1 0h0m0 0h0m0 0h0m0 0h0m0 0h0m0 0h0m0 0h0m0 0h0m0 0h0m0 0h0m0 0h0m0 0h0m0 0h0m1 0h0m0 0h0m0 0h0m0 0h0m0 0h0m0 0h0m0 0h0m0 0h0m0 0h0m0 0h0m0 0h0m1 0h0m0 0h0m0 0h0m0 0h0m0 0h0m0 0h0m0 0h0m0 0h0m0 0h0m0 0h0m0 0h0m0 0h0m0 0h0m0 0h0m1 0h0m0 0h0m0 0h0m0 0h0m0 0h0m0 0h0m0 0h0m0 0h0m0 0h0m0 0h0m1 0h0m0 0h0m0 0h0m0 0h0m0 0h0m0 0h0m0 0h0m1 0h0m0 0h0m0 0h0m0 0h0m0 0h0m0 0h0m0 0h0m0 0h0m1 0h0m0 0h0m0 0h0m0 0h0m0 0h0m0 0h0m0 0h0m0 0h0m0 0h0m0 0h0m0 0h0m0 0h0m0 0h0m0 0h0m0 0h0m1 0h0m0 0h0m0 0h0m0 0h0m0 0h0m0 0h0m0 0h0m0 0h0m0 0h0m0 0h0m0 0h0m0 0h0m0 0h0m0 0h0m0 0h0m0 0h0m1 0h0m0 0h0m0 0h0m0 0h0m0 0h0m0 0h0m0 0h0m0 0h0m0 0h0m1 0h0m0 0h0m0 0h0m0 0h0m0 0h0m0 0h0m0 0h0m0 0h0m0 0h0m1 0h0m0 0h0m0 0h0m0 0h0m0 0h0m0 0h0m0 0h0m0 0h0m0 0h0m0 0h0m0 0h0m1 0h0m0 0h0m0 0h0m0 0h0m0 0h0m0 0h0m0 0h0m0 0h0m0 0h0m1 0h0m0 0h0m0 0h0m1 0h0m0 0h0m0 0h0m0 0h0m0 0h0m0 0h0m0 0h0m1 0h0m0 0h0m0 0h0m0 0h0m0 0h0m0 0h0m0 0h0m0 0h0m0 0h0m0 0h0m0 0h0m0 0h0m0 0h0m0 0h0m1 0h0m0 0h0m0 0h0m0 0h0m0 0h0m1 0h0m0 0h0m0 0h0m0 0h0m0 0h0m0 0h0m0 0h0m0 0h0m0 0h0m1 0h0m0 0h0m0 0h0m0 0h0m0 0h0m0 0h0m1 0h0m0 0h0m0 0h0m0 0h0m0 0h0m0 0h0m1 0h0m0 0h0m0 0h0m0 0h0m0 0h0m0 0h0m1 0h0m0 0h0m0 0h0m0 0h0m0 0h0m0 0h0m0 0h0m0 0h0m0 0h0m1 0h0m0 0h0m0 0h0m0 0h0m0 0h0m0 0h0m1 0h0m0 0h0m0 0h0m0 0h0m0 0h0m0 0h0m0 0h0m0 0h0m0 0h0m0 0h0m1 0h0m0 0h0m0 0h0m1 0h0m0 0h0m0 0h0m0 0h0m0 0h0m0 0h0m0 0h0m1 0h0m0 0h0m0 0h0m1 0h0m0 0h0m0 0h0m0 0h0m1 0h0m0 0h0m0 0h0m0 0h0m0 0h0m1 0h0m0 0h0m0 0h0m0 0h0m0 0h0m0 0h0m1 0h0m0 0h0m0 0h0m0 0h0m0 0h0m1 0h0m0 0h0m1 0h0m0 0h0m0 0h0m0 0h0m0 0h0m0 0h0m1 0h0m1 0h0m0 0h0m0 0h0m0 0h0m0 0h0m0 0h0m0 0h0m1 0h0m0 0h0m1 0h0m0 0h0m0 0h0m0 0h0m1 0h0m0 0h0m0 0h0m0 0h0m0 0h0m1 0h0m0 0h0m0 0h0m0 0h0m0 0h0m0 0h0m0 0h0m0 0h0m1 0h0m0 0h0m1 0h0m0 0h0m2 0h0m0 0h0m1 0h0m0 0h0m0 0h0m1 0h0m0 0h0m1 0h0m0 0h0m0 0h0m0 0h0m0 0h0m0 0h0m0 0h0m0 0h0m1 0h0m2 0h0m1 0h0m0 0h0m2 0h0m0 0h0m3 0h0m0 0h0m1 0h0m0 0h0m0 0h0m1 0h0m1 0h0m0 0h0m1 0h0m1 0h0m0 0h0m0 0h0m1 0h0m0 0h0m0 0h0m0 0h0m0 0h0m0 0h0m1 0h0m0 0h0m0 0h0m1 0h0m0 0h0m2 0h0m1 0h0m2 0h0m1 0h0m0 0h0m0 0h0m2 0h0m1 0h0m1 0h0m0 0h0m0 0h0m1 0h0m0 0h0m3 0h0m2 0h0m1 0h0m1 0h0m1 0h0m1 0h0m1 0h0m0 0h0m1 0h0m5 0h0m2 0h0m3 0h0m1 0h0m5 0h0m1 0h0m4 0h0m1 0h0m0 0h0m0 0h0m4 0h0m5 0h0m2 0h0m5 0h0m7 0h0m83 0h0" stroke="#5c80b7" stroke-width="1.55" stroke-linecap="round" fill="none" opacity="0.88"/>
<line x1="683.6" y1="453.7" x2="683.6" y2="764.2" stroke="#3a3a3a" stroke-width="1.1" stroke-linecap="butt" />
<line x1="683.2" y1="764.2" x2="983.5" y2="764.2" stroke="#3a3a3a" stroke-width="1.1" stroke-linecap="butt" />
<line x1="679.4" y1="749.2" x2="683.6" y2="749.2" stroke="#3a3a3a" stroke-width="1.1" stroke-linecap="butt" />
<text font-size="17.38" fill="#141414" stroke="#141414" stroke-width="0.15" transform="translate(649.34 755.2) scale(1.0502 1)">0.0</text>
<line x1="679.4" y1="692.96" x2="683.6" y2="692.96" stroke="#3a3a3a" stroke-width="1.1" stroke-linecap="butt" />
<text font-size="17.38" fill="#141414" stroke="#141414" stroke-width="0.15" transform="translate(649.34 698.96) scale(1.0593 1)">0.2</text>
<line x1="679.4" y1="636.72" x2="683.6" y2="636.72" stroke="#3a3a3a" stroke-width="1.1" stroke-linecap="butt" />
<text font-size="17.38" fill="#141414" stroke="#141414" stroke-width="0.15" transform="translate(649.35 642.72) scale(1.0424 1)">0.4</text>
<line x1="679.4" y1="580.48" x2="683.6" y2="580.48" stroke="#3a3a3a" stroke-width="1.1" stroke-linecap="butt" />
<text font-size="17.38" fill="#141414" stroke="#141414" stroke-width="0.15" transform="translate(649.34 586.48) scale(1.0541 1)">0.6</text>
<line x1="679.4" y1="524.24" x2="683.6" y2="524.24" stroke="#3a3a3a" stroke-width="1.1" stroke-linecap="butt" />
<text font-size="17.38" fill="#141414" stroke="#141414" stroke-width="0.15" transform="translate(649.34 530.24) scale(1.0537 1)">0.8</text>
<line x1="679.4" y1="468" x2="683.6" y2="468" stroke="#3a3a3a" stroke-width="1.1" stroke-linecap="butt" />
<text font-size="17.38" fill="#141414" stroke="#141414" stroke-width="0.15" transform="translate(648.63 474) scale(1.0808 1)">1.0</text>
<line x1="696.9" y1="764.2" x2="696.9" y2="768.4" stroke="#3a3a3a" stroke-width="1.1" stroke-linecap="butt" />
<text font-size="17.38" fill="#141414" stroke="#141414" stroke-width="0.15" transform="translate(678.99 782.6) scale(1.0588 1)">0.00</text>
<line x1="765" y1="764.2" x2="765" y2="768.4" stroke="#3a3a3a" stroke-width="1.1" stroke-linecap="butt" />
<text font-size="17.38" fill="#141414" stroke="#141414" stroke-width="0.15" transform="translate(747.09 782.6) scale(1.0605 1)">0.25</text>
<line x1="833.1" y1="764.2" x2="833.1" y2="768.4" stroke="#3a3a3a" stroke-width="1.1" stroke-linecap="butt" />
<text font-size="17.38" fill="#141414" stroke="#141414" stroke-width="0.15" transform="translate(815.19 782.6) scale(1.0588 1)">0.50</text>
<line x1="901.2" y1="764.2" x2="901.2" y2="768.4" stroke="#3a3a3a" stroke-width="1.1" stroke-linecap="butt" />
<text font-size="17.38" fill="#141414" stroke="#141414" stroke-width="0.15" transform="translate(883.29 782.6) scale(1.0605 1)">0.75</text>
<line x1="969.3" y1="764.2" x2="969.3" y2="768.4" stroke="#3a3a3a" stroke-width="1.1" stroke-linecap="butt" />
<text font-size="17.38" fill="#141414" stroke="#141414" stroke-width="0.15" transform="translate(950.68 782.6) scale(1.0803 1)">1.00</text>
<text font-size="18.9" fill="#1c1a1a" transform="translate(764.74 803.3) scale(1.0004 1)">Converted Age</text>
<text font-size="18.9" fill="#1c1a1a" transform="translate(764.07 827.5) scale(1.0500 1)">Mutual Information</text>
<text font-size="18.9" fill="#1c1a1a" transform="translate(617.5 686.49) rotate(-90) scale(1.0201 1)">Unconverted Age</text>
<text font-size="18.9" fill="#1c1a1a" transform="translate(642.3 686.63) rotate(-90) scale(1.0539 1)">Mutual Information</text>
<line x1="683.3" y1="442.8" x2="983.5" y2="442.8" stroke="#3a3a3a" stroke-width="1.1" stroke-linecap="butt" />
<line x1="696.9" y1="442.8" x2="696.9" y2="446.7" stroke="#3a3a3a" stroke-width="1.1" stroke-linecap="butt" />
<line x1="765" y1="442.8" x2="765" y2="446.7" stroke="#3a3a3a" stroke-width="1.1" stroke-linecap="butt" />
<line x1="833.1" y1="442.8" x2="833.1" y2="446.7" stroke="#3a3a3a" stroke-width="1.1" stroke-linecap="butt" />
<line x1="901.2" y1="442.8" x2="901.2" y2="446.7" stroke="#3a3a3a" stroke-width="1.1" stroke-linecap="butt" />
<line x1="969.3" y1="442.8" x2="969.3" y2="446.7" stroke="#3a3a3a" stroke-width="1.1" stroke-linecap="butt" />
<rect x="697" y="391.7" width="2.3" height="51.1" fill="#6b8fc4" stroke="#3f6399" stroke-width="0.5"/>
<rect x="699.2" y="438.7" width="2.4" height="4.1" fill="#6b8fc4" stroke="#3f6399" stroke-width="0.5"/>
<rect x="701.6" y="438.7" width="2.4" height="4.1" fill="#6b8fc4" stroke="#3f6399" stroke-width="0.5"/>
<rect x="704" y="438.7" width="2.4" height="4.1" fill="#6b8fc4" stroke="#3f6399" stroke-width="0.5"/>
<rect x="706.4" y="438.7" width="1.9" height="4.1" fill="#6b8fc4" stroke="#3f6399" stroke-width="0.5"/>
<rect x="708.3" y="427.5" width="2.5" height="15.3" fill="#6b8fc4" stroke="#3f6399" stroke-width="0.5"/>
<rect x="710.8" y="439" width="2.5" height="3.8" fill="#6b8fc4" stroke="#3f6399" stroke-width="0.5"/>
<rect x="713.3" y="436.3" width="2.5" height="6.5" fill="#6b8fc4" stroke="#3f6399" stroke-width="0.5"/>
<rect x="715.8" y="440" width="2.5" height="2.8" fill="#6b8fc4" stroke="#3f6399" stroke-width="0.5"/>
<rect x="718.3" y="440" width="2.5" height="2.8" fill="#6b8fc4" stroke="#3f6399" stroke-width="0.5"/>
<rect x="720.8" y="440" width="2.5" height="2.8" fill="#6b8fc4" stroke="#3f6399" stroke-width="0.5"/>
<rect x="723.3" y="440" width="2.5" height="2.8" fill="#6b8fc4" stroke="#3f6399" stroke-width="0.5"/>
<rect x="725.8" y="439.5" width="2.5" height="3.3" fill="#6b8fc4" stroke="#3f6399" stroke-width="0.5"/>
<rect x="728.3" y="440.5" width="2.5" height="2.3" fill="#6b8fc4" stroke="#3f6399" stroke-width="0.5"/>
<rect x="730.8" y="441.2" width="2.5" height="1.6" fill="#6b8fc4" stroke="#3f6399" stroke-width="0.5"/>
<rect x="733.3" y="441.2" width="2.5" height="1.6" fill="#6b8fc4" stroke="#3f6399" stroke-width="0.5"/>
<rect x="735.8" y="441.5" width="2.5" height="1.3" fill="#6b8fc4" stroke="#3f6399" stroke-width="0.5"/>
<rect x="738.3" y="442" width="10.9" height="0.8" fill="#6b8fc4" stroke="#3f6399" stroke-width="0.5"/>
<rect x="749.2" y="439.5" width="2.4" height="3.3" fill="#6b8fc4" stroke="#3f6399" stroke-width="0.5"/>
<rect x="751.6" y="437.8" width="2.5" height="5" fill="#6b8fc4" stroke="#3f6399" stroke-width="0.5"/>
<rect x="754.1" y="438.2" width="2.5" height="4.6" fill="#6b8fc4" stroke="#3f6399" stroke-width="0.5"/>
<rect x="756.6" y="438.8" width="2.5" height="4" fill="#6b8fc4" stroke="#3f6399" stroke-width="0.5"/>
<rect x="759.1" y="439.2" width="2.5" height="3.6" fill="#6b8fc4" stroke="#3f6399" stroke-width="0.5"/>
<rect x="761.6" y="439.3" width="2.5" height="3.5" fill="#6b8fc4" stroke="#3f6399" stroke-width="0.5"/>
<rect x="764.1" y="439.6" width="2.5" height="3.2" fill="#6b8fc4" stroke="#3f6399" stroke-width="0.5"/>
<rect x="766.6" y="440.3" width="2.5" height="2.5" fill="#6b8fc4" stroke="#3f6399" stroke-width="0.5"/>
<rect x="769.1" y="440.8" width="2.5" height="2" fill="#6b8fc4" stroke="#3f6399" stroke-width="0.5"/>
<rect x="771.6" y="441.2" width="2.5" height="1.6" fill="#6b8fc4" stroke="#3f6399" stroke-width="0.5"/>
<rect x="774.1" y="442" width="13.4" height="0.8" fill="#6b8fc4" stroke="#3f6399" stroke-width="0.5"/>
<line x1="994.4" y1="453.3" x2="994.4" y2="763.9" stroke="#3a3a3a" stroke-width="1.1" stroke-linecap="butt" />
<line x1="989.9" y1="749.2" x2="994.4" y2="749.2" stroke="#3a3a3a" stroke-width="1.1" stroke-linecap="butt" />
<line x1="989.9" y1="692.96" x2="994.4" y2="692.96" stroke="#3a3a3a" stroke-width="1.1" stroke-linecap="butt" />
<line x1="989.9" y1="636.72" x2="994.4" y2="636.72" stroke="#3a3a3a" stroke-width="1.1" stroke-linecap="butt" />
<line x1="989.9" y1="580.48" x2="994.4" y2="580.48" stroke="#3a3a3a" stroke-width="1.1" stroke-linecap="butt" />
<line x1="989.9" y1="524.24" x2="994.4" y2="524.24" stroke="#3a3a3a" stroke-width="1.1" stroke-linecap="butt" />
<line x1="989.9" y1="468" x2="994.4" y2="468" stroke="#3a3a3a" stroke-width="1.1" stroke-linecap="butt" />
<path d="M994.4 612 L996 630 L999 650 L1002 668 L1005 684 L1007.5 690 L1007.5 693 L994.4 693 Z" fill="#6b8fc4" stroke="#3f6399" stroke-width="0.6"/>
<line x1="994.4" y1="674.4" x2="1026.5" y2="674.4" stroke="#4a6ea6" stroke-width="1.6" stroke-linecap="butt" />
<line x1="994.4" y1="665.1" x2="1009.8" y2="665.1" stroke="#4a6ea6" stroke-width="1.4" stroke-linecap="butt" />
<line x1="994.4" y1="643" x2="998.7" y2="643" stroke="#4a6ea6" stroke-width="1.2" stroke-linecap="butt" />
<line x1="994.4" y1="748.2" x2="1042.5" y2="748.2" stroke="#4a6ea6" stroke-width="1.6" stroke-linecap="butt" />
<line x1="995" y1="736" x2="995" y2="748" stroke="#4a6ea6" stroke-width="1.2" stroke-linecap="butt" />
<rect x="90" y="857.2" width="484.7" height="360.3" fill="#b8b8b8" />
<line x1="101.4" y1="1038.5" x2="150" y2="1038.5" stroke="#6f8fbd" stroke-width="1" stroke-linecap="butt" />
<line x1="101.4" y1="1021" x2="150" y2="1021" stroke="#4d4d4d" stroke-width="1.6" stroke-linecap="butt" />
<line x1="101.4" y1="1054" x2="150" y2="1054" stroke="#4d4d4d" stroke-width="1.6" stroke-linecap="butt" />
<line x1="126" y1="1021" x2="126" y2="1054" stroke="#111" stroke-width="1.8" stroke-linecap="butt" />
<rect x="150.4" y="1038" width="48.6" height="14.6" fill="#dc7e34" />
<line x1="150.4" y1="1027" x2="199" y2="1027" stroke="#4d4d4d" stroke-width="1.6" stroke-linecap="butt" />
<line x1="150.4" y1="1078" x2="199" y2="1078" stroke="#4d4d4d" stroke-width="1.6" stroke-linecap="butt" />
<line x1="175" y1="1027" x2="175" y2="1078" stroke="#111" stroke-width="1.8" stroke-linecap="butt" />
<rect x="223.6" y="1034" width="48.4" height="4.4" fill="#4c6b92" />
<line x1="223.6" y1="1026.2" x2="272" y2="1026.2" stroke="#4d4d4d" stroke-width="1.6" stroke-linecap="butt" />
<line x1="223.6" y1="1041.6" x2="272" y2="1041.6" stroke="#4d4d4d" stroke-width="1.6" stroke-linecap="butt" />
<line x1="248" y1="1026.2" x2="248" y2="1041.6" stroke="#111" stroke-width="1.8" stroke-linecap="butt" />
<rect x="272" y="1033" width="49.4" height="5.4" fill="#dc7e34" />
<line x1="272" y1="1022.2" x2="321.4" y2="1022.2" stroke="#4d4d4d" stroke-width="1.6" stroke-linecap="butt" />
<line x1="272" y1="1043.6" x2="321.4" y2="1043.6" stroke="#4d4d4d" stroke-width="1.6" stroke-linecap="butt" />
<line x1="296.6" y1="1022.2" x2="296.6" y2="1043.6" stroke="#111" stroke-width="1.8" stroke-linecap="butt" />
<rect x="345.6" y="1036.4" width="48.8" height="1.8" fill="#4f72a6" />
<line x1="345.6" y1="1028.6" x2="394.4" y2="1028.6" stroke="#4d4d4d" stroke-width="1.6" stroke-linecap="butt" />
<line x1="345.6" y1="1044" x2="394.4" y2="1044" stroke="#4d4d4d" stroke-width="1.6" stroke-linecap="butt" />
<line x1="370" y1="1028.6" x2="370" y2="1044" stroke="#111" stroke-width="1.8" stroke-linecap="butt" />
<rect x="394.4" y="1038" width="48.8" height="2" fill="#e58237" />
<line x1="394.4" y1="1029" x2="443.2" y2="1029" stroke="#4d4d4d" stroke-width="1.6" stroke-linecap="butt" />
<line x1="394.4" y1="1051" x2="443.2" y2="1051" stroke="#4d4d4d" stroke-width="1.6" stroke-linecap="butt" />
<line x1="418.6" y1="1029" x2="418.6" y2="1051" stroke="#111" stroke-width="1.8" stroke-linecap="butt" />
<rect x="467.6" y="1038" width="48.8" height="3.4" fill="#4c6b92" />
<line x1="467.6" y1="1036" x2="516.4" y2="1036" stroke="#4d4d4d" stroke-width="1.6" stroke-linecap="butt" />
<line x1="467.6" y1="1046.4" x2="516.4" y2="1046.4" stroke="#4d4d4d" stroke-width="1.6" stroke-linecap="butt" />
<line x1="492" y1="1036" x2="492" y2="1046.4" stroke="#111" stroke-width="1.8" stroke-linecap="butt" />
<line x1="516.4" y1="1038.5" x2="565.4" y2="1038.5" stroke="#e8914a" stroke-width="1" stroke-linecap="butt" />
<line x1="516.4" y1="1031" x2="565.4" y2="1031" stroke="#4d4d4d" stroke-width="1.6" stroke-linecap="butt" />
<line x1="516.4" y1="1046.4" x2="565.4" y2="1046.4" stroke="#4d4d4d" stroke-width="1.6" stroke-linecap="butt" />
<line x1="541" y1="1031" x2="541" y2="1046.4" stroke="#111" stroke-width="1.8" stroke-linecap="butt" />
<line x1="590.4" y1="1038.5" x2="639" y2="1038.5" stroke="#6f8fbd" stroke-width="1" stroke-linecap="butt" />
<line x1="590.4" y1="1021" x2="639" y2="1021" stroke="#4d4d4d" stroke-width="1.6" stroke-linecap="butt" />
<line x1="590.4" y1="1054" x2="639" y2="1054" stroke="#4d4d4d" stroke-width="1.6" stroke-linecap="butt" />
<line x1="615" y1="1021" x2="615" y2="1054" stroke="#111" stroke-width="1.8" stroke-linecap="butt" />
<rect x="639.4" y="1038" width="48.6" height="14.6" fill="#dc7e34" />
<line x1="639.4" y1="1027" x2="688" y2="1027" stroke="#4d4d4d" stroke-width="1.6" stroke-linecap="butt" />
<line x1="639.4" y1="1078" x2="688" y2="1078" stroke="#4d4d4d" stroke-width="1.6" stroke-linecap="butt" />
<line x1="664" y1="1027" x2="664" y2="1078" stroke="#111" stroke-width="1.8" stroke-linecap="butt" />
<rect x="712.6" y="1034" width="48.4" height="4.4" fill="#4c6b92" />
<line x1="712.6" y1="1026.2" x2="761" y2="1026.2" stroke="#4d4d4d" stroke-width="1.6" stroke-linecap="butt" />
<line x1="712.6" y1="1041.6" x2="761" y2="1041.6" stroke="#4d4d4d" stroke-width="1.6" stroke-linecap="butt" />
<line x1="737" y1="1026.2" x2="737" y2="1041.6" stroke="#111" stroke-width="1.8" stroke-linecap="butt" />
<rect x="761" y="1033" width="49.4" height="5.4" fill="#dc7e34" />
<line x1="761" y1="1022.2" x2="810.4" y2="1022.2" stroke="#4d4d4d" stroke-width="1.6" stroke-linecap="butt" />
<line x1="761" y1="1043.6" x2="810.4" y2="1043.6" stroke="#4d4d4d" stroke-width="1.6" stroke-linecap="butt" />
<line x1="785.6" y1="1022.2" x2="785.6" y2="1043.6" stroke="#111" stroke-width="1.8" stroke-linecap="butt" />
<rect x="834.6" y="1036.4" width="48.8" height="1.8" fill="#4f72a6" />
<line x1="834.6" y1="1028.6" x2="883.4" y2="1028.6" stroke="#4d4d4d" stroke-width="1.6" stroke-linecap="butt" />
<line x1="834.6" y1="1044" x2="883.4" y2="1044" stroke="#4d4d4d" stroke-width="1.6" stroke-linecap="butt" />
<line x1="859" y1="1028.6" x2="859" y2="1044" stroke="#111" stroke-width="1.8" stroke-linecap="butt" />
<rect x="883.4" y="1038" width="48.8" height="2" fill="#e58237" />
<line x1="883.4" y1="1029" x2="932.2" y2="1029" stroke="#4d4d4d" stroke-width="1.6" stroke-linecap="butt" />
<line x1="883.4" y1="1051" x2="932.2" y2="1051" stroke="#4d4d4d" stroke-width="1.6" stroke-linecap="butt" />
<line x1="907.6" y1="1029" x2="907.6" y2="1051" stroke="#111" stroke-width="1.8" stroke-linecap="butt" />
<rect x="956.6" y="1038" width="48.8" height="3.4" fill="#4c6b92" />
<line x1="956.6" y1="1036" x2="1005.4" y2="1036" stroke="#4d4d4d" stroke-width="1.6" stroke-linecap="butt" />
<line x1="956.6" y1="1046.4" x2="1005.4" y2="1046.4" stroke="#4d4d4d" stroke-width="1.6" stroke-linecap="butt" />
<line x1="981" y1="1036" x2="981" y2="1046.4" stroke="#111" stroke-width="1.8" stroke-linecap="butt" />
<line x1="1005.4" y1="1038.5" x2="1054.4" y2="1038.5" stroke="#e8914a" stroke-width="1" stroke-linecap="butt" />
<line x1="1005.4" y1="1031" x2="1054.4" y2="1031" stroke="#4d4d4d" stroke-width="1.6" stroke-linecap="butt" />
<line x1="1005.4" y1="1046.4" x2="1054.4" y2="1046.4" stroke="#4d4d4d" stroke-width="1.6" stroke-linecap="butt" />
<line x1="1030" y1="1031" x2="1030" y2="1046.4" stroke="#111" stroke-width="1.8" stroke-linecap="butt" />
<rect x="89.3" y="856.4" width="977" height="363.6" fill="none" stroke="#141414" stroke-width="1.9"/>
<line x1="84.3" y1="856.4" x2="89.3" y2="856.4" stroke="#141414" stroke-width="1.6" stroke-linecap="butt" />
<text font-size="14.09" fill="#141414" stroke="#141414" stroke-width="0.15" transform="translate(58.73 861.9) scale(1.0593 1)">2.0</text>
<line x1="84.3" y1="901.85" x2="89.3" y2="901.85" stroke="#141414" stroke-width="1.6" stroke-linecap="butt" />
<text font-size="14.09" fill="#141414" stroke="#141414" stroke-width="0.15" transform="translate(58.32 907.35) scale(1.0832 1)">1.5</text>
<line x1="84.3" y1="947.3" x2="89.3" y2="947.3" stroke="#141414" stroke-width="1.6" stroke-linecap="butt" />
<text font-size="14.09" fill="#141414" stroke="#141414" stroke-width="0.15" transform="translate(58.32 952.8) scale(1.0808 1)">1.0</text>
<line x1="84.3" y1="992.75" x2="89.3" y2="992.75" stroke="#141414" stroke-width="1.6" stroke-linecap="butt" />
<text font-size="14.09" fill="#141414" stroke="#141414" stroke-width="0.15" transform="translate(58.9 998.25) scale(1.0525 1)">0.5</text>
<line x1="84.3" y1="1038.2" x2="89.3" y2="1038.2" stroke="#141414" stroke-width="1.6" stroke-linecap="butt" />
<text font-size="14.09" fill="#141414" stroke="#141414" stroke-width="0.15" transform="translate(58.9 1043.7) scale(1.0502 1)">0.0</text>
<line x1="84.3" y1="1083.65" x2="89.3" y2="1083.65" stroke="#141414" stroke-width="1.6" stroke-linecap="butt" />
<text font-size="14.09" fill="#141414" stroke="#141414" stroke-width="0.15" transform="translate(47.54 1089.15) scale(1.1519 1)">−0.5</text>
<line x1="84.3" y1="1129.1" x2="89.3" y2="1129.1" stroke="#141414" stroke-width="1.6" stroke-linecap="butt" />
<text font-size="14.09" fill="#141414" stroke="#141414" stroke-width="0.15" transform="translate(47.54 1134.6) scale(1.1501 1)">−1.0</text>
<line x1="84.3" y1="1174.55" x2="89.3" y2="1174.55" stroke="#141414" stroke-width="1.6" stroke-linecap="butt" />
<text font-size="14.09" fill="#141414" stroke="#141414" stroke-width="0.15" transform="translate(47.54 1180.05) scale(1.1519 1)">−1.5</text>
<line x1="84.3" y1="1220" x2="89.3" y2="1220" stroke="#141414" stroke-width="1.6" stroke-linecap="butt" />
<text font-size="14.09" fill="#141414" stroke="#141414" stroke-width="0.15" transform="translate(47.54 1225.5) scale(1.1501 1)">−2.0</text>
<line x1="150.1" y1="1220" x2="150.1" y2="1224.5" stroke="#141414" stroke-width="1.6" stroke-linecap="butt" />
<line x1="272.3" y1="1220" x2="272.3" y2="1224.5" stroke="#141414" stroke-width="1.6" stroke-linecap="butt" />
<line x1="394.5" y1="1220" x2="394.5" y2="1224.5" stroke="#141414" stroke-width="1.6" stroke-linecap="butt" />
<line x1="516.7" y1="1220" x2="516.7" y2="1224.5" stroke="#141414" stroke-width="1.6" stroke-linecap="butt" />
<line x1="638.9" y1="1220" x2="638.9" y2="1224.5" stroke="#141414" stroke-width="1.6" stroke-linecap="butt" />
<line x1="761.1" y1="1220" x2="761.1" y2="1224.5" stroke="#141414" stroke-width="1.6" stroke-linecap="butt" />
<line x1="883.3" y1="1220" x2="883.3" y2="1224.5" stroke="#141414" stroke-width="1.6" stroke-linecap="butt" />
<line x1="1005.5" y1="1220" x2="1005.5" y2="1224.5" stroke="#141414" stroke-width="1.6" stroke-linecap="butt" />
<text font-size="14.54" fill="#141414" stroke="#141414" stroke-width="0.35" transform="translate(128.74 1239.9) scale(1.0902 1)">Island</text>
<text font-size="14.54" fill="#141414" stroke="#141414" stroke-width="0.35" transform="translate(252.27 1239.9) scale(1.0325 1)">Shore</text>
<text font-size="14.54" fill="#141414" stroke="#141414" stroke-width="0.35" transform="translate(377.07 1239.9) scale(1.0311 1)">Shelf</text>
<text font-size="14.54" fill="#141414" stroke="#141414" stroke-width="0.35" transform="translate(503.7 1239.9) scale(0.9801 1)">Sea</text>
<text font-size="14.54" fill="#141414" stroke="#141414" stroke-width="0.35" transform="translate(617.54 1239.9) scale(1.0902 1)">Island</text>
<text font-size="14.54" fill="#141414" stroke="#141414" stroke-width="0.35" transform="translate(741.07 1239.9) scale(1.0325 1)">Shore</text>
<text font-size="14.54" fill="#141414" stroke="#141414" stroke-width="0.35" transform="translate(865.87 1239.9) scale(1.0311 1)">Shelf</text>
<text font-size="14.54" fill="#141414" stroke="#141414" stroke-width="0.35" transform="translate(992.5 1239.9) scale(0.9801 1)">Sea</text>
<text font-size="18.6" fill="#1c1a1a" transform="translate(44.8 1035.06) rotate(-90) scale(0.8899 1)">Log(OR)</text>
<rect x="894" y="875.3" width="47.8" height="10.2" fill="#4c6b92" />
<rect x="894" y="895.3" width="47.8" height="10.2" fill="#dc7e34" />
<text font-size="17.44" fill="#1c1a1a" transform="translate(945.6 885.4) scale(1.0208 1)">Converted</text>
<text font-size="17.44" fill="#1c1a1a" transform="translate(945.11 907.8) scale(1.0350 1)">Unconverted</text>
</svg></body></html>
